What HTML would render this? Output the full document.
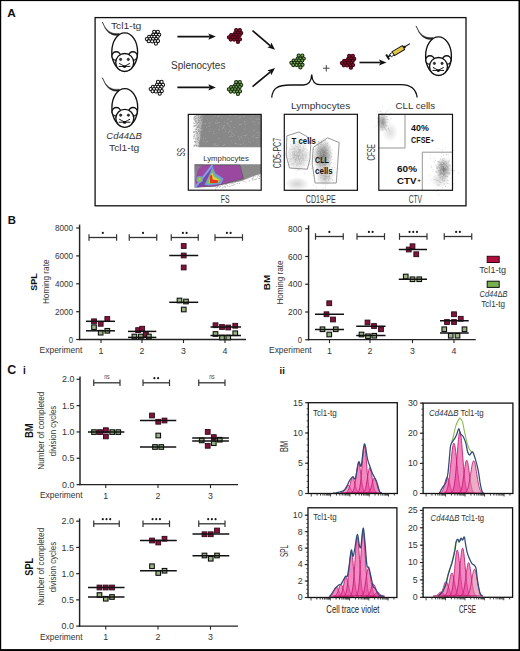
<!DOCTYPE html>
<html><head><meta charset="utf-8"><title>Figure</title>
<style>html,body{margin:0;padding:0;background:#fff;}body{width:520px;height:651px;overflow:hidden;font-family:"Liberation Sans",sans-serif;}svg{display:block;}</style>
</head><body>
<svg width="520" height="651" viewBox="0 0 520 651" font-family='"Liberation Sans", sans-serif'><rect x="0" y="0" width="520" height="651" fill="#fff"/>
<text x="7.30" y="16.90" font-size="11.8" text-anchor="start" fill="#111" font-weight="bold">A</text>
<rect x="95.1" y="17.6" width="370.9" height="188.2" fill="none" stroke="#111" stroke-width="1.3"/>
<g transform="translate(124.7 52)" stroke="#111" stroke-width="1.35" fill="#fff"><path d="M-22.6,-30 Q-16.9,-16.4 -5.5,-18.6 L-5.8,-16.6 Q-17.6,-15.2 -22.1,-29.7 Z" stroke-width="0.45" fill="#222"/><ellipse cx="0" cy="0" rx="12.9" ry="19.2"/><circle cx="-8.5" cy="4" r="4.3"/><circle cx="8.2" cy="4" r="4.3"/><circle cx="0" cy="10.5" r="9"/><circle cx="-4.1" cy="7.4" r="1.15" fill="#333" stroke-width="0.7"/><circle cx="3.6" cy="7.4" r="1.15" fill="#333" stroke-width="0.7"/><ellipse cx="-0.2" cy="14.6" rx="1.7" ry="1.35" fill="#111" stroke="none"/><path d="M-5.6,11.4 Q-3,12.6 -0.6,14.2 M-6,14.4 L-0.6,14.4 M5.2,11.4 Q2.6,12.6 0.2,14.2 M5.6,14.4 L0.2,14.4" fill="none" stroke-width="1"/></g>
<g transform="translate(124.8 107.8)" stroke="#111" stroke-width="1.35" fill="#fff"><path d="M-22.6,-30 Q-16.9,-16.4 -5.5,-18.6 L-5.8,-16.6 Q-17.6,-15.2 -22.1,-29.7 Z" stroke-width="0.45" fill="#222"/><ellipse cx="0" cy="0" rx="12.9" ry="19.2"/><circle cx="-8.5" cy="4" r="4.3"/><circle cx="8.2" cy="4" r="4.3"/><circle cx="0" cy="10.5" r="9"/><circle cx="-4.1" cy="7.4" r="1.15" fill="#333" stroke-width="0.7"/><circle cx="3.6" cy="7.4" r="1.15" fill="#333" stroke-width="0.7"/><ellipse cx="-0.2" cy="14.6" rx="1.7" ry="1.35" fill="#111" stroke="none"/><path d="M-5.6,11.4 Q-3,12.6 -0.6,14.2 M-6,14.4 L-0.6,14.4 M5.2,11.4 Q2.6,12.6 0.2,14.2 M5.6,14.4 L0.2,14.4" fill="none" stroke-width="1"/></g>
<g transform="translate(438.5 56)" stroke="#111" stroke-width="1.35" fill="#fff"><path d="M-22.6,-30 Q-16.9,-16.4 -5.5,-18.6 L-5.8,-16.6 Q-17.6,-15.2 -22.1,-29.7 Z" stroke-width="0.45" fill="#222"/><ellipse cx="0" cy="0" rx="12.9" ry="19.2"/><circle cx="-8.5" cy="4" r="4.3"/><circle cx="8.2" cy="4" r="4.3"/><circle cx="0" cy="10.5" r="9"/><circle cx="-4.1" cy="7.4" r="1.15" fill="#333" stroke-width="0.7"/><circle cx="3.6" cy="7.4" r="1.15" fill="#333" stroke-width="0.7"/><ellipse cx="-0.2" cy="14.6" rx="1.7" ry="1.35" fill="#111" stroke="none"/><path d="M-5.6,11.4 Q-3,12.6 -0.6,14.2 M-6,14.4 L-0.6,14.4 M5.2,11.4 Q2.6,12.6 0.2,14.2 M5.6,14.4 L0.2,14.4" fill="none" stroke-width="1"/></g>
<text x="110.90" y="29.45" font-size="9.8" text-anchor="start" fill="#333" textLength="30.4" lengthAdjust="spacingAndGlyphs">Tcl1-tg</text>
<text x="106.30" y="139.40" font-size="9.8" text-anchor="start" fill="#333" font-style="italic" textLength="35.5" lengthAdjust="spacingAndGlyphs">Cd44<tspan font-style="normal">&#916;</tspan>B</text>
<text x="109.00" y="151.20" font-size="9.8" text-anchor="start" fill="#333" textLength="30.2" lengthAdjust="spacingAndGlyphs">Tcl1-tg</text>
<text x="171.00" y="69.10" font-size="10" text-anchor="start" fill="#333" textLength="54.4" lengthAdjust="spacingAndGlyphs">Splenocytes</text>
<text x="291.00" y="109.30" font-size="9.8" text-anchor="start" fill="#333" textLength="59.2" lengthAdjust="spacingAndGlyphs">Lymphocytes</text>
<text x="395.50" y="109.10" font-size="9.8" text-anchor="start" fill="#333" textLength="39.6" lengthAdjust="spacingAndGlyphs">CLL cells</text>
<g fill="#fff" stroke="#111" stroke-width="1.05"><circle cx="154.20" cy="31.80" r="1.6"/><circle cx="157.80" cy="31.80" r="1.6"/><circle cx="153.20" cy="34.80" r="1.6"/><circle cx="155.90" cy="34.80" r="1.6"/><circle cx="159.20" cy="34.80" r="1.6"/><circle cx="149.20" cy="36.80" r="1.6"/><circle cx="151.80" cy="36.70" r="1.6"/><circle cx="154.40" cy="36.80" r="1.6"/><circle cx="157.70" cy="36.80" r="1.6"/><circle cx="146.90" cy="39.00" r="1.6"/><circle cx="150.20" cy="39.00" r="1.6"/><circle cx="153.00" cy="39.00" r="1.6"/><circle cx="156.30" cy="39.00" r="1.6"/><circle cx="148.80" cy="41.20" r="1.6"/><circle cx="152.10" cy="41.30" r="1.6"/><circle cx="155.20" cy="41.20" r="1.6"/><circle cx="158.00" cy="41.00" r="1.6"/><circle cx="155.90" cy="43.60" r="1.6"/></g>
<g fill="#fff" stroke="#111" stroke-width="1.05"><circle cx="158.00" cy="81.90" r="1.6"/><circle cx="161.60" cy="81.90" r="1.6"/><circle cx="157.00" cy="84.90" r="1.6"/><circle cx="159.70" cy="84.90" r="1.6"/><circle cx="163.00" cy="84.90" r="1.6"/><circle cx="153.00" cy="86.90" r="1.6"/><circle cx="155.60" cy="86.80" r="1.6"/><circle cx="158.20" cy="86.90" r="1.6"/><circle cx="161.50" cy="86.90" r="1.6"/><circle cx="150.70" cy="89.10" r="1.6"/><circle cx="154.00" cy="89.10" r="1.6"/><circle cx="156.80" cy="89.10" r="1.6"/><circle cx="160.10" cy="89.10" r="1.6"/><circle cx="152.60" cy="91.30" r="1.6"/><circle cx="155.90" cy="91.40" r="1.6"/><circle cx="159.00" cy="91.30" r="1.6"/><circle cx="161.80" cy="91.10" r="1.6"/><circle cx="159.70" cy="93.70" r="1.6"/></g>
<g fill="#8a1030" stroke="#3a0410" stroke-width="1.05"><circle cx="236.20" cy="30.10" r="1.6"/><circle cx="239.80" cy="30.10" r="1.6"/><circle cx="235.20" cy="33.10" r="1.6"/><circle cx="237.90" cy="33.10" r="1.6"/><circle cx="241.20" cy="33.10" r="1.6"/><circle cx="231.20" cy="35.10" r="1.6"/><circle cx="233.80" cy="35.00" r="1.6"/><circle cx="236.40" cy="35.10" r="1.6"/><circle cx="239.70" cy="35.10" r="1.6"/><circle cx="228.90" cy="37.30" r="1.6"/><circle cx="232.20" cy="37.30" r="1.6"/><circle cx="235.00" cy="37.30" r="1.6"/><circle cx="238.30" cy="37.30" r="1.6"/><circle cx="230.80" cy="39.50" r="1.6"/><circle cx="234.10" cy="39.60" r="1.6"/><circle cx="237.20" cy="39.50" r="1.6"/><circle cx="240.00" cy="39.30" r="1.6"/><circle cx="237.90" cy="41.90" r="1.6"/></g>
<g fill="#80b060" stroke="#142a0c" stroke-width="1.05"><circle cx="236.20" cy="82.10" r="1.6"/><circle cx="239.80" cy="82.10" r="1.6"/><circle cx="235.20" cy="85.10" r="1.6"/><circle cx="237.90" cy="85.10" r="1.6"/><circle cx="241.20" cy="85.10" r="1.6"/><circle cx="231.20" cy="87.10" r="1.6"/><circle cx="233.80" cy="87.00" r="1.6"/><circle cx="236.40" cy="87.10" r="1.6"/><circle cx="239.70" cy="87.10" r="1.6"/><circle cx="228.90" cy="89.30" r="1.6"/><circle cx="232.20" cy="89.30" r="1.6"/><circle cx="235.00" cy="89.30" r="1.6"/><circle cx="238.30" cy="89.30" r="1.6"/><circle cx="230.80" cy="91.50" r="1.6"/><circle cx="234.10" cy="91.60" r="1.6"/><circle cx="237.20" cy="91.50" r="1.6"/><circle cx="240.00" cy="91.30" r="1.6"/><circle cx="237.90" cy="93.90" r="1.6"/></g>
<g fill="#80b060" stroke="#142a0c" stroke-width="1.05"><circle cx="298.70" cy="55.60" r="1.6"/><circle cx="302.30" cy="55.60" r="1.6"/><circle cx="297.70" cy="58.60" r="1.6"/><circle cx="300.40" cy="58.60" r="1.6"/><circle cx="303.70" cy="58.60" r="1.6"/><circle cx="293.70" cy="60.60" r="1.6"/><circle cx="296.30" cy="60.50" r="1.6"/><circle cx="298.90" cy="60.60" r="1.6"/><circle cx="302.20" cy="60.60" r="1.6"/><circle cx="291.40" cy="62.80" r="1.6"/><circle cx="294.70" cy="62.80" r="1.6"/><circle cx="297.50" cy="62.80" r="1.6"/><circle cx="300.80" cy="62.80" r="1.6"/><circle cx="293.30" cy="65.00" r="1.6"/><circle cx="296.60" cy="65.10" r="1.6"/><circle cx="299.70" cy="65.00" r="1.6"/><circle cx="302.50" cy="64.80" r="1.6"/><circle cx="300.40" cy="67.40" r="1.6"/></g>
<g fill="#8a1030" stroke="#3a0410" stroke-width="1.05"><circle cx="349.20" cy="55.90" r="1.6"/><circle cx="352.80" cy="55.90" r="1.6"/><circle cx="348.20" cy="58.90" r="1.6"/><circle cx="350.90" cy="58.90" r="1.6"/><circle cx="354.20" cy="58.90" r="1.6"/><circle cx="344.20" cy="60.90" r="1.6"/><circle cx="346.80" cy="60.80" r="1.6"/><circle cx="349.40" cy="60.90" r="1.6"/><circle cx="352.70" cy="60.90" r="1.6"/><circle cx="341.90" cy="63.10" r="1.6"/><circle cx="345.20" cy="63.10" r="1.6"/><circle cx="348.00" cy="63.10" r="1.6"/><circle cx="351.30" cy="63.10" r="1.6"/><circle cx="343.80" cy="65.30" r="1.6"/><circle cx="347.10" cy="65.40" r="1.6"/><circle cx="350.20" cy="65.30" r="1.6"/><circle cx="353.00" cy="65.10" r="1.6"/><circle cx="350.90" cy="67.70" r="1.6"/></g>
<line x1="177.40" y1="36.60" x2="209.80" y2="36.60" stroke="#111" stroke-width="1.6"/>
<path d="M215.80,36.60 L208.30,39.70 L209.80,36.60 L208.30,33.50 Z" fill="#111"/>
<line x1="177.40" y1="87.40" x2="209.80" y2="87.40" stroke="#111" stroke-width="1.6"/>
<path d="M215.80,87.40 L208.30,90.50 L209.80,87.40 L208.30,84.30 Z" fill="#111"/>
<line x1="252.50" y1="30.60" x2="270.44" y2="45.91" stroke="#111" stroke-width="1.6"/>
<path d="M275.00,49.80 L267.28,47.29 L270.44,45.91 L271.31,42.57 Z" fill="#111"/>
<line x1="252.50" y1="86.60" x2="270.38" y2="71.82" stroke="#111" stroke-width="1.6"/>
<path d="M275.00,68.00 L271.19,75.17 L270.38,71.82 L267.24,70.39 Z" fill="#111"/>
<line x1="359.50" y1="62.50" x2="380.50" y2="62.50" stroke="#111" stroke-width="1.6"/>
<path d="M386.50,62.50 L379.00,65.60 L380.50,62.50 L379.00,59.40 Z" fill="#111"/>
<line x1="326.30" y1="65.00" x2="326.30" y2="71.50" stroke="#333" stroke-width="0.9"/>
<line x1="323.00" y1="68.20" x2="329.60" y2="68.20" stroke="#333" stroke-width="0.9"/>
<g transform="translate(398.4 50.6) rotate(-31)" stroke="#111"><line x1="7" y1="0" x2="13.5" y2="0" stroke-width="1.1"/><rect x="6" y="-1.4" width="1.8" height="2.8" fill="#111" stroke="none"/><rect x="-6" y="-2.3" width="12" height="4.6" fill="#e2c448" stroke-width="0.9"/><rect x="-9.3" y="-1.6" width="3.3" height="3.2" fill="#fff" stroke-width="0.8"/><line x1="-12.3" y1="0" x2="-9.3" y2="0" stroke-width="1.6"/><line x1="-12.5" y1="-3" x2="-12.5" y2="3" stroke-width="1.9"/></g>
<path d="M271.7,97.6 C272.5,88 278,85 290,85 L303,85 C309,85 311.5,80 311.7,74.5 C312,80 314.5,84.6 320,84.6 L401,84.6 C410,84.6 416,89 417.2,97.5" fill="none" stroke="#111" stroke-width="1.3"/>
<defs><linearGradient id="gl" x1="0" x2="1" y1="0" y2="0"><stop offset="0" stop-color="#8a8a8a" stop-opacity="0"/><stop offset="1" stop-color="#8a8a8a" stop-opacity="1"/></linearGradient></defs>
<path d="M194.5,114.4 L204,114.4 L199.5,147.3 L194.5,147.3 Z" fill="url(#gl)"/>
<path d="M203.5,114.4 L261.2,114.4 L261.2,147.3 L199,147.3 Z" fill="#888"/>
<path d="M194.5 124.9h0.9v0.9h-0.9zM193.6 135.3h0.9v0.9h-0.9zM196.3 131.6h0.9v0.9h-0.9zM198.5 116.4h0.9v0.9h-0.9zM197.7 115.7h0.9v0.9h-0.9zM194.0 116.7h0.9v0.9h-0.9zM200.7 128.1h0.9v0.9h-0.9zM195.3 118.5h0.9v0.9h-0.9zM201.1 134.6h0.9v0.9h-0.9zM196.5 133.0h0.9v0.9h-0.9zM193.3 145.7h0.9v0.9h-0.9zM195.2 142.0h0.9v0.9h-0.9zM194.2 119.1h0.9v0.9h-0.9zM201.0 124.4h0.9v0.9h-0.9zM199.0 120.3h0.9v0.9h-0.9zM196.2 134.9h0.9v0.9h-0.9zM193.6 132.0h0.9v0.9h-0.9zM195.2 116.4h0.9v0.9h-0.9zM196.6 136.3h0.9v0.9h-0.9zM198.7 124.6h0.9v0.9h-0.9zM195.8 129.0h0.9v0.9h-0.9zM198.6 139.9h0.9v0.9h-0.9zM198.8 122.3h0.9v0.9h-0.9zM200.9 131.3h0.9v0.9h-0.9zM195.4 137.8h0.9v0.9h-0.9zM193.9 145.9h0.9v0.9h-0.9zM200.1 127.9h0.9v0.9h-0.9zM198.1 119.4h0.9v0.9h-0.9zM200.2 115.8h0.9v0.9h-0.9zM197.6 139.0h0.9v0.9h-0.9zM195.4 142.5h0.9v0.9h-0.9zM198.0 136.7h0.9v0.9h-0.9zM197.0 133.1h0.9v0.9h-0.9zM200.3 141.4h0.9v0.9h-0.9zM199.1 129.7h0.9v0.9h-0.9zM200.6 116.4h0.9v0.9h-0.9zM201.5 135.2h0.9v0.9h-0.9zM195.2 140.8h0.9v0.9h-0.9zM199.4 126.8h0.9v0.9h-0.9zM198.0 115.2h0.9v0.9h-0.9zM194.2 119.9h0.9v0.9h-0.9zM201.3 116.4h0.9v0.9h-0.9zM195.6 118.6h0.9v0.9h-0.9zM201.3 127.0h0.9v0.9h-0.9zM197.8 117.1h0.9v0.9h-0.9zM200.9 132.1h0.9v0.9h-0.9zM199.8 140.7h0.9v0.9h-0.9zM197.1 123.4h0.9v0.9h-0.9zM201.5 126.0h0.9v0.9h-0.9zM194.1 145.1h0.9v0.9h-0.9zM195.4 120.1h0.9v0.9h-0.9zM197.9 122.0h0.9v0.9h-0.9zM195.3 133.4h0.9v0.9h-0.9zM197.6 114.6h0.9v0.9h-0.9zM198.4 126.3h0.9v0.9h-0.9zM198.1 145.0h0.9v0.9h-0.9zM198.6 131.0h0.9v0.9h-0.9zM193.5 136.1h0.9v0.9h-0.9zM198.9 143.3h0.9v0.9h-0.9zM199.1 142.5h0.9v0.9h-0.9zM196.8 127.1h0.9v0.9h-0.9zM199.7 117.8h0.9v0.9h-0.9zM193.7 116.5h0.9v0.9h-0.9zM194.7 121.2h0.9v0.9h-0.9zM193.5 125.4h0.9v0.9h-0.9zM194.7 114.5h0.9v0.9h-0.9zM196.9 117.7h0.9v0.9h-0.9zM202.5 115.3h0.9v0.9h-0.9zM194.3 134.2h0.9v0.9h-0.9zM196.5 122.6h0.9v0.9h-0.9zM194.2 126.2h0.9v0.9h-0.9zM200.7 141.7h0.9v0.9h-0.9zM197.5 129.4h0.9v0.9h-0.9zM194.1 117.2h0.9v0.9h-0.9zM195.6 125.5h0.9v0.9h-0.9zM194.3 141.0h0.9v0.9h-0.9zM203.4 115.2h0.9v0.9h-0.9zM194.3 131.4h0.9v0.9h-0.9zM193.2 131.9h0.9v0.9h-0.9zM201.8 131.4h0.9v0.9h-0.9zM198.4 142.1h0.9v0.9h-0.9zM196.7 122.9h0.9v0.9h-0.9zM201.0 119.8h0.9v0.9h-0.9zM200.0 131.5h0.9v0.9h-0.9zM195.2 125.0h0.9v0.9h-0.9zM200.8 140.5h0.9v0.9h-0.9zM199.2 141.8h0.9v0.9h-0.9zM198.8 140.7h0.9v0.9h-0.9zM198.2 121.8h0.9v0.9h-0.9zM193.3 125.9h0.9v0.9h-0.9zM196.0 115.4h0.9v0.9h-0.9zM199.9 122.8h0.9v0.9h-0.9zM196.3 145.1h0.9v0.9h-0.9zM200.3 144.5h0.9v0.9h-0.9zM195.7 145.1h0.9v0.9h-0.9zM195.3 121.6h0.9v0.9h-0.9zM195.1 120.8h0.9v0.9h-0.9zM200.7 134.5h0.9v0.9h-0.9zM196.7 141.4h0.9v0.9h-0.9zM199.8 135.4h0.9v0.9h-0.9zM200.1 117.2h0.9v0.9h-0.9zM198.9 143.6h0.9v0.9h-0.9zM196.9 138.5h0.9v0.9h-0.9zM201.1 120.2h0.9v0.9h-0.9zM200.8 125.1h0.9v0.9h-0.9zM195.9 145.6h0.9v0.9h-0.9zM202.0 127.3h0.9v0.9h-0.9zM194.4 137.7h0.9v0.9h-0.9zM194.6 118.6h0.9v0.9h-0.9zM199.1 143.5h0.9v0.9h-0.9zM201.6 119.2h0.9v0.9h-0.9zM197.8 145.9h0.9v0.9h-0.9zM198.3 125.7h0.9v0.9h-0.9zM193.1 118.7h0.9v0.9h-0.9zM197.7 145.6h0.9v0.9h-0.9zM201.4 131.4h0.9v0.9h-0.9zM201.1 128.4h0.9v0.9h-0.9zM194.7 140.9h0.9v0.9h-0.9zM195.9 122.6h0.9v0.9h-0.9zM198.9 122.2h0.9v0.9h-0.9zM197.2 122.8h0.9v0.9h-0.9zM202.6 118.7h0.9v0.9h-0.9zM197.4 125.8h0.9v0.9h-0.9zM200.9 133.2h0.9v0.9h-0.9zM201.6 128.0h0.9v0.9h-0.9zM197.8 130.6h0.9v0.9h-0.9zM193.2 131.3h0.9v0.9h-0.9zM194.7 128.6h0.9v0.9h-0.9zM201.8 114.6h0.9v0.9h-0.9zM197.9 120.0h0.9v0.9h-0.9zM197.6 137.7h0.9v0.9h-0.9zM198.1 124.9h0.9v0.9h-0.9zM200.0 132.3h0.9v0.9h-0.9zM198.9 117.9h0.9v0.9h-0.9zM195.8 122.5h0.9v0.9h-0.9zM197.1 139.2h0.9v0.9h-0.9zM199.7 132.5h0.9v0.9h-0.9zM196.3 143.7h0.9v0.9h-0.9zM197.4 134.1h0.9v0.9h-0.9zM199.3 130.9h0.9v0.9h-0.9zM197.9 129.0h0.9v0.9h-0.9zM201.6 129.8h0.9v0.9h-0.9zM200.3 136.9h0.9v0.9h-0.9zM194.9 144.6h0.9v0.9h-0.9zM201.3 132.4h0.9v0.9h-0.9zM194.1 141.4h0.9v0.9h-0.9zM197.7 118.4h0.9v0.9h-0.9zM195.6 116.8h0.9v0.9h-0.9zM200.2 116.8h0.9v0.9h-0.9zM200.2 139.6h0.9v0.9h-0.9zM200.5 119.4h0.9v0.9h-0.9zM194.2 135.6h0.9v0.9h-0.9zM200.4 142.8h0.9v0.9h-0.9zM202.7 121.5h0.9v0.9h-0.9zM197.6 127.2h0.9v0.9h-0.9zM199.0 146.2h0.9v0.9h-0.9zM197.5 119.7h0.9v0.9h-0.9zM196.1 131.0h0.9v0.9h-0.9zM196.3 120.8h0.9v0.9h-0.9zM193.2 137.6h0.9v0.9h-0.9zM196.9 132.2h0.9v0.9h-0.9zM196.6 115.1h0.9v0.9h-0.9zM197.4 134.5h0.9v0.9h-0.9zM203.6 116.6h0.9v0.9h-0.9zM200.7 139.7h0.9v0.9h-0.9zM195.8 117.9h0.9v0.9h-0.9zM201.5 115.8h0.9v0.9h-0.9zM194.3 123.2h0.9v0.9h-0.9zM201.5 128.0h0.9v0.9h-0.9zM195.0 140.7h0.9v0.9h-0.9zM202.6 119.3h0.9v0.9h-0.9zM199.2 132.8h0.9v0.9h-0.9zM193.6 117.4h0.9v0.9h-0.9zM196.6 136.5h0.9v0.9h-0.9zM203.1 116.8h0.9v0.9h-0.9zM199.9 134.8h0.9v0.9h-0.9zM202.1 117.2h0.9v0.9h-0.9zM202.3 116.6h0.9v0.9h-0.9zM196.1 129.0h0.9v0.9h-0.9zM201.2 132.2h0.9v0.9h-0.9zM194.3 123.1h0.9v0.9h-0.9zM195.1 131.4h0.9v0.9h-0.9zM194.7 118.0h0.9v0.9h-0.9zM195.2 116.1h0.9v0.9h-0.9zM196.0 124.5h0.9v0.9h-0.9zM195.3 138.8h0.9v0.9h-0.9zM194.6 130.5h0.9v0.9h-0.9zM193.2 125.6h0.9v0.9h-0.9zM193.2 122.5h0.9v0.9h-0.9zM197.5 138.0h0.9v0.9h-0.9zM197.9 120.6h0.9v0.9h-0.9zM193.8 144.4h0.9v0.9h-0.9zM196.4 140.7h0.9v0.9h-0.9zM200.6 130.3h0.9v0.9h-0.9zM197.8 127.1h0.9v0.9h-0.9zM201.2 136.5h0.9v0.9h-0.9zM201.1 125.5h0.9v0.9h-0.9zM198.3 137.1h0.9v0.9h-0.9zM196.3 127.5h0.9v0.9h-0.9zM194.4 116.2h0.9v0.9h-0.9z" fill="#8a8a8a" fill-opacity="0.8"/>
<path d="M205.2 138.2h0.8v0.8h-0.8zM216.1 119.7h0.8v0.8h-0.8zM206.0 141.4h0.8v0.8h-0.8zM252.4 136.0h0.8v0.8h-0.8zM217.6 122.3h0.8v0.8h-0.8zM218.3 129.2h0.8v0.8h-0.8zM210.3 128.8h0.8v0.8h-0.8zM216.5 145.3h0.8v0.8h-0.8zM258.4 132.0h0.8v0.8h-0.8zM215.4 145.4h0.8v0.8h-0.8zM219.3 125.9h0.8v0.8h-0.8zM201.1 126.7h0.8v0.8h-0.8zM229.0 130.6h0.8v0.8h-0.8zM212.9 130.7h0.8v0.8h-0.8zM201.3 123.0h0.8v0.8h-0.8zM206.3 127.3h0.8v0.8h-0.8zM203.5 115.2h0.8v0.8h-0.8zM219.0 121.9h0.8v0.8h-0.8zM235.5 131.4h0.8v0.8h-0.8zM245.3 135.5h0.8v0.8h-0.8zM243.2 142.6h0.8v0.8h-0.8zM224.0 124.9h0.8v0.8h-0.8zM259.1 119.3h0.8v0.8h-0.8zM243.7 135.1h0.8v0.8h-0.8zM203.6 141.2h0.8v0.8h-0.8zM253.6 134.6h0.8v0.8h-0.8zM244.3 140.5h0.8v0.8h-0.8zM209.2 131.3h0.8v0.8h-0.8zM230.8 141.2h0.8v0.8h-0.8zM248.5 140.9h0.8v0.8h-0.8zM235.5 143.1h0.8v0.8h-0.8zM241.3 136.7h0.8v0.8h-0.8zM214.6 115.5h0.8v0.8h-0.8zM208.9 126.0h0.8v0.8h-0.8zM207.2 141.2h0.8v0.8h-0.8zM234.0 134.6h0.8v0.8h-0.8zM237.9 136.3h0.8v0.8h-0.8zM229.9 114.6h0.8v0.8h-0.8zM248.1 138.4h0.8v0.8h-0.8zM230.7 131.6h0.8v0.8h-0.8zM239.9 116.6h0.8v0.8h-0.8zM244.5 122.6h0.8v0.8h-0.8zM205.4 123.0h0.8v0.8h-0.8zM244.0 121.1h0.8v0.8h-0.8zM244.6 145.7h0.8v0.8h-0.8zM230.1 126.7h0.8v0.8h-0.8zM229.3 136.4h0.8v0.8h-0.8zM246.3 134.2h0.8v0.8h-0.8zM238.9 117.0h0.8v0.8h-0.8zM209.7 122.6h0.8v0.8h-0.8zM244.8 124.2h0.8v0.8h-0.8zM234.5 114.9h0.8v0.8h-0.8zM204.6 123.1h0.8v0.8h-0.8zM240.6 136.6h0.8v0.8h-0.8zM240.9 123.8h0.8v0.8h-0.8zM231.5 129.4h0.8v0.8h-0.8zM228.5 118.3h0.8v0.8h-0.8zM253.7 120.9h0.8v0.8h-0.8zM258.7 144.5h0.8v0.8h-0.8zM202.0 129.2h0.8v0.8h-0.8zM249.4 145.5h0.8v0.8h-0.8zM227.5 123.1h0.8v0.8h-0.8zM213.4 144.8h0.8v0.8h-0.8zM213.4 133.1h0.8v0.8h-0.8zM209.4 131.3h0.8v0.8h-0.8zM257.2 118.7h0.8v0.8h-0.8zM249.4 130.8h0.8v0.8h-0.8zM253.3 137.0h0.8v0.8h-0.8zM214.7 143.2h0.8v0.8h-0.8zM229.7 115.3h0.8v0.8h-0.8zM201.2 130.2h0.8v0.8h-0.8zM227.6 124.2h0.8v0.8h-0.8zM209.3 125.5h0.8v0.8h-0.8zM219.6 141.4h0.8v0.8h-0.8zM201.1 138.5h0.8v0.8h-0.8zM250.5 118.3h0.8v0.8h-0.8zM255.7 137.3h0.8v0.8h-0.8zM254.2 123.8h0.8v0.8h-0.8zM223.0 127.1h0.8v0.8h-0.8zM259.9 133.4h0.8v0.8h-0.8zM222.3 128.2h0.8v0.8h-0.8zM217.2 116.0h0.8v0.8h-0.8zM207.0 141.2h0.8v0.8h-0.8zM217.9 144.4h0.8v0.8h-0.8zM215.7 123.0h0.8v0.8h-0.8zM231.1 120.6h0.8v0.8h-0.8zM223.0 145.1h0.8v0.8h-0.8zM253.2 140.5h0.8v0.8h-0.8zM238.2 143.7h0.8v0.8h-0.8zM256.5 132.1h0.8v0.8h-0.8zM243.5 116.1h0.8v0.8h-0.8zM244.2 128.9h0.8v0.8h-0.8zM245.4 135.1h0.8v0.8h-0.8zM217.9 116.1h0.8v0.8h-0.8zM255.7 118.6h0.8v0.8h-0.8zM228.9 125.5h0.8v0.8h-0.8zM218.6 138.1h0.8v0.8h-0.8zM258.6 122.8h0.8v0.8h-0.8zM239.7 124.1h0.8v0.8h-0.8zM233.9 127.1h0.8v0.8h-0.8zM210.9 119.7h0.8v0.8h-0.8zM213.3 143.5h0.8v0.8h-0.8zM230.3 121.5h0.8v0.8h-0.8zM254.5 146.4h0.8v0.8h-0.8zM227.5 119.0h0.8v0.8h-0.8zM212.4 117.4h0.8v0.8h-0.8zM221.2 117.4h0.8v0.8h-0.8zM215.1 122.8h0.8v0.8h-0.8zM234.6 142.9h0.8v0.8h-0.8zM245.2 127.7h0.8v0.8h-0.8zM225.4 131.3h0.8v0.8h-0.8zM223.2 125.3h0.8v0.8h-0.8zM204.7 123.4h0.8v0.8h-0.8zM258.1 118.5h0.8v0.8h-0.8zM230.7 134.6h0.8v0.8h-0.8zM251.9 121.4h0.8v0.8h-0.8zM217.0 122.5h0.8v0.8h-0.8zM224.6 128.8h0.8v0.8h-0.8zM257.3 141.7h0.8v0.8h-0.8zM252.5 115.2h0.8v0.8h-0.8zM202.9 137.2h0.8v0.8h-0.8zM253.8 129.6h0.8v0.8h-0.8zM235.6 114.5h0.8v0.8h-0.8zM224.1 144.2h0.8v0.8h-0.8zM249.7 141.9h0.8v0.8h-0.8zM258.4 122.5h0.8v0.8h-0.8zM207.4 119.4h0.8v0.8h-0.8zM231.8 136.3h0.8v0.8h-0.8zM256.5 137.6h0.8v0.8h-0.8zM239.2 139.0h0.8v0.8h-0.8zM228.0 132.1h0.8v0.8h-0.8zM203.3 139.5h0.8v0.8h-0.8zM214.7 143.9h0.8v0.8h-0.8zM239.1 124.2h0.8v0.8h-0.8zM208.6 122.6h0.8v0.8h-0.8zM238.5 136.9h0.8v0.8h-0.8zM207.6 116.8h0.8v0.8h-0.8zM231.9 133.2h0.8v0.8h-0.8zM223.9 121.7h0.8v0.8h-0.8zM236.5 114.8h0.8v0.8h-0.8zM218.8 129.2h0.8v0.8h-0.8zM257.6 135.1h0.8v0.8h-0.8zM253.1 129.7h0.8v0.8h-0.8zM214.9 122.4h0.8v0.8h-0.8zM257.7 137.0h0.8v0.8h-0.8zM219.1 115.2h0.8v0.8h-0.8zM230.4 136.1h0.8v0.8h-0.8zM225.8 122.7h0.8v0.8h-0.8zM240.4 144.1h0.8v0.8h-0.8zM214.4 115.6h0.8v0.8h-0.8z" fill="#bbbbbb" fill-opacity="0.7"/>
<text x="226.00" y="161.10" font-size="8" text-anchor="middle" fill="#333" textLength="45.7" lengthAdjust="spacingAndGlyphs">Lymphocytes</text>
<path d="M194.4,164.3 L261.2,164.3 L261.2,173.5 L250,177.5 L240.6,181.3 L213.6,186.3 L194.4,187.8 Z" fill="#8a8a8a"/>
<path d="M230.6 182.8h0.8v0.8h-0.8zM246.4 177.5h0.8v0.8h-0.8zM251.7 178.8h0.8v0.8h-0.8zM238.2 179.7h0.8v0.8h-0.8zM259.6 174.5h0.8v0.8h-0.8zM252.7 175.9h0.8v0.8h-0.8zM225.2 186.0h0.8v0.8h-0.8zM228.6 186.0h0.8v0.8h-0.8zM237.8 179.7h0.8v0.8h-0.8zM225.3 184.2h0.8v0.8h-0.8zM245.6 181.4h0.8v0.8h-0.8zM221.7 185.1h0.8v0.8h-0.8zM224.8 187.2h0.8v0.8h-0.8zM221.5 183.4h0.8v0.8h-0.8zM217.8 186.1h0.8v0.8h-0.8zM256.3 178.2h0.8v0.8h-0.8zM248.7 180.8h0.8v0.8h-0.8zM257.9 175.0h0.8v0.8h-0.8zM223.5 187.3h0.8v0.8h-0.8zM249.3 175.9h0.8v0.8h-0.8zM245.6 178.6h0.8v0.8h-0.8zM232.2 182.0h0.8v0.8h-0.8zM222.8 182.8h0.8v0.8h-0.8zM227.9 183.2h0.8v0.8h-0.8zM259.0 173.7h0.8v0.8h-0.8zM259.4 174.0h0.8v0.8h-0.8zM231.4 184.6h0.8v0.8h-0.8zM252.8 176.9h0.8v0.8h-0.8zM217.3 186.7h0.8v0.8h-0.8zM232.1 184.9h0.8v0.8h-0.8zM223.9 184.4h0.8v0.8h-0.8zM256.3 174.0h0.8v0.8h-0.8zM233.9 183.9h0.8v0.8h-0.8zM250.3 175.6h0.8v0.8h-0.8zM216.6 184.8h0.8v0.8h-0.8zM257.3 174.8h0.8v0.8h-0.8zM249.4 180.2h0.8v0.8h-0.8zM230.6 182.1h0.8v0.8h-0.8zM259.1 176.2h0.8v0.8h-0.8zM227.1 185.3h0.8v0.8h-0.8zM229.6 182.4h0.8v0.8h-0.8zM215.2 188.7h0.8v0.8h-0.8zM257.2 176.8h0.8v0.8h-0.8zM258.4 173.4h0.8v0.8h-0.8zM225.8 184.4h0.8v0.8h-0.8zM259.0 177.9h0.8v0.8h-0.8zM232.8 181.4h0.8v0.8h-0.8zM234.8 182.1h0.8v0.8h-0.8zM257.7 174.4h0.8v0.8h-0.8zM251.9 178.7h0.8v0.8h-0.8zM252.8 178.6h0.8v0.8h-0.8zM242.9 179.1h0.8v0.8h-0.8zM229.7 182.8h0.8v0.8h-0.8zM251.0 175.6h0.8v0.8h-0.8zM224.1 186.2h0.8v0.8h-0.8zM226.4 182.2h0.8v0.8h-0.8zM216.6 187.3h0.8v0.8h-0.8zM230.0 185.8h0.8v0.8h-0.8zM255.6 178.9h0.8v0.8h-0.8zM227.2 182.1h0.8v0.8h-0.8zM219.4 186.2h0.8v0.8h-0.8zM247.6 178.4h0.8v0.8h-0.8zM225.8 184.1h0.8v0.8h-0.8zM243.5 180.6h0.8v0.8h-0.8zM249.4 179.9h0.8v0.8h-0.8zM245.6 177.3h0.8v0.8h-0.8zM253.7 176.0h0.8v0.8h-0.8zM241.1 179.8h0.8v0.8h-0.8zM249.0 176.8h0.8v0.8h-0.8zM226.4 183.1h0.8v0.8h-0.8zM222.1 187.4h0.8v0.8h-0.8zM241.6 179.4h0.8v0.8h-0.8zM233.2 185.0h0.8v0.8h-0.8zM238.3 179.8h0.8v0.8h-0.8zM252.2 178.2h0.8v0.8h-0.8zM260.6 173.2h0.8v0.8h-0.8zM236.8 183.1h0.8v0.8h-0.8zM253.7 179.1h0.8v0.8h-0.8zM216.9 185.9h0.8v0.8h-0.8zM220.5 184.4h0.8v0.8h-0.8zM259.8 175.8h0.8v0.8h-0.8zM257.8 175.3h0.8v0.8h-0.8zM254.8 176.5h0.8v0.8h-0.8zM227.0 185.6h0.8v0.8h-0.8zM258.5 173.8h0.8v0.8h-0.8zM242.4 180.6h0.8v0.8h-0.8zM225.0 184.1h0.8v0.8h-0.8zM221.5 184.2h0.8v0.8h-0.8zM226.7 184.8h0.8v0.8h-0.8zM245.0 177.9h0.8v0.8h-0.8zM215.5 186.4h0.8v0.8h-0.8zM246.2 177.5h0.8v0.8h-0.8zM229.4 182.1h0.8v0.8h-0.8zM251.6 177.8h0.8v0.8h-0.8zM217.9 184.6h0.8v0.8h-0.8zM233.2 182.8h0.8v0.8h-0.8zM244.4 177.5h0.8v0.8h-0.8zM222.5 186.4h0.8v0.8h-0.8zM233.9 181.3h0.8v0.8h-0.8zM229.1 185.9h0.8v0.8h-0.8zM229.4 183.9h0.8v0.8h-0.8zM231.4 182.6h0.8v0.8h-0.8zM254.8 179.2h0.8v0.8h-0.8zM231.7 181.4h0.8v0.8h-0.8zM248.5 176.9h0.8v0.8h-0.8zM215.3 189.4h0.8v0.8h-0.8zM234.5 183.8h0.8v0.8h-0.8zM233.7 184.3h0.8v0.8h-0.8zM236.2 180.0h0.8v0.8h-0.8zM215.7 187.5h0.8v0.8h-0.8zM244.5 181.5h0.8v0.8h-0.8zM219.1 186.9h0.8v0.8h-0.8zM232.1 182.9h0.8v0.8h-0.8zM221.7 184.5h0.8v0.8h-0.8zM239.0 183.1h0.8v0.8h-0.8zM220.0 186.0h0.8v0.8h-0.8zM252.0 179.8h0.8v0.8h-0.8zM224.1 183.1h0.8v0.8h-0.8zM258.4 178.1h0.8v0.8h-0.8zM237.2 179.2h0.8v0.8h-0.8z" fill="#999" fill-opacity="0.7"/>
<path d="M199,165 L239.9,165 L243.5,178.5 L233.5,181.3 L215,186.3 L196.5,187 L195.4,180 Z" fill="#9a48a0"/>
<path d="M194.6,164.4 L203,164.4 L195,173 Z" fill="#8a7a90"/>
<path d="M195.1,165 L239.9,165 L243.5,178.5 L233.5,181.3 L215,186.3 L196.5,187" fill="none" stroke="#555" stroke-width="0.6"/>
<path d="M195.5,187.6 L212.5,165 L214,174 L209,185.6 Z" fill="#7848a8"/>
<path d="M195.5,186.8 L212.5,165.2" stroke="#80a0e8" stroke-width="2"/>
<path d="M204.5,184.8 L208.5,176.5 L212.5,166.5 L215.5,173.3 L223.6,178.8 L221,184 L209,185.6 Z" fill="#7898e0"/>
<path d="M206,183.4 L209,177 L212.4,169.5 L214.6,175.5 L221.2,179.3 L219,182.8 L209,184.2 Z" fill="#70c070"/>
<path d="M208.6,183 L210,177.5 L212.3,172.5 L214,177 L219.6,180 L217.6,182.8 Z" fill="#e8d040"/>
<path d="M209.8,183 L209.9,176 L212,174.8 L212.6,179.4 L218.6,180.4 L217.4,183 Z" fill="#e83818"/>
<circle cx="199.6" cy="179.4" r="3.3" fill="#7898e0"/><circle cx="199.6" cy="179.4" r="2.5" fill="#80c048"/><circle cx="199.6" cy="179.4" r="1.1" fill="#c8c838"/>
<rect x="188.3" y="114.4" width="72.9" height="75.8" fill="none" stroke="#111" stroke-width="1.2"/>
<text x="0" y="0" font-size="10.8" text-anchor="middle" fill="#333" textLength="8.6" lengthAdjust="spacingAndGlyphs" transform="translate(184.87 152.20) rotate(-90)">SS</text>
<text x="225.20" y="202.90" font-size="10.8" text-anchor="middle" fill="#333" textLength="8.8" lengthAdjust="spacingAndGlyphs">FS</text>
<defs><radialGradient id="rg1"><stop offset="0" stop-color="#a8a8a8" stop-opacity="0.8"/><stop offset="0.45" stop-color="#a8a8a8" stop-opacity="0.48"/><stop offset="1" stop-color="#a8a8a8" stop-opacity="0"/></radialGradient></defs>
<ellipse cx="298" cy="156" rx="12" ry="16" fill="url(#rg1)"/>
<defs><radialGradient id="rg2"><stop offset="0" stop-color="#707070" stop-opacity="0.95"/><stop offset="0.45" stop-color="#707070" stop-opacity="0.57"/><stop offset="1" stop-color="#707070" stop-opacity="0"/></radialGradient></defs>
<ellipse cx="323" cy="156" rx="10" ry="18" fill="url(#rg2)"/>
<defs><radialGradient id="rg3"><stop offset="0" stop-color="#9a9a9a" stop-opacity="0.7"/><stop offset="0.45" stop-color="#9a9a9a" stop-opacity="0.42"/><stop offset="1" stop-color="#9a9a9a" stop-opacity="0"/></radialGradient></defs>
<ellipse cx="325" cy="176" rx="9" ry="10" fill="url(#rg3)"/>
<defs><radialGradient id="rg4"><stop offset="0" stop-color="#c0c0c0" stop-opacity="0.7"/><stop offset="0.45" stop-color="#c0c0c0" stop-opacity="0.42"/><stop offset="1" stop-color="#c0c0c0" stop-opacity="0"/></radialGradient></defs>
<ellipse cx="297" cy="184" rx="12" ry="7" fill="url(#rg4)"/>
<path d="M303.3 150.9h0.8v0.8h-0.8zM304.9 148.5h0.8v0.8h-0.8zM299.6 150.3h0.8v0.8h-0.8zM298.9 149.2h0.8v0.8h-0.8zM288.4 161.7h0.8v0.8h-0.8zM299.8 150.1h0.8v0.8h-0.8zM299.2 160.9h0.8v0.8h-0.8zM292.1 153.2h0.8v0.8h-0.8zM301.2 157.7h0.8v0.8h-0.8zM296.0 139.3h0.8v0.8h-0.8zM305.5 156.3h0.8v0.8h-0.8zM298.1 152.1h0.8v0.8h-0.8zM299.6 151.0h0.8v0.8h-0.8zM291.9 148.8h0.8v0.8h-0.8zM294.4 149.7h0.8v0.8h-0.8zM291.0 158.5h0.8v0.8h-0.8zM290.1 158.6h0.8v0.8h-0.8zM291.9 156.5h0.8v0.8h-0.8zM306.2 155.4h0.8v0.8h-0.8zM293.6 154.3h0.8v0.8h-0.8zM298.9 141.9h0.8v0.8h-0.8zM294.4 155.1h0.8v0.8h-0.8zM295.2 154.6h0.8v0.8h-0.8zM302.4 159.4h0.8v0.8h-0.8zM303.4 158.1h0.8v0.8h-0.8zM296.3 153.9h0.8v0.8h-0.8zM296.4 151.8h0.8v0.8h-0.8zM296.9 141.9h0.8v0.8h-0.8zM296.0 153.8h0.8v0.8h-0.8zM292.2 153.8h0.8v0.8h-0.8zM301.1 152.8h0.8v0.8h-0.8zM310.5 135.8h0.8v0.8h-0.8zM296.8 141.2h0.8v0.8h-0.8zM303.9 172.6h0.8v0.8h-0.8zM283.0 154.9h0.8v0.8h-0.8zM301.1 151.9h0.8v0.8h-0.8zM301.3 138.3h0.8v0.8h-0.8zM303.1 156.6h0.8v0.8h-0.8zM298.1 149.9h0.8v0.8h-0.8zM301.8 150.6h0.8v0.8h-0.8zM299.3 150.4h0.8v0.8h-0.8zM284.5 153.8h0.8v0.8h-0.8zM299.2 159.3h0.8v0.8h-0.8zM292.7 153.8h0.8v0.8h-0.8zM301.7 155.0h0.8v0.8h-0.8zM305.5 167.9h0.8v0.8h-0.8zM292.5 140.6h0.8v0.8h-0.8zM303.1 164.7h0.8v0.8h-0.8zM303.5 159.7h0.8v0.8h-0.8zM294.3 149.0h0.8v0.8h-0.8zM303.3 147.6h0.8v0.8h-0.8zM287.1 147.0h0.8v0.8h-0.8zM313.0 167.5h0.8v0.8h-0.8zM293.9 148.9h0.8v0.8h-0.8zM299.4 148.8h0.8v0.8h-0.8zM305.9 153.5h0.8v0.8h-0.8zM291.5 163.2h0.8v0.8h-0.8zM294.5 155.5h0.8v0.8h-0.8zM297.9 151.8h0.8v0.8h-0.8zM299.9 149.2h0.8v0.8h-0.8zM286.9 138.5h0.8v0.8h-0.8zM290.4 148.7h0.8v0.8h-0.8zM297.9 154.4h0.8v0.8h-0.8zM301.3 154.8h0.8v0.8h-0.8zM293.2 149.0h0.8v0.8h-0.8zM285.3 152.8h0.8v0.8h-0.8zM300.9 157.7h0.8v0.8h-0.8zM297.3 152.8h0.8v0.8h-0.8zM303.6 154.1h0.8v0.8h-0.8zM302.4 158.1h0.8v0.8h-0.8zM299.3 163.1h0.8v0.8h-0.8zM294.6 151.5h0.8v0.8h-0.8zM293.2 148.4h0.8v0.8h-0.8zM307.3 166.3h0.8v0.8h-0.8zM298.1 158.0h0.8v0.8h-0.8zM305.1 159.7h0.8v0.8h-0.8zM305.2 145.2h0.8v0.8h-0.8zM294.2 157.2h0.8v0.8h-0.8zM306.6 154.7h0.8v0.8h-0.8zM292.8 151.5h0.8v0.8h-0.8zM294.0 148.0h0.8v0.8h-0.8zM307.0 149.6h0.8v0.8h-0.8zM298.1 169.1h0.8v0.8h-0.8zM305.1 156.4h0.8v0.8h-0.8zM294.3 156.9h0.8v0.8h-0.8zM307.7 158.4h0.8v0.8h-0.8zM305.6 154.7h0.8v0.8h-0.8zM301.1 152.6h0.8v0.8h-0.8zM300.6 163.1h0.8v0.8h-0.8zM289.4 153.6h0.8v0.8h-0.8zM299.4 150.0h0.8v0.8h-0.8zM296.2 159.5h0.8v0.8h-0.8zM310.0 158.4h0.8v0.8h-0.8zM300.0 143.1h0.8v0.8h-0.8zM309.6 154.5h0.8v0.8h-0.8zM297.8 146.2h0.8v0.8h-0.8zM297.7 146.3h0.8v0.8h-0.8zM298.4 157.3h0.8v0.8h-0.8zM298.2 156.0h0.8v0.8h-0.8zM292.9 164.0h0.8v0.8h-0.8zM294.1 141.3h0.8v0.8h-0.8zM296.9 148.7h0.8v0.8h-0.8zM291.9 151.5h0.8v0.8h-0.8zM299.7 145.7h0.8v0.8h-0.8zM297.2 164.0h0.8v0.8h-0.8zM302.1 152.9h0.8v0.8h-0.8zM298.8 153.2h0.8v0.8h-0.8zM297.7 159.1h0.8v0.8h-0.8zM297.4 137.2h0.8v0.8h-0.8zM297.9 147.8h0.8v0.8h-0.8zM301.9 149.7h0.8v0.8h-0.8zM298.9 169.2h0.8v0.8h-0.8zM291.7 146.1h0.8v0.8h-0.8zM289.5 137.2h0.8v0.8h-0.8zM286.7 156.6h0.8v0.8h-0.8zM294.2 140.9h0.8v0.8h-0.8zM289.1 158.3h0.8v0.8h-0.8zM293.3 151.4h0.8v0.8h-0.8zM300.0 163.5h0.8v0.8h-0.8zM309.6 161.2h0.8v0.8h-0.8zM298.9 155.3h0.8v0.8h-0.8zM308.8 164.0h0.8v0.8h-0.8zM296.1 157.2h0.8v0.8h-0.8zM299.7 154.4h0.8v0.8h-0.8zM295.0 144.7h0.8v0.8h-0.8zM294.8 143.2h0.8v0.8h-0.8zM305.3 157.8h0.8v0.8h-0.8zM290.8 163.8h0.8v0.8h-0.8zM303.4 140.6h0.8v0.8h-0.8zM309.0 159.7h0.8v0.8h-0.8zM310.4 145.4h0.8v0.8h-0.8zM301.2 157.0h0.8v0.8h-0.8zM299.2 155.2h0.8v0.8h-0.8zM304.3 143.5h0.8v0.8h-0.8zM290.5 144.2h0.8v0.8h-0.8zM294.7 149.8h0.8v0.8h-0.8zM300.2 155.9h0.8v0.8h-0.8zM298.2 149.3h0.8v0.8h-0.8zM295.3 160.7h0.8v0.8h-0.8zM302.6 154.7h0.8v0.8h-0.8zM296.1 164.9h0.8v0.8h-0.8zM294.4 158.5h0.8v0.8h-0.8zM304.9 152.1h0.8v0.8h-0.8zM303.0 146.2h0.8v0.8h-0.8zM304.1 155.4h0.8v0.8h-0.8zM288.5 158.7h0.8v0.8h-0.8zM292.6 163.0h0.8v0.8h-0.8zM293.9 152.8h0.8v0.8h-0.8zM299.7 151.7h0.8v0.8h-0.8zM299.6 150.1h0.8v0.8h-0.8zM302.0 154.0h0.8v0.8h-0.8zM299.3 134.7h0.8v0.8h-0.8zM305.0 154.2h0.8v0.8h-0.8zM287.3 154.7h0.8v0.8h-0.8zM300.8 161.5h0.8v0.8h-0.8zM291.5 164.8h0.8v0.8h-0.8zM297.0 170.8h0.8v0.8h-0.8zM297.1 158.8h0.8v0.8h-0.8zM295.8 146.2h0.8v0.8h-0.8zM304.6 160.3h0.8v0.8h-0.8zM307.2 160.0h0.8v0.8h-0.8zM294.6 142.4h0.8v0.8h-0.8zM294.1 149.3h0.8v0.8h-0.8zM293.1 158.1h0.8v0.8h-0.8zM300.0 152.1h0.8v0.8h-0.8zM299.0 153.0h0.8v0.8h-0.8zM299.3 159.3h0.8v0.8h-0.8zM303.8 149.2h0.8v0.8h-0.8zM289.0 164.0h0.8v0.8h-0.8zM298.7 161.7h0.8v0.8h-0.8zM288.1 151.7h0.8v0.8h-0.8zM298.2 143.9h0.8v0.8h-0.8zM294.9 159.1h0.8v0.8h-0.8zM304.5 165.2h0.8v0.8h-0.8zM292.8 144.2h0.8v0.8h-0.8zM301.1 160.6h0.8v0.8h-0.8zM299.2 144.9h0.8v0.8h-0.8zM302.7 159.5h0.8v0.8h-0.8zM301.3 150.6h0.8v0.8h-0.8zM299.8 159.5h0.8v0.8h-0.8zM294.6 141.1h0.8v0.8h-0.8zM300.0 157.4h0.8v0.8h-0.8zM298.1 160.2h0.8v0.8h-0.8zM294.5 153.4h0.8v0.8h-0.8zM296.2 158.0h0.8v0.8h-0.8zM307.6 152.2h0.8v0.8h-0.8zM310.3 164.7h0.8v0.8h-0.8zM302.7 158.1h0.8v0.8h-0.8zM308.6 152.7h0.8v0.8h-0.8zM297.3 146.6h0.8v0.8h-0.8zM300.8 163.4h0.8v0.8h-0.8zM301.2 157.0h0.8v0.8h-0.8zM296.8 155.2h0.8v0.8h-0.8zM289.4 161.3h0.8v0.8h-0.8zM295.5 146.3h0.8v0.8h-0.8zM293.5 148.2h0.8v0.8h-0.8zM303.1 161.4h0.8v0.8h-0.8zM289.9 160.5h0.8v0.8h-0.8zM303.3 149.9h0.8v0.8h-0.8zM289.1 148.8h0.8v0.8h-0.8z" fill="#888" fill-opacity="0.35"/>
<path d="M319.8 165.4h0.8v0.8h-0.8zM321.2 141.7h0.8v0.8h-0.8zM324.2 146.7h0.8v0.8h-0.8zM327.5 149.9h0.8v0.8h-0.8zM319.5 153.5h0.8v0.8h-0.8zM320.3 175.0h0.8v0.8h-0.8zM327.3 168.0h0.8v0.8h-0.8zM324.6 146.5h0.8v0.8h-0.8zM320.4 156.5h0.8v0.8h-0.8zM318.1 167.1h0.8v0.8h-0.8zM319.3 154.9h0.8v0.8h-0.8zM317.8 141.4h0.8v0.8h-0.8zM326.0 175.3h0.8v0.8h-0.8zM323.9 152.2h0.8v0.8h-0.8zM309.5 163.7h0.8v0.8h-0.8zM329.1 165.0h0.8v0.8h-0.8zM327.6 176.8h0.8v0.8h-0.8zM328.6 157.6h0.8v0.8h-0.8zM328.3 169.8h0.8v0.8h-0.8zM315.3 157.9h0.8v0.8h-0.8zM315.9 160.9h0.8v0.8h-0.8zM325.9 151.3h0.8v0.8h-0.8zM312.7 175.0h0.8v0.8h-0.8zM324.9 176.7h0.8v0.8h-0.8zM316.4 172.6h0.8v0.8h-0.8zM333.4 182.1h0.8v0.8h-0.8zM321.9 164.7h0.8v0.8h-0.8zM322.2 172.0h0.8v0.8h-0.8zM328.2 162.9h0.8v0.8h-0.8zM316.2 169.4h0.8v0.8h-0.8zM320.7 168.3h0.8v0.8h-0.8zM324.3 178.2h0.8v0.8h-0.8zM328.7 157.5h0.8v0.8h-0.8zM324.7 179.6h0.8v0.8h-0.8zM320.3 166.3h0.8v0.8h-0.8zM329.0 174.6h0.8v0.8h-0.8zM325.6 148.8h0.8v0.8h-0.8zM316.7 164.5h0.8v0.8h-0.8zM324.9 187.5h0.8v0.8h-0.8zM318.7 173.4h0.8v0.8h-0.8zM326.9 145.3h0.8v0.8h-0.8zM318.9 163.7h0.8v0.8h-0.8zM320.5 160.5h0.8v0.8h-0.8zM325.4 153.9h0.8v0.8h-0.8zM325.3 155.6h0.8v0.8h-0.8zM320.3 167.4h0.8v0.8h-0.8zM320.1 164.9h0.8v0.8h-0.8zM331.0 162.3h0.8v0.8h-0.8zM322.3 169.4h0.8v0.8h-0.8zM321.2 172.8h0.8v0.8h-0.8zM316.6 168.2h0.8v0.8h-0.8zM320.4 154.0h0.8v0.8h-0.8zM331.8 153.5h0.8v0.8h-0.8zM331.8 168.6h0.8v0.8h-0.8zM330.3 152.2h0.8v0.8h-0.8zM329.0 176.6h0.8v0.8h-0.8zM322.4 160.7h0.8v0.8h-0.8zM335.3 163.8h0.8v0.8h-0.8zM320.9 155.7h0.8v0.8h-0.8zM325.2 165.3h0.8v0.8h-0.8zM323.9 179.2h0.8v0.8h-0.8zM321.4 166.7h0.8v0.8h-0.8zM330.3 152.0h0.8v0.8h-0.8zM328.2 180.3h0.8v0.8h-0.8zM316.2 151.0h0.8v0.8h-0.8zM317.8 143.5h0.8v0.8h-0.8zM325.3 143.4h0.8v0.8h-0.8zM325.5 176.5h0.8v0.8h-0.8zM314.9 158.8h0.8v0.8h-0.8zM313.4 169.8h0.8v0.8h-0.8zM319.3 159.3h0.8v0.8h-0.8zM323.3 167.5h0.8v0.8h-0.8zM321.3 162.2h0.8v0.8h-0.8zM320.3 163.1h0.8v0.8h-0.8zM317.1 162.6h0.8v0.8h-0.8zM313.3 157.1h0.8v0.8h-0.8zM332.6 162.8h0.8v0.8h-0.8zM316.7 164.6h0.8v0.8h-0.8zM318.1 145.5h0.8v0.8h-0.8zM319.3 169.4h0.8v0.8h-0.8zM324.9 161.0h0.8v0.8h-0.8zM318.4 151.2h0.8v0.8h-0.8zM329.7 164.4h0.8v0.8h-0.8zM318.2 140.9h0.8v0.8h-0.8zM316.2 186.8h0.8v0.8h-0.8zM317.3 161.2h0.8v0.8h-0.8zM324.1 160.4h0.8v0.8h-0.8zM321.6 148.3h0.8v0.8h-0.8zM317.7 178.9h0.8v0.8h-0.8zM319.2 170.5h0.8v0.8h-0.8zM314.5 159.3h0.8v0.8h-0.8zM324.3 172.4h0.8v0.8h-0.8zM317.4 168.0h0.8v0.8h-0.8zM324.9 154.6h0.8v0.8h-0.8zM325.4 153.0h0.8v0.8h-0.8zM319.0 161.8h0.8v0.8h-0.8zM309.4 160.9h0.8v0.8h-0.8zM318.0 147.4h0.8v0.8h-0.8zM320.9 169.6h0.8v0.8h-0.8zM321.0 174.7h0.8v0.8h-0.8zM317.2 148.9h0.8v0.8h-0.8zM330.8 166.0h0.8v0.8h-0.8zM327.7 153.7h0.8v0.8h-0.8zM327.0 164.6h0.8v0.8h-0.8zM326.2 162.3h0.8v0.8h-0.8zM329.0 155.5h0.8v0.8h-0.8zM318.2 147.2h0.8v0.8h-0.8zM328.8 154.6h0.8v0.8h-0.8zM317.8 152.6h0.8v0.8h-0.8zM320.8 149.3h0.8v0.8h-0.8zM321.5 155.7h0.8v0.8h-0.8zM320.2 152.4h0.8v0.8h-0.8zM323.2 157.4h0.8v0.8h-0.8zM323.6 164.5h0.8v0.8h-0.8zM324.7 140.1h0.8v0.8h-0.8zM320.3 154.0h0.8v0.8h-0.8zM326.9 146.2h0.8v0.8h-0.8zM319.4 159.1h0.8v0.8h-0.8zM321.3 171.9h0.8v0.8h-0.8zM320.8 171.6h0.8v0.8h-0.8zM315.7 143.9h0.8v0.8h-0.8zM329.1 166.4h0.8v0.8h-0.8zM325.4 163.2h0.8v0.8h-0.8zM325.4 149.8h0.8v0.8h-0.8zM327.7 156.7h0.8v0.8h-0.8zM327.9 162.9h0.8v0.8h-0.8zM313.1 149.1h0.8v0.8h-0.8zM328.6 160.6h0.8v0.8h-0.8zM321.0 164.4h0.8v0.8h-0.8zM320.9 156.6h0.8v0.8h-0.8zM323.5 163.4h0.8v0.8h-0.8zM330.6 162.5h0.8v0.8h-0.8zM332.4 180.0h0.8v0.8h-0.8zM331.6 172.6h0.8v0.8h-0.8zM323.7 163.4h0.8v0.8h-0.8zM322.3 154.7h0.8v0.8h-0.8zM322.7 155.6h0.8v0.8h-0.8zM331.2 167.3h0.8v0.8h-0.8zM320.8 142.8h0.8v0.8h-0.8zM322.7 157.8h0.8v0.8h-0.8zM317.6 150.6h0.8v0.8h-0.8zM311.7 167.7h0.8v0.8h-0.8zM322.7 187.8h0.8v0.8h-0.8zM322.8 160.5h0.8v0.8h-0.8zM330.2 163.3h0.8v0.8h-0.8zM323.8 158.3h0.8v0.8h-0.8zM320.0 177.0h0.8v0.8h-0.8zM328.0 179.2h0.8v0.8h-0.8zM321.3 162.3h0.8v0.8h-0.8zM318.6 171.7h0.8v0.8h-0.8zM316.0 167.6h0.8v0.8h-0.8zM328.5 176.1h0.8v0.8h-0.8zM318.3 172.9h0.8v0.8h-0.8zM319.4 154.4h0.8v0.8h-0.8zM316.4 173.6h0.8v0.8h-0.8zM331.2 156.1h0.8v0.8h-0.8zM319.2 158.6h0.8v0.8h-0.8zM335.5 172.0h0.8v0.8h-0.8zM320.3 144.1h0.8v0.8h-0.8zM319.6 173.9h0.8v0.8h-0.8zM332.3 159.3h0.8v0.8h-0.8zM319.5 156.9h0.8v0.8h-0.8zM313.6 171.1h0.8v0.8h-0.8zM317.6 172.6h0.8v0.8h-0.8zM314.5 149.3h0.8v0.8h-0.8zM324.4 154.4h0.8v0.8h-0.8zM326.9 162.1h0.8v0.8h-0.8zM317.1 168.2h0.8v0.8h-0.8zM327.2 142.9h0.8v0.8h-0.8zM332.1 167.0h0.8v0.8h-0.8zM326.8 143.4h0.8v0.8h-0.8zM319.4 158.5h0.8v0.8h-0.8zM328.4 147.4h0.8v0.8h-0.8zM318.6 141.7h0.8v0.8h-0.8zM321.8 165.5h0.8v0.8h-0.8zM314.6 156.1h0.8v0.8h-0.8zM325.6 177.9h0.8v0.8h-0.8zM326.3 159.0h0.8v0.8h-0.8zM317.1 152.6h0.8v0.8h-0.8zM319.7 163.5h0.8v0.8h-0.8zM322.8 178.7h0.8v0.8h-0.8zM324.4 151.3h0.8v0.8h-0.8zM330.7 171.5h0.8v0.8h-0.8zM323.5 154.8h0.8v0.8h-0.8zM313.6 151.8h0.8v0.8h-0.8zM327.6 154.0h0.8v0.8h-0.8zM316.4 164.0h0.8v0.8h-0.8zM324.2 168.1h0.8v0.8h-0.8zM326.3 176.1h0.8v0.8h-0.8zM318.8 171.8h0.8v0.8h-0.8zM318.1 168.9h0.8v0.8h-0.8zM323.9 164.4h0.8v0.8h-0.8zM327.8 161.8h0.8v0.8h-0.8zM328.6 170.8h0.8v0.8h-0.8zM323.7 156.3h0.8v0.8h-0.8zM319.2 156.7h0.8v0.8h-0.8zM322.0 161.8h0.8v0.8h-0.8zM337.9 168.4h0.8v0.8h-0.8zM326.8 153.4h0.8v0.8h-0.8zM319.4 158.8h0.8v0.8h-0.8zM324.0 151.6h0.8v0.8h-0.8zM331.1 156.4h0.8v0.8h-0.8zM328.4 138.6h0.8v0.8h-0.8zM323.0 164.8h0.8v0.8h-0.8zM324.0 168.0h0.8v0.8h-0.8zM324.4 163.6h0.8v0.8h-0.8zM313.5 154.9h0.8v0.8h-0.8zM311.3 168.3h0.8v0.8h-0.8zM324.5 160.0h0.8v0.8h-0.8zM318.9 156.2h0.8v0.8h-0.8zM332.2 179.3h0.8v0.8h-0.8zM322.7 174.9h0.8v0.8h-0.8zM315.1 142.6h0.8v0.8h-0.8zM320.6 153.3h0.8v0.8h-0.8zM320.2 163.9h0.8v0.8h-0.8zM338.1 155.4h0.8v0.8h-0.8zM323.2 164.8h0.8v0.8h-0.8zM322.8 171.3h0.8v0.8h-0.8zM331.9 149.6h0.8v0.8h-0.8zM323.8 159.4h0.8v0.8h-0.8zM324.8 146.7h0.8v0.8h-0.8zM314.2 138.8h0.8v0.8h-0.8zM325.6 163.9h0.8v0.8h-0.8zM323.4 138.3h0.8v0.8h-0.8zM321.1 154.4h0.8v0.8h-0.8zM315.9 152.8h0.8v0.8h-0.8zM326.5 167.4h0.8v0.8h-0.8zM322.9 167.1h0.8v0.8h-0.8zM320.0 162.7h0.8v0.8h-0.8zM323.2 167.5h0.8v0.8h-0.8zM322.7 160.6h0.8v0.8h-0.8zM322.3 155.6h0.8v0.8h-0.8zM334.2 167.1h0.8v0.8h-0.8zM325.1 184.9h0.8v0.8h-0.8zM330.0 146.4h0.8v0.8h-0.8zM326.5 170.4h0.8v0.8h-0.8zM332.4 175.2h0.8v0.8h-0.8zM326.9 150.2h0.8v0.8h-0.8zM318.6 164.7h0.8v0.8h-0.8zM325.5 151.8h0.8v0.8h-0.8zM321.1 158.0h0.8v0.8h-0.8zM323.3 165.4h0.8v0.8h-0.8zM321.6 149.6h0.8v0.8h-0.8zM329.2 178.0h0.8v0.8h-0.8zM322.5 172.2h0.8v0.8h-0.8zM325.2 168.6h0.8v0.8h-0.8zM325.4 154.4h0.8v0.8h-0.8zM325.9 172.1h0.8v0.8h-0.8zM318.5 181.7h0.8v0.8h-0.8zM333.4 180.2h0.8v0.8h-0.8zM332.9 169.4h0.8v0.8h-0.8zM321.3 156.0h0.8v0.8h-0.8zM318.9 163.2h0.8v0.8h-0.8zM322.8 168.7h0.8v0.8h-0.8zM312.9 185.1h0.8v0.8h-0.8zM334.4 161.7h0.8v0.8h-0.8zM326.4 166.8h0.8v0.8h-0.8zM324.4 159.9h0.8v0.8h-0.8zM322.4 153.8h0.8v0.8h-0.8zM323.9 161.8h0.8v0.8h-0.8z" fill="#666" fill-opacity="0.3"/>
<path d="M299.9 148.0h0.8v0.8h-0.8zM298.2 154.3h0.8v0.8h-0.8zM301.6 146.6h0.8v0.8h-0.8zM300.5 160.9h0.8v0.8h-0.8zM301.6 151.4h0.8v0.8h-0.8zM295.1 152.3h0.8v0.8h-0.8zM302.4 164.9h0.8v0.8h-0.8zM297.1 149.5h0.8v0.8h-0.8zM300.3 155.4h0.8v0.8h-0.8zM292.6 148.8h0.8v0.8h-0.8zM297.4 158.7h0.8v0.8h-0.8zM290.8 146.9h0.8v0.8h-0.8zM301.0 145.4h0.8v0.8h-0.8zM298.7 156.5h0.8v0.8h-0.8zM297.3 146.9h0.8v0.8h-0.8zM297.6 151.7h0.8v0.8h-0.8zM300.0 148.1h0.8v0.8h-0.8zM304.5 142.3h0.8v0.8h-0.8zM296.9 154.1h0.8v0.8h-0.8zM303.8 149.7h0.8v0.8h-0.8zM301.3 150.0h0.8v0.8h-0.8zM302.4 166.2h0.8v0.8h-0.8zM295.6 157.1h0.8v0.8h-0.8zM292.4 160.8h0.8v0.8h-0.8zM305.3 154.2h0.8v0.8h-0.8zM291.2 156.8h0.8v0.8h-0.8zM304.9 161.6h0.8v0.8h-0.8zM302.9 141.2h0.8v0.8h-0.8zM293.9 164.0h0.8v0.8h-0.8zM290.6 161.9h0.8v0.8h-0.8zM309.3 159.3h0.8v0.8h-0.8zM304.7 151.7h0.8v0.8h-0.8zM290.6 153.3h0.8v0.8h-0.8zM296.8 153.7h0.8v0.8h-0.8zM302.2 153.0h0.8v0.8h-0.8zM299.2 157.0h0.8v0.8h-0.8zM298.0 166.9h0.8v0.8h-0.8zM300.7 154.6h0.8v0.8h-0.8zM296.8 149.6h0.8v0.8h-0.8zM306.1 155.1h0.8v0.8h-0.8zM291.5 150.1h0.8v0.8h-0.8zM297.2 150.9h0.8v0.8h-0.8zM304.5 145.9h0.8v0.8h-0.8zM301.0 155.0h0.8v0.8h-0.8zM290.9 154.3h0.8v0.8h-0.8zM297.4 157.5h0.8v0.8h-0.8zM295.3 156.1h0.8v0.8h-0.8zM288.0 146.4h0.8v0.8h-0.8zM302.7 161.3h0.8v0.8h-0.8zM297.9 149.8h0.8v0.8h-0.8zM304.5 139.4h0.8v0.8h-0.8zM293.2 158.7h0.8v0.8h-0.8zM301.9 146.8h0.8v0.8h-0.8zM286.7 164.2h0.8v0.8h-0.8zM298.9 147.7h0.8v0.8h-0.8zM298.3 160.3h0.8v0.8h-0.8zM282.4 161.8h0.8v0.8h-0.8zM302.4 139.4h0.8v0.8h-0.8zM302.6 141.5h0.8v0.8h-0.8zM304.8 156.8h0.8v0.8h-0.8zM311.5 149.7h0.8v0.8h-0.8zM298.0 161.3h0.8v0.8h-0.8zM294.2 149.1h0.8v0.8h-0.8zM295.8 153.5h0.8v0.8h-0.8zM291.5 157.4h0.8v0.8h-0.8zM301.3 154.5h0.8v0.8h-0.8zM308.2 151.7h0.8v0.8h-0.8zM305.8 150.2h0.8v0.8h-0.8zM302.5 140.5h0.8v0.8h-0.8zM299.2 152.8h0.8v0.8h-0.8zM295.0 149.7h0.8v0.8h-0.8zM295.9 149.0h0.8v0.8h-0.8zM284.8 149.8h0.8v0.8h-0.8zM294.7 150.3h0.8v0.8h-0.8zM291.7 153.1h0.8v0.8h-0.8zM302.7 152.2h0.8v0.8h-0.8zM295.0 163.5h0.8v0.8h-0.8zM303.9 160.5h0.8v0.8h-0.8zM304.9 151.7h0.8v0.8h-0.8zM297.2 161.8h0.8v0.8h-0.8zM294.7 153.2h0.8v0.8h-0.8zM300.3 156.6h0.8v0.8h-0.8zM296.3 160.9h0.8v0.8h-0.8zM296.9 159.1h0.8v0.8h-0.8zM304.4 158.6h0.8v0.8h-0.8zM302.4 145.9h0.8v0.8h-0.8zM290.1 149.7h0.8v0.8h-0.8zM300.9 164.5h0.8v0.8h-0.8zM290.7 156.1h0.8v0.8h-0.8zM292.9 148.9h0.8v0.8h-0.8zM296.3 158.8h0.8v0.8h-0.8zM299.3 162.3h0.8v0.8h-0.8zM292.1 160.2h0.8v0.8h-0.8zM303.6 154.5h0.8v0.8h-0.8zM300.9 150.1h0.8v0.8h-0.8zM291.5 151.2h0.8v0.8h-0.8zM294.1 174.2h0.8v0.8h-0.8zM295.1 165.6h0.8v0.8h-0.8zM299.2 156.2h0.8v0.8h-0.8zM302.5 148.5h0.8v0.8h-0.8zM303.5 156.6h0.8v0.8h-0.8zM288.9 158.2h0.8v0.8h-0.8zM301.3 157.2h0.8v0.8h-0.8zM307.5 151.1h0.8v0.8h-0.8zM301.1 159.2h0.8v0.8h-0.8zM292.6 162.4h0.8v0.8h-0.8zM289.3 144.9h0.8v0.8h-0.8zM301.1 146.4h0.8v0.8h-0.8zM297.3 142.5h0.8v0.8h-0.8zM298.4 146.1h0.8v0.8h-0.8zM300.1 143.3h0.8v0.8h-0.8zM300.7 152.1h0.8v0.8h-0.8zM298.4 153.5h0.8v0.8h-0.8zM298.8 144.8h0.8v0.8h-0.8zM282.6 154.2h0.8v0.8h-0.8zM292.4 150.8h0.8v0.8h-0.8zM300.6 140.1h0.8v0.8h-0.8zM293.4 149.7h0.8v0.8h-0.8zM291.7 156.3h0.8v0.8h-0.8zM297.2 148.3h0.8v0.8h-0.8zM292.1 159.7h0.8v0.8h-0.8zM294.0 158.1h0.8v0.8h-0.8zM300.7 140.7h0.8v0.8h-0.8zM291.5 154.0h0.8v0.8h-0.8zM300.1 159.5h0.8v0.8h-0.8zM302.8 161.2h0.8v0.8h-0.8zM295.8 152.5h0.8v0.8h-0.8zM302.7 151.0h0.8v0.8h-0.8zM304.3 142.9h0.8v0.8h-0.8zM301.9 152.8h0.8v0.8h-0.8zM286.2 160.9h0.8v0.8h-0.8zM299.9 154.1h0.8v0.8h-0.8zM291.5 150.7h0.8v0.8h-0.8zM307.1 148.2h0.8v0.8h-0.8zM277.2 148.0h0.8v0.8h-0.8zM290.8 153.1h0.8v0.8h-0.8zM295.6 147.6h0.8v0.8h-0.8zM292.9 161.3h0.8v0.8h-0.8zM289.3 167.7h0.8v0.8h-0.8zM294.7 146.4h0.8v0.8h-0.8zM302.7 157.9h0.8v0.8h-0.8zM291.7 159.2h0.8v0.8h-0.8zM287.0 147.5h0.8v0.8h-0.8zM304.8 152.2h0.8v0.8h-0.8zM290.2 157.6h0.8v0.8h-0.8zM303.5 153.8h0.8v0.8h-0.8zM287.2 151.6h0.8v0.8h-0.8zM300.5 159.4h0.8v0.8h-0.8zM309.1 152.2h0.8v0.8h-0.8zM295.1 153.7h0.8v0.8h-0.8z" fill="#fff" fill-opacity="0.5"/>
<path d="M329.0 152.6h0.8v0.8h-0.8zM329.5 134.5h0.8v0.8h-0.8zM327.0 155.2h0.8v0.8h-0.8zM325.3 168.9h0.8v0.8h-0.8zM317.1 161.1h0.8v0.8h-0.8zM324.2 167.9h0.8v0.8h-0.8zM318.3 152.1h0.8v0.8h-0.8zM313.4 187.4h0.8v0.8h-0.8zM322.0 159.8h0.8v0.8h-0.8zM315.5 171.3h0.8v0.8h-0.8zM320.3 176.4h0.8v0.8h-0.8zM327.3 162.2h0.8v0.8h-0.8zM326.6 150.9h0.8v0.8h-0.8zM321.4 156.2h0.8v0.8h-0.8zM316.7 162.2h0.8v0.8h-0.8zM322.3 176.4h0.8v0.8h-0.8zM306.2 155.3h0.8v0.8h-0.8zM318.4 157.4h0.8v0.8h-0.8zM325.1 166.0h0.8v0.8h-0.8zM323.1 157.3h0.8v0.8h-0.8zM325.5 165.6h0.8v0.8h-0.8zM313.8 159.4h0.8v0.8h-0.8zM316.1 150.2h0.8v0.8h-0.8zM323.7 162.6h0.8v0.8h-0.8zM323.6 153.2h0.8v0.8h-0.8zM322.0 152.9h0.8v0.8h-0.8zM324.9 168.9h0.8v0.8h-0.8zM331.8 174.7h0.8v0.8h-0.8zM319.0 157.4h0.8v0.8h-0.8zM318.3 165.1h0.8v0.8h-0.8zM332.9 169.1h0.8v0.8h-0.8zM312.0 149.4h0.8v0.8h-0.8zM316.5 167.2h0.8v0.8h-0.8zM323.0 165.0h0.8v0.8h-0.8zM331.9 153.7h0.8v0.8h-0.8zM318.8 181.7h0.8v0.8h-0.8zM324.7 154.2h0.8v0.8h-0.8zM312.9 146.8h0.8v0.8h-0.8zM310.8 162.7h0.8v0.8h-0.8zM323.2 171.9h0.8v0.8h-0.8zM322.3 155.1h0.8v0.8h-0.8zM319.3 181.0h0.8v0.8h-0.8zM314.2 163.7h0.8v0.8h-0.8zM323.1 168.2h0.8v0.8h-0.8zM321.0 167.0h0.8v0.8h-0.8zM327.1 160.5h0.8v0.8h-0.8zM320.7 160.1h0.8v0.8h-0.8zM318.2 159.9h0.8v0.8h-0.8zM321.5 164.1h0.8v0.8h-0.8zM329.7 175.1h0.8v0.8h-0.8zM320.8 168.0h0.8v0.8h-0.8zM324.5 169.6h0.8v0.8h-0.8zM323.1 164.7h0.8v0.8h-0.8zM320.7 154.2h0.8v0.8h-0.8zM327.4 175.0h0.8v0.8h-0.8zM326.3 166.4h0.8v0.8h-0.8zM324.3 157.5h0.8v0.8h-0.8zM314.1 168.6h0.8v0.8h-0.8zM324.0 156.5h0.8v0.8h-0.8zM318.2 174.8h0.8v0.8h-0.8zM314.0 179.6h0.8v0.8h-0.8zM326.2 185.7h0.8v0.8h-0.8zM319.4 161.8h0.8v0.8h-0.8zM320.5 163.6h0.8v0.8h-0.8zM322.0 154.5h0.8v0.8h-0.8zM328.4 154.2h0.8v0.8h-0.8zM320.5 167.5h0.8v0.8h-0.8zM320.3 157.7h0.8v0.8h-0.8zM324.8 158.3h0.8v0.8h-0.8zM316.8 161.0h0.8v0.8h-0.8zM321.9 179.0h0.8v0.8h-0.8zM317.5 171.7h0.8v0.8h-0.8zM319.1 158.4h0.8v0.8h-0.8zM321.4 164.7h0.8v0.8h-0.8zM327.3 179.5h0.8v0.8h-0.8zM319.8 175.3h0.8v0.8h-0.8zM328.0 170.1h0.8v0.8h-0.8zM319.2 171.0h0.8v0.8h-0.8zM322.5 165.5h0.8v0.8h-0.8zM321.7 168.6h0.8v0.8h-0.8zM328.6 173.3h0.8v0.8h-0.8zM322.0 172.0h0.8v0.8h-0.8zM330.3 152.6h0.8v0.8h-0.8zM330.4 148.6h0.8v0.8h-0.8zM325.7 167.9h0.8v0.8h-0.8zM330.4 164.8h0.8v0.8h-0.8zM320.6 154.0h0.8v0.8h-0.8zM316.7 169.7h0.8v0.8h-0.8zM321.8 154.8h0.8v0.8h-0.8zM325.7 154.4h0.8v0.8h-0.8zM320.8 157.4h0.8v0.8h-0.8zM331.3 176.6h0.8v0.8h-0.8zM322.2 146.3h0.8v0.8h-0.8zM324.4 162.7h0.8v0.8h-0.8zM324.7 167.7h0.8v0.8h-0.8zM321.4 171.3h0.8v0.8h-0.8zM327.2 164.1h0.8v0.8h-0.8zM321.0 157.2h0.8v0.8h-0.8zM326.5 151.0h0.8v0.8h-0.8zM322.2 154.5h0.8v0.8h-0.8zM316.0 168.0h0.8v0.8h-0.8zM322.9 162.4h0.8v0.8h-0.8zM327.4 147.1h0.8v0.8h-0.8zM322.7 164.9h0.8v0.8h-0.8zM327.2 151.2h0.8v0.8h-0.8zM326.6 164.2h0.8v0.8h-0.8zM329.8 173.4h0.8v0.8h-0.8zM325.7 183.5h0.8v0.8h-0.8zM323.0 157.8h0.8v0.8h-0.8zM321.3 152.6h0.8v0.8h-0.8zM322.9 143.2h0.8v0.8h-0.8zM322.6 166.3h0.8v0.8h-0.8zM328.0 158.5h0.8v0.8h-0.8zM329.9 155.5h0.8v0.8h-0.8zM322.3 143.2h0.8v0.8h-0.8zM319.2 154.1h0.8v0.8h-0.8zM330.3 167.2h0.8v0.8h-0.8zM317.6 167.2h0.8v0.8h-0.8zM325.4 159.7h0.8v0.8h-0.8zM323.1 159.0h0.8v0.8h-0.8zM320.4 144.7h0.8v0.8h-0.8zM322.6 174.5h0.8v0.8h-0.8zM330.0 159.3h0.8v0.8h-0.8zM319.4 159.9h0.8v0.8h-0.8zM327.4 165.4h0.8v0.8h-0.8zM320.2 165.5h0.8v0.8h-0.8zM322.0 167.0h0.8v0.8h-0.8zM321.0 147.6h0.8v0.8h-0.8zM323.3 169.4h0.8v0.8h-0.8zM317.6 161.0h0.8v0.8h-0.8zM327.3 158.3h0.8v0.8h-0.8zM319.8 181.8h0.8v0.8h-0.8zM327.0 172.0h0.8v0.8h-0.8zM318.4 177.9h0.8v0.8h-0.8zM314.9 157.0h0.8v0.8h-0.8zM326.6 175.0h0.8v0.8h-0.8zM318.5 155.5h0.8v0.8h-0.8zM324.0 143.2h0.8v0.8h-0.8zM326.1 167.4h0.8v0.8h-0.8zM320.8 167.2h0.8v0.8h-0.8zM326.8 165.0h0.8v0.8h-0.8zM325.5 176.7h0.8v0.8h-0.8zM320.7 163.6h0.8v0.8h-0.8zM320.5 172.0h0.8v0.8h-0.8zM321.0 166.6h0.8v0.8h-0.8zM323.7 162.6h0.8v0.8h-0.8zM331.3 161.2h0.8v0.8h-0.8zM329.9 170.0h0.8v0.8h-0.8zM329.4 160.4h0.8v0.8h-0.8zM327.5 169.3h0.8v0.8h-0.8z" fill="#fff" fill-opacity="0.35"/>
<path d="M286.8,135.9 L298.8,132 L307.4,136.8 L310.7,145.5 L309.9,159 L307.4,169.2 L289.5,168 L286.3,156 Z" fill="none" stroke="#8a8a8a" stroke-width="0.9"/>
<path d="M313.2,147.4 L327.6,137.8 L339.2,142.6 L336.3,183 L315.1,183 L312.2,163.8 Z" fill="none" stroke="#8a8a8a" stroke-width="0.9"/>
<text x="291.60" y="143.90" font-size="9.2" text-anchor="start" fill="#111" font-weight="bold" textLength="24.3" lengthAdjust="spacingAndGlyphs">T cells</text>
<text x="315.10" y="163.20" font-size="9.2" text-anchor="start" fill="#111" font-weight="bold" textLength="13.7" lengthAdjust="spacingAndGlyphs">CLL</text>
<text x="315.10" y="174.40" font-size="9.2" text-anchor="start" fill="#111" font-weight="bold" textLength="17.6" lengthAdjust="spacingAndGlyphs">cells</text>
<rect x="284.3" y="114.3" width="73.1" height="76" fill="none" stroke="#111" stroke-width="1.2"/>
<text x="0" y="0" font-size="10.8" text-anchor="middle" fill="#333" textLength="30.3" lengthAdjust="spacingAndGlyphs" transform="translate(280.77 153.00) rotate(-90)">CD5-PC7</text>
<text x="320.75" y="202.90" font-size="10.8" text-anchor="middle" fill="#333" textLength="29.9" lengthAdjust="spacingAndGlyphs">CD19-PE</text>
<defs><radialGradient id="rg5"><stop offset="0" stop-color="#909090" stop-opacity="0.9"/><stop offset="0.45" stop-color="#909090" stop-opacity="0.54"/><stop offset="1" stop-color="#909090" stop-opacity="0"/></radialGradient></defs>
<ellipse cx="382.5" cy="122" rx="6" ry="10" fill="url(#rg5)"/>
<defs><radialGradient id="rg6"><stop offset="0" stop-color="#c0c0c0" stop-opacity="0.5"/><stop offset="0.45" stop-color="#c0c0c0" stop-opacity="0.30"/><stop offset="1" stop-color="#c0c0c0" stop-opacity="0"/></radialGradient></defs>
<ellipse cx="390" cy="132" rx="8" ry="10" fill="url(#rg6)"/>
<defs><radialGradient id="rg7"><stop offset="0" stop-color="#7a7a7a" stop-opacity="0.95"/><stop offset="0.45" stop-color="#7a7a7a" stop-opacity="0.57"/><stop offset="1" stop-color="#7a7a7a" stop-opacity="0"/></radialGradient></defs>
<ellipse cx="443.5" cy="169" rx="8" ry="12" fill="url(#rg7)"/>
<defs><radialGradient id="rg8"><stop offset="0" stop-color="#b0b0b0" stop-opacity="0.5"/><stop offset="0.45" stop-color="#b0b0b0" stop-opacity="0.30"/><stop offset="1" stop-color="#b0b0b0" stop-opacity="0"/></radialGradient></defs>
<ellipse cx="440" cy="180" rx="9" ry="8" fill="url(#rg8)"/>
<path d="M380.9 122.6h0.8v0.8h-0.8zM382.6 120.8h0.8v0.8h-0.8zM387.4 116.8h0.8v0.8h-0.8zM377.3 110.9h0.8v0.8h-0.8zM381.5 117.3h0.8v0.8h-0.8zM383.0 124.3h0.8v0.8h-0.8zM388.9 122.8h0.8v0.8h-0.8zM384.6 116.7h0.8v0.8h-0.8zM385.0 128.9h0.8v0.8h-0.8zM387.5 109.7h0.8v0.8h-0.8zM386.0 130.2h0.8v0.8h-0.8zM385.8 112.4h0.8v0.8h-0.8zM382.0 124.4h0.8v0.8h-0.8zM384.4 116.3h0.8v0.8h-0.8zM380.0 126.6h0.8v0.8h-0.8zM378.5 129.3h0.8v0.8h-0.8zM383.1 122.7h0.8v0.8h-0.8zM378.5 117.6h0.8v0.8h-0.8zM385.3 112.5h0.8v0.8h-0.8zM390.0 112.9h0.8v0.8h-0.8zM378.9 121.2h0.8v0.8h-0.8zM384.6 125.2h0.8v0.8h-0.8zM381.8 119.8h0.8v0.8h-0.8zM382.2 117.7h0.8v0.8h-0.8zM374.3 126.5h0.8v0.8h-0.8zM383.8 121.9h0.8v0.8h-0.8zM380.9 122.4h0.8v0.8h-0.8zM383.0 120.6h0.8v0.8h-0.8zM386.7 111.1h0.8v0.8h-0.8zM383.8 114.9h0.8v0.8h-0.8zM381.9 129.6h0.8v0.8h-0.8zM379.4 120.4h0.8v0.8h-0.8zM381.0 126.5h0.8v0.8h-0.8zM379.7 111.3h0.8v0.8h-0.8zM384.7 119.0h0.8v0.8h-0.8zM381.9 127.2h0.8v0.8h-0.8zM380.0 118.8h0.8v0.8h-0.8zM383.5 123.4h0.8v0.8h-0.8zM381.3 127.0h0.8v0.8h-0.8zM390.5 118.6h0.8v0.8h-0.8zM389.3 108.8h0.8v0.8h-0.8zM387.7 119.0h0.8v0.8h-0.8zM383.5 119.0h0.8v0.8h-0.8zM380.9 113.6h0.8v0.8h-0.8zM381.7 128.5h0.8v0.8h-0.8zM386.8 119.0h0.8v0.8h-0.8zM381.2 117.0h0.8v0.8h-0.8zM379.0 131.4h0.8v0.8h-0.8zM385.2 121.7h0.8v0.8h-0.8zM381.3 115.1h0.8v0.8h-0.8zM387.4 125.5h0.8v0.8h-0.8zM379.8 126.7h0.8v0.8h-0.8zM379.3 124.7h0.8v0.8h-0.8zM379.8 118.6h0.8v0.8h-0.8zM384.7 123.5h0.8v0.8h-0.8zM386.4 116.2h0.8v0.8h-0.8zM388.3 128.7h0.8v0.8h-0.8zM383.0 123.7h0.8v0.8h-0.8zM380.4 120.1h0.8v0.8h-0.8zM378.6 121.5h0.8v0.8h-0.8zM383.7 128.7h0.8v0.8h-0.8zM386.2 125.7h0.8v0.8h-0.8zM381.8 119.7h0.8v0.8h-0.8zM381.9 122.3h0.8v0.8h-0.8zM376.5 125.4h0.8v0.8h-0.8zM377.7 118.0h0.8v0.8h-0.8zM383.1 118.0h0.8v0.8h-0.8zM388.6 120.4h0.8v0.8h-0.8zM388.3 127.8h0.8v0.8h-0.8zM381.3 123.3h0.8v0.8h-0.8zM387.4 119.1h0.8v0.8h-0.8zM383.3 117.8h0.8v0.8h-0.8zM383.2 119.0h0.8v0.8h-0.8zM383.3 126.8h0.8v0.8h-0.8zM387.7 121.8h0.8v0.8h-0.8zM383.7 125.9h0.8v0.8h-0.8zM382.0 114.9h0.8v0.8h-0.8zM386.7 115.6h0.8v0.8h-0.8zM386.1 115.4h0.8v0.8h-0.8zM389.2 115.0h0.8v0.8h-0.8zM385.9 129.6h0.8v0.8h-0.8zM379.8 129.6h0.8v0.8h-0.8zM380.2 110.8h0.8v0.8h-0.8zM385.4 125.0h0.8v0.8h-0.8zM382.3 106.5h0.8v0.8h-0.8zM382.8 119.2h0.8v0.8h-0.8zM381.7 119.3h0.8v0.8h-0.8zM377.0 117.7h0.8v0.8h-0.8zM389.0 129.9h0.8v0.8h-0.8zM381.8 116.9h0.8v0.8h-0.8zM384.3 127.1h0.8v0.8h-0.8zM385.4 114.3h0.8v0.8h-0.8zM383.5 121.8h0.8v0.8h-0.8zM387.8 127.9h0.8v0.8h-0.8zM384.8 128.0h0.8v0.8h-0.8zM381.7 129.9h0.8v0.8h-0.8zM381.6 123.3h0.8v0.8h-0.8zM386.1 115.7h0.8v0.8h-0.8zM380.6 110.9h0.8v0.8h-0.8zM383.6 120.7h0.8v0.8h-0.8z" fill="#777" fill-opacity="0.35"/>
<path d="M441.4 173.3h0.8v0.8h-0.8zM432.8 169.3h0.8v0.8h-0.8zM443.4 167.5h0.8v0.8h-0.8zM446.8 183.0h0.8v0.8h-0.8zM440.9 162.3h0.8v0.8h-0.8zM440.1 170.2h0.8v0.8h-0.8zM445.8 162.9h0.8v0.8h-0.8zM447.8 161.6h0.8v0.8h-0.8zM447.0 172.8h0.8v0.8h-0.8zM445.2 186.1h0.8v0.8h-0.8zM441.7 168.2h0.8v0.8h-0.8zM445.3 176.1h0.8v0.8h-0.8zM436.6 171.6h0.8v0.8h-0.8zM439.4 174.3h0.8v0.8h-0.8zM449.6 169.9h0.8v0.8h-0.8zM442.5 170.9h0.8v0.8h-0.8zM428.8 175.4h0.8v0.8h-0.8zM445.7 170.8h0.8v0.8h-0.8zM441.1 163.9h0.8v0.8h-0.8zM442.1 178.8h0.8v0.8h-0.8zM442.5 179.8h0.8v0.8h-0.8zM430.7 166.0h0.8v0.8h-0.8zM444.3 169.4h0.8v0.8h-0.8zM435.0 164.4h0.8v0.8h-0.8zM449.0 159.6h0.8v0.8h-0.8zM438.2 161.1h0.8v0.8h-0.8zM440.4 174.4h0.8v0.8h-0.8zM445.9 153.9h0.8v0.8h-0.8zM450.0 165.0h0.8v0.8h-0.8zM440.2 182.3h0.8v0.8h-0.8zM442.6 160.0h0.8v0.8h-0.8zM439.9 163.9h0.8v0.8h-0.8zM438.2 166.9h0.8v0.8h-0.8zM447.2 172.2h0.8v0.8h-0.8zM436.4 190.9h0.8v0.8h-0.8zM438.2 170.4h0.8v0.8h-0.8zM443.2 175.3h0.8v0.8h-0.8zM441.4 173.0h0.8v0.8h-0.8zM453.1 170.2h0.8v0.8h-0.8zM437.8 172.0h0.8v0.8h-0.8zM439.1 166.7h0.8v0.8h-0.8zM443.9 172.1h0.8v0.8h-0.8zM441.6 176.0h0.8v0.8h-0.8zM442.1 159.5h0.8v0.8h-0.8zM447.2 166.7h0.8v0.8h-0.8zM448.8 164.5h0.8v0.8h-0.8zM445.7 171.9h0.8v0.8h-0.8zM430.1 158.0h0.8v0.8h-0.8zM437.6 180.3h0.8v0.8h-0.8zM433.9 176.5h0.8v0.8h-0.8zM448.2 173.3h0.8v0.8h-0.8zM446.2 165.7h0.8v0.8h-0.8zM442.9 171.2h0.8v0.8h-0.8zM445.0 174.9h0.8v0.8h-0.8zM442.0 164.1h0.8v0.8h-0.8zM440.3 172.7h0.8v0.8h-0.8zM435.0 159.9h0.8v0.8h-0.8zM441.0 165.3h0.8v0.8h-0.8zM441.7 149.1h0.8v0.8h-0.8zM441.4 167.6h0.8v0.8h-0.8zM446.7 154.3h0.8v0.8h-0.8zM441.5 173.1h0.8v0.8h-0.8zM445.3 178.7h0.8v0.8h-0.8zM448.1 161.4h0.8v0.8h-0.8zM446.1 166.9h0.8v0.8h-0.8zM439.1 181.3h0.8v0.8h-0.8zM440.0 162.9h0.8v0.8h-0.8zM441.0 162.9h0.8v0.8h-0.8zM447.8 172.4h0.8v0.8h-0.8zM449.7 172.7h0.8v0.8h-0.8zM440.0 177.6h0.8v0.8h-0.8zM439.9 165.9h0.8v0.8h-0.8zM442.2 169.8h0.8v0.8h-0.8zM448.7 164.8h0.8v0.8h-0.8zM444.7 169.3h0.8v0.8h-0.8zM436.9 161.1h0.8v0.8h-0.8zM441.9 172.6h0.8v0.8h-0.8zM444.5 173.2h0.8v0.8h-0.8zM443.2 166.0h0.8v0.8h-0.8zM445.1 161.8h0.8v0.8h-0.8zM436.5 166.9h0.8v0.8h-0.8zM436.1 165.5h0.8v0.8h-0.8zM439.4 165.2h0.8v0.8h-0.8zM442.8 163.3h0.8v0.8h-0.8zM441.0 156.3h0.8v0.8h-0.8zM443.7 162.7h0.8v0.8h-0.8zM444.9 147.7h0.8v0.8h-0.8zM439.1 171.4h0.8v0.8h-0.8zM431.2 166.7h0.8v0.8h-0.8zM443.5 170.3h0.8v0.8h-0.8zM435.8 171.3h0.8v0.8h-0.8zM443.7 162.0h0.8v0.8h-0.8zM446.6 169.1h0.8v0.8h-0.8zM443.1 166.0h0.8v0.8h-0.8zM445.6 170.3h0.8v0.8h-0.8zM448.5 173.0h0.8v0.8h-0.8zM440.0 167.8h0.8v0.8h-0.8zM447.4 166.7h0.8v0.8h-0.8zM444.8 173.5h0.8v0.8h-0.8zM442.1 151.5h0.8v0.8h-0.8zM443.6 171.2h0.8v0.8h-0.8zM443.7 163.6h0.8v0.8h-0.8zM448.8 168.5h0.8v0.8h-0.8zM440.0 164.0h0.8v0.8h-0.8zM444.7 161.1h0.8v0.8h-0.8zM438.2 185.0h0.8v0.8h-0.8zM449.3 177.7h0.8v0.8h-0.8zM449.6 174.1h0.8v0.8h-0.8zM434.9 178.7h0.8v0.8h-0.8zM449.0 173.3h0.8v0.8h-0.8zM433.5 179.1h0.8v0.8h-0.8zM449.6 165.7h0.8v0.8h-0.8zM443.6 175.5h0.8v0.8h-0.8zM442.6 178.0h0.8v0.8h-0.8zM443.4 174.9h0.8v0.8h-0.8zM443.4 158.0h0.8v0.8h-0.8zM438.2 194.0h0.8v0.8h-0.8zM444.4 179.7h0.8v0.8h-0.8zM448.5 182.8h0.8v0.8h-0.8zM445.7 164.9h0.8v0.8h-0.8zM443.1 154.6h0.8v0.8h-0.8zM442.1 176.5h0.8v0.8h-0.8zM432.5 171.0h0.8v0.8h-0.8zM447.0 179.8h0.8v0.8h-0.8zM438.5 164.4h0.8v0.8h-0.8zM433.9 161.6h0.8v0.8h-0.8zM445.6 185.6h0.8v0.8h-0.8zM437.4 180.2h0.8v0.8h-0.8zM445.1 165.7h0.8v0.8h-0.8zM453.6 149.9h0.8v0.8h-0.8zM442.7 171.2h0.8v0.8h-0.8zM453.3 183.5h0.8v0.8h-0.8zM454.0 170.5h0.8v0.8h-0.8zM447.8 180.1h0.8v0.8h-0.8zM445.5 172.3h0.8v0.8h-0.8zM442.1 166.3h0.8v0.8h-0.8zM437.0 184.7h0.8v0.8h-0.8zM440.8 153.3h0.8v0.8h-0.8zM444.3 169.2h0.8v0.8h-0.8zM443.9 183.6h0.8v0.8h-0.8zM442.5 167.4h0.8v0.8h-0.8zM439.4 169.3h0.8v0.8h-0.8zM440.9 171.1h0.8v0.8h-0.8zM458.2 172.6h0.8v0.8h-0.8zM438.8 184.5h0.8v0.8h-0.8zM447.2 175.9h0.8v0.8h-0.8zM446.5 175.9h0.8v0.8h-0.8zM446.3 180.5h0.8v0.8h-0.8zM447.9 180.0h0.8v0.8h-0.8zM440.6 169.5h0.8v0.8h-0.8zM439.5 177.0h0.8v0.8h-0.8zM447.0 165.9h0.8v0.8h-0.8zM445.8 189.9h0.8v0.8h-0.8zM449.0 160.8h0.8v0.8h-0.8zM442.6 174.4h0.8v0.8h-0.8zM442.8 172.5h0.8v0.8h-0.8zM448.7 172.1h0.8v0.8h-0.8zM437.7 175.1h0.8v0.8h-0.8zM442.5 170.4h0.8v0.8h-0.8zM440.2 158.7h0.8v0.8h-0.8zM436.9 166.7h0.8v0.8h-0.8zM437.8 148.3h0.8v0.8h-0.8zM448.6 160.5h0.8v0.8h-0.8zM439.5 173.6h0.8v0.8h-0.8zM431.3 180.0h0.8v0.8h-0.8zM439.3 174.6h0.8v0.8h-0.8zM440.7 171.9h0.8v0.8h-0.8zM443.5 169.5h0.8v0.8h-0.8zM434.1 158.0h0.8v0.8h-0.8zM442.8 180.5h0.8v0.8h-0.8zM440.3 173.6h0.8v0.8h-0.8zM443.8 173.3h0.8v0.8h-0.8zM447.8 157.8h0.8v0.8h-0.8zM444.3 168.1h0.8v0.8h-0.8zM441.5 162.8h0.8v0.8h-0.8zM439.2 161.5h0.8v0.8h-0.8zM437.7 189.1h0.8v0.8h-0.8zM451.3 169.6h0.8v0.8h-0.8zM446.6 161.9h0.8v0.8h-0.8zM429.4 155.3h0.8v0.8h-0.8zM443.7 180.7h0.8v0.8h-0.8zM442.8 161.7h0.8v0.8h-0.8zM441.8 161.7h0.8v0.8h-0.8zM436.2 167.7h0.8v0.8h-0.8zM441.1 163.2h0.8v0.8h-0.8zM438.7 162.2h0.8v0.8h-0.8zM444.2 180.4h0.8v0.8h-0.8zM442.0 186.9h0.8v0.8h-0.8zM435.1 171.6h0.8v0.8h-0.8zM437.4 168.2h0.8v0.8h-0.8zM443.5 173.9h0.8v0.8h-0.8zM448.5 165.2h0.8v0.8h-0.8zM436.9 168.0h0.8v0.8h-0.8zM444.4 164.1h0.8v0.8h-0.8zM447.4 182.6h0.8v0.8h-0.8zM436.1 172.3h0.8v0.8h-0.8zM448.0 154.5h0.8v0.8h-0.8zM444.0 167.7h0.8v0.8h-0.8zM436.1 179.8h0.8v0.8h-0.8zM444.1 165.8h0.8v0.8h-0.8z" fill="#666" fill-opacity="0.35"/>
<path d="M445.2 174.5h0.8v0.8h-0.8zM446.7 174.0h0.8v0.8h-0.8zM445.0 160.3h0.8v0.8h-0.8zM440.9 170.5h0.8v0.8h-0.8zM429.5 186.1h0.8v0.8h-0.8zM441.2 161.3h0.8v0.8h-0.8zM434.1 171.4h0.8v0.8h-0.8zM443.2 164.9h0.8v0.8h-0.8zM441.0 162.6h0.8v0.8h-0.8zM439.3 168.7h0.8v0.8h-0.8zM439.9 174.8h0.8v0.8h-0.8zM442.3 170.5h0.8v0.8h-0.8zM445.0 179.4h0.8v0.8h-0.8zM445.9 171.3h0.8v0.8h-0.8zM442.2 163.2h0.8v0.8h-0.8zM441.3 174.8h0.8v0.8h-0.8zM444.1 166.5h0.8v0.8h-0.8zM436.5 157.5h0.8v0.8h-0.8zM444.6 177.5h0.8v0.8h-0.8zM444.8 158.8h0.8v0.8h-0.8zM442.0 171.2h0.8v0.8h-0.8zM438.5 172.2h0.8v0.8h-0.8zM442.0 163.0h0.8v0.8h-0.8zM436.9 175.8h0.8v0.8h-0.8zM444.7 162.6h0.8v0.8h-0.8zM438.1 176.4h0.8v0.8h-0.8zM445.9 167.1h0.8v0.8h-0.8zM450.8 167.2h0.8v0.8h-0.8zM437.9 178.0h0.8v0.8h-0.8zM442.1 172.2h0.8v0.8h-0.8zM443.2 161.7h0.8v0.8h-0.8zM437.2 168.0h0.8v0.8h-0.8zM449.8 161.7h0.8v0.8h-0.8zM449.6 171.2h0.8v0.8h-0.8zM437.6 171.6h0.8v0.8h-0.8zM445.8 162.5h0.8v0.8h-0.8zM432.6 172.3h0.8v0.8h-0.8zM437.6 172.9h0.8v0.8h-0.8zM433.7 168.4h0.8v0.8h-0.8zM439.1 158.0h0.8v0.8h-0.8zM441.8 170.8h0.8v0.8h-0.8zM440.3 160.3h0.8v0.8h-0.8zM444.0 155.9h0.8v0.8h-0.8zM445.6 173.3h0.8v0.8h-0.8zM451.2 176.4h0.8v0.8h-0.8zM444.7 171.6h0.8v0.8h-0.8zM443.1 159.2h0.8v0.8h-0.8zM450.1 173.6h0.8v0.8h-0.8zM441.6 160.6h0.8v0.8h-0.8zM450.2 173.6h0.8v0.8h-0.8zM437.2 174.7h0.8v0.8h-0.8zM452.2 169.3h0.8v0.8h-0.8zM444.9 166.3h0.8v0.8h-0.8zM439.9 177.8h0.8v0.8h-0.8zM458.0 170.4h0.8v0.8h-0.8zM442.4 175.7h0.8v0.8h-0.8zM441.5 175.2h0.8v0.8h-0.8zM447.0 161.6h0.8v0.8h-0.8zM437.8 168.9h0.8v0.8h-0.8zM447.0 171.7h0.8v0.8h-0.8zM449.0 158.8h0.8v0.8h-0.8zM445.4 164.7h0.8v0.8h-0.8zM443.5 172.0h0.8v0.8h-0.8zM438.3 167.7h0.8v0.8h-0.8zM437.4 171.6h0.8v0.8h-0.8zM438.9 165.7h0.8v0.8h-0.8zM444.1 164.4h0.8v0.8h-0.8zM448.6 164.6h0.8v0.8h-0.8zM447.1 171.7h0.8v0.8h-0.8zM438.0 167.8h0.8v0.8h-0.8zM438.9 166.7h0.8v0.8h-0.8zM441.7 183.6h0.8v0.8h-0.8zM441.0 181.7h0.8v0.8h-0.8zM445.2 159.4h0.8v0.8h-0.8zM431.8 174.8h0.8v0.8h-0.8zM433.4 175.1h0.8v0.8h-0.8zM448.0 172.5h0.8v0.8h-0.8zM442.0 167.6h0.8v0.8h-0.8zM444.3 167.2h0.8v0.8h-0.8zM440.4 166.6h0.8v0.8h-0.8zM448.7 164.7h0.8v0.8h-0.8zM444.8 160.6h0.8v0.8h-0.8zM439.5 158.9h0.8v0.8h-0.8zM442.0 174.8h0.8v0.8h-0.8zM444.5 165.7h0.8v0.8h-0.8zM446.0 166.8h0.8v0.8h-0.8zM444.8 171.6h0.8v0.8h-0.8zM445.6 150.3h0.8v0.8h-0.8zM436.7 175.5h0.8v0.8h-0.8zM442.5 186.9h0.8v0.8h-0.8zM441.9 165.2h0.8v0.8h-0.8zM450.2 173.8h0.8v0.8h-0.8zM452.2 173.4h0.8v0.8h-0.8zM442.0 175.1h0.8v0.8h-0.8zM439.2 166.0h0.8v0.8h-0.8zM440.3 167.8h0.8v0.8h-0.8zM446.8 165.8h0.8v0.8h-0.8zM444.6 165.6h0.8v0.8h-0.8zM447.3 148.2h0.8v0.8h-0.8zM442.0 170.8h0.8v0.8h-0.8z" fill="#fff" fill-opacity="0.4"/>
<path d="M378.8,148 L405,148 L405,114.3" fill="none" stroke="#8a8a8a" stroke-width="0.9"/>
<path d="M422.3,190.3 L422.3,152.2 L452.5,152.2" fill="none" stroke="#8a8a8a" stroke-width="0.9"/>
<text x="411.10" y="131.40" font-size="8.9" text-anchor="start" fill="#111" font-weight="bold" textLength="17.7" lengthAdjust="spacingAndGlyphs">40%</text>
<text x="411.10" y="143.20" font-size="8.9" text-anchor="start" fill="#111" font-weight="bold" textLength="19.3" lengthAdjust="spacingAndGlyphs">CFSE</text>
<text x="430.60" y="141.60" font-size="6.2" text-anchor="start" fill="#111" font-weight="bold">+</text>
<text x="397.10" y="172.20" font-size="9.6" text-anchor="start" fill="#111" font-weight="bold" textLength="19.9" lengthAdjust="spacingAndGlyphs">60%</text>
<text x="397.10" y="183.50" font-size="9.6" text-anchor="start" fill="#111" font-weight="bold" textLength="19.4" lengthAdjust="spacingAndGlyphs">CTV</text>
<text x="417.20" y="181.90" font-size="6.2" text-anchor="start" fill="#111" font-weight="bold">+</text>
<rect x="378.8" y="114.3" width="73.7" height="76" fill="none" stroke="#111" stroke-width="1.2"/>
<text x="0" y="0" font-size="10.8" text-anchor="middle" fill="#333" textLength="16.4" lengthAdjust="spacingAndGlyphs" transform="translate(374.87 152.30) rotate(-90)">CFSE</text>
<text x="415.40" y="202.90" font-size="10.8" text-anchor="middle" fill="#333" textLength="13.2" lengthAdjust="spacingAndGlyphs">CTV</text>
<text x="7.80" y="224.00" font-size="11.3" text-anchor="start" fill="#111" font-weight="bold">B</text>
<line x1="79.60" y1="224.60" x2="79.60" y2="340.20" stroke="#222" stroke-width="1.45"/>
<line x1="78.90" y1="339.50" x2="246.00" y2="339.50" stroke="#222" stroke-width="1.45"/>
<line x1="76.20" y1="228.00" x2="79.60" y2="228.00" stroke="#222" stroke-width="1.2"/>
<text x="73.10" y="231.10" font-size="8.6" text-anchor="end" fill="#333" textLength="18.2" lengthAdjust="spacingAndGlyphs">8000</text>
<line x1="76.20" y1="255.90" x2="79.60" y2="255.90" stroke="#222" stroke-width="1.2"/>
<text x="73.10" y="259.00" font-size="8.6" text-anchor="end" fill="#333" textLength="18.2" lengthAdjust="spacingAndGlyphs">6000</text>
<line x1="76.20" y1="283.80" x2="79.60" y2="283.80" stroke="#222" stroke-width="1.2"/>
<text x="73.10" y="286.90" font-size="8.6" text-anchor="end" fill="#333" textLength="18.2" lengthAdjust="spacingAndGlyphs">4000</text>
<line x1="76.20" y1="311.70" x2="79.60" y2="311.70" stroke="#222" stroke-width="1.2"/>
<text x="73.10" y="314.80" font-size="8.6" text-anchor="end" fill="#333" textLength="18.2" lengthAdjust="spacingAndGlyphs">2000</text>
<line x1="76.20" y1="339.50" x2="79.60" y2="339.50" stroke="#222" stroke-width="1.2"/>
<text x="73.10" y="342.60" font-size="8.6" text-anchor="end" fill="#333" textLength="4.3" lengthAdjust="spacingAndGlyphs">0</text>
<line x1="101.00" y1="339.50" x2="101.00" y2="343.00" stroke="#222" stroke-width="1.1"/>
<line x1="142.00" y1="339.50" x2="142.00" y2="343.00" stroke="#222" stroke-width="1.1"/>
<line x1="183.50" y1="339.50" x2="183.50" y2="343.00" stroke="#222" stroke-width="1.1"/>
<line x1="225.00" y1="339.50" x2="225.00" y2="343.00" stroke="#222" stroke-width="1.1"/>
<text x="101.00" y="353.50" font-size="8.8" text-anchor="middle" fill="#333">1</text>
<text x="142.00" y="353.50" font-size="8.8" text-anchor="middle" fill="#333">2</text>
<text x="183.50" y="353.50" font-size="8.8" text-anchor="middle" fill="#333">3</text>
<text x="225.00" y="353.50" font-size="8.8" text-anchor="middle" fill="#333">4</text>
<text x="39.60" y="353.30" font-size="8.2" text-anchor="start" fill="#333" textLength="42.7" lengthAdjust="spacingAndGlyphs">Experiment</text>
<text x="0" y="0" font-size="9.6" text-anchor="middle" fill="#111" font-weight="bold" textLength="17.4" lengthAdjust="spacingAndGlyphs" transform="translate(37.14 282.00) rotate(-90)">SPL</text>
<text x="0" y="0" font-size="9.2" text-anchor="middle" fill="#333" textLength="44.5" lengthAdjust="spacingAndGlyphs" transform="translate(49.05 281.80) rotate(-90)">Homing rate</text>
<line x1="89.00" y1="237.50" x2="116.60" y2="237.50" stroke="#333" stroke-width="1.3"/>
<line x1="89.00" y1="234.20" x2="89.00" y2="240.80" stroke="#333" stroke-width="1.2"/>
<line x1="116.60" y1="234.20" x2="116.60" y2="240.80" stroke="#333" stroke-width="1.2"/>
<circle cx="102.80" cy="232.90" r="1.08" fill="#1a1a1a"/>
<line x1="129.25" y1="237.50" x2="156.75" y2="237.50" stroke="#333" stroke-width="1.3"/>
<line x1="129.25" y1="234.20" x2="129.25" y2="240.80" stroke="#333" stroke-width="1.2"/>
<line x1="156.75" y1="234.20" x2="156.75" y2="240.80" stroke="#333" stroke-width="1.2"/>
<circle cx="143.00" cy="232.90" r="1.08" fill="#1a1a1a"/>
<line x1="171.25" y1="237.50" x2="198.25" y2="237.50" stroke="#333" stroke-width="1.3"/>
<line x1="171.25" y1="234.20" x2="171.25" y2="240.80" stroke="#333" stroke-width="1.2"/>
<line x1="198.25" y1="234.20" x2="198.25" y2="240.80" stroke="#333" stroke-width="1.2"/>
<circle cx="182.90" cy="232.90" r="1.08" fill="#1a1a1a"/>
<circle cx="186.60" cy="232.90" r="1.08" fill="#1a1a1a"/>
<line x1="215.00" y1="237.50" x2="242.50" y2="237.50" stroke="#333" stroke-width="1.3"/>
<line x1="215.00" y1="234.20" x2="215.00" y2="240.80" stroke="#333" stroke-width="1.2"/>
<line x1="242.50" y1="234.20" x2="242.50" y2="240.80" stroke="#333" stroke-width="1.2"/>
<circle cx="226.90" cy="232.90" r="1.08" fill="#1a1a1a"/>
<circle cx="230.60" cy="232.90" r="1.08" fill="#1a1a1a"/>
<rect x="91.60" y="318.90" width="4.8" height="4.8" fill="#7e1639" stroke="#30061a" stroke-width="0.9"/>
<rect x="98.30" y="321.40" width="4.8" height="4.8" fill="#7e1639" stroke="#30061a" stroke-width="0.9"/>
<rect x="104.90" y="316.60" width="4.8" height="4.8" fill="#7e1639" stroke="#30061a" stroke-width="0.9"/>
<rect x="135.70" y="327.70" width="4.8" height="4.8" fill="#7e1639" stroke="#30061a" stroke-width="0.9"/>
<rect x="139.80" y="326.30" width="4.8" height="4.8" fill="#7e1639" stroke="#30061a" stroke-width="0.9"/>
<rect x="143.50" y="332.10" width="4.8" height="4.8" fill="#7e1639" stroke="#30061a" stroke-width="0.9"/>
<rect x="181.30" y="243.60" width="4.8" height="4.8" fill="#7e1639" stroke="#30061a" stroke-width="0.9"/>
<rect x="181.30" y="253.10" width="4.8" height="4.8" fill="#7e1639" stroke="#30061a" stroke-width="0.9"/>
<rect x="181.30" y="265.10" width="4.8" height="4.8" fill="#7e1639" stroke="#30061a" stroke-width="0.9"/>
<rect x="213.10" y="322.85" width="4.8" height="4.8" fill="#7e1639" stroke="#30061a" stroke-width="0.9"/>
<rect x="219.60" y="324.60" width="4.8" height="4.8" fill="#7e1639" stroke="#30061a" stroke-width="0.9"/>
<rect x="225.85" y="325.10" width="4.8" height="4.8" fill="#7e1639" stroke="#30061a" stroke-width="0.9"/>
<rect x="232.85" y="323.35" width="4.8" height="4.8" fill="#7e1639" stroke="#30061a" stroke-width="0.9"/>
<rect x="91.70" y="324.90" width="4.6" height="4.6" fill="#98b282" stroke="#111" stroke-width="1.1"/>
<rect x="98.40" y="330.40" width="4.6" height="4.6" fill="#98b282" stroke="#111" stroke-width="1.1"/>
<rect x="105.00" y="328.50" width="4.6" height="4.6" fill="#98b282" stroke="#111" stroke-width="1.1"/>
<rect x="132.10" y="334.20" width="4.6" height="4.6" fill="#98b282" stroke="#111" stroke-width="1.1"/>
<rect x="138.50" y="334.20" width="4.6" height="4.6" fill="#98b282" stroke="#111" stroke-width="1.1"/>
<rect x="146.60" y="334.20" width="4.6" height="4.6" fill="#98b282" stroke="#111" stroke-width="1.1"/>
<rect x="177.20" y="298.20" width="4.6" height="4.6" fill="#98b282" stroke="#111" stroke-width="1.1"/>
<rect x="183.70" y="299.20" width="4.6" height="4.6" fill="#98b282" stroke="#111" stroke-width="1.1"/>
<rect x="181.45" y="307.20" width="4.6" height="4.6" fill="#98b282" stroke="#111" stroke-width="1.1"/>
<rect x="213.20" y="331.70" width="4.6" height="4.6" fill="#98b282" stroke="#111" stroke-width="1.1"/>
<rect x="219.70" y="335.20" width="4.6" height="4.6" fill="#98b282" stroke="#111" stroke-width="1.1"/>
<rect x="225.95" y="335.20" width="4.6" height="4.6" fill="#98b282" stroke="#111" stroke-width="1.1"/>
<rect x="232.95" y="330.95" width="4.6" height="4.6" fill="#98b282" stroke="#111" stroke-width="1.1"/>
<line x1="86.00" y1="321.30" x2="115.00" y2="321.30" stroke="#111" stroke-width="1.5"/>
<line x1="86.00" y1="330.80" x2="115.00" y2="330.80" stroke="#111" stroke-width="1.5"/>
<line x1="128.00" y1="331.40" x2="156.30" y2="331.40" stroke="#111" stroke-width="1.5"/>
<line x1="128.00" y1="337.40" x2="156.30" y2="337.40" stroke="#111" stroke-width="1.5"/>
<line x1="169.25" y1="255.50" x2="198.25" y2="255.50" stroke="#111" stroke-width="1.5"/>
<line x1="169.25" y1="302.30" x2="198.25" y2="302.30" stroke="#111" stroke-width="1.5"/>
<line x1="210.50" y1="327.00" x2="241.00" y2="327.00" stroke="#111" stroke-width="1.5"/>
<line x1="210.50" y1="335.50" x2="241.00" y2="335.50" stroke="#111" stroke-width="1.5"/>
<line x1="308.60" y1="225.35" x2="308.60" y2="340.30" stroke="#222" stroke-width="1.45"/>
<line x1="307.90" y1="339.60" x2="475.75" y2="339.60" stroke="#222" stroke-width="1.45"/>
<line x1="305.20" y1="228.75" x2="308.60" y2="228.75" stroke="#222" stroke-width="1.2"/>
<text x="302.10" y="231.85" font-size="8.6" text-anchor="end" fill="#333" textLength="14.1" lengthAdjust="spacingAndGlyphs">800</text>
<line x1="305.20" y1="256.50" x2="308.60" y2="256.50" stroke="#222" stroke-width="1.2"/>
<text x="302.10" y="259.60" font-size="8.6" text-anchor="end" fill="#333" textLength="14.1" lengthAdjust="spacingAndGlyphs">600</text>
<line x1="305.20" y1="284.25" x2="308.60" y2="284.25" stroke="#222" stroke-width="1.2"/>
<text x="302.10" y="287.35" font-size="8.6" text-anchor="end" fill="#333" textLength="14.1" lengthAdjust="spacingAndGlyphs">400</text>
<line x1="305.20" y1="312.00" x2="308.60" y2="312.00" stroke="#222" stroke-width="1.2"/>
<text x="302.10" y="315.10" font-size="8.6" text-anchor="end" fill="#333" textLength="14.1" lengthAdjust="spacingAndGlyphs">200</text>
<line x1="305.20" y1="339.75" x2="308.60" y2="339.75" stroke="#222" stroke-width="1.2"/>
<text x="302.10" y="342.85" font-size="8.6" text-anchor="end" fill="#333" textLength="4.3" lengthAdjust="spacingAndGlyphs">0</text>
<line x1="329.50" y1="339.60" x2="329.50" y2="343.10" stroke="#222" stroke-width="1.1"/>
<line x1="370.00" y1="339.60" x2="370.00" y2="343.10" stroke="#222" stroke-width="1.1"/>
<line x1="412.50" y1="339.60" x2="412.50" y2="343.10" stroke="#222" stroke-width="1.1"/>
<line x1="454.00" y1="339.60" x2="454.00" y2="343.10" stroke="#222" stroke-width="1.1"/>
<text x="329.50" y="353.50" font-size="8.8" text-anchor="middle" fill="#333">1</text>
<text x="370.00" y="353.50" font-size="8.8" text-anchor="middle" fill="#333">2</text>
<text x="412.50" y="353.50" font-size="8.8" text-anchor="middle" fill="#333">3</text>
<text x="454.00" y="353.50" font-size="8.8" text-anchor="middle" fill="#333">4</text>
<text x="269.00" y="353.30" font-size="8.2" text-anchor="start" fill="#333" textLength="42.7" lengthAdjust="spacingAndGlyphs">Experiment</text>
<text x="0" y="0" font-size="9.6" text-anchor="middle" fill="#111" font-weight="bold" textLength="15.4" lengthAdjust="spacingAndGlyphs" transform="translate(270.34 282.50) rotate(-90)">BM</text>
<text x="0" y="0" font-size="9.2" text-anchor="middle" fill="#333" textLength="44.2" lengthAdjust="spacingAndGlyphs" transform="translate(282.55 282.50) rotate(-90)">Homing rate</text>
<line x1="315.50" y1="236.50" x2="343.25" y2="236.50" stroke="#333" stroke-width="1.3"/>
<line x1="315.50" y1="233.20" x2="315.50" y2="239.80" stroke="#333" stroke-width="1.2"/>
<line x1="343.25" y1="233.20" x2="343.25" y2="239.80" stroke="#333" stroke-width="1.2"/>
<circle cx="329.38" cy="231.90" r="1.08" fill="#1a1a1a"/>
<line x1="357.00" y1="236.50" x2="384.50" y2="236.50" stroke="#333" stroke-width="1.3"/>
<line x1="357.00" y1="233.20" x2="357.00" y2="239.80" stroke="#333" stroke-width="1.2"/>
<line x1="384.50" y1="233.20" x2="384.50" y2="239.80" stroke="#333" stroke-width="1.2"/>
<circle cx="368.90" cy="231.90" r="1.08" fill="#1a1a1a"/>
<circle cx="372.60" cy="231.90" r="1.08" fill="#1a1a1a"/>
<line x1="399.50" y1="236.50" x2="427.00" y2="236.50" stroke="#333" stroke-width="1.3"/>
<line x1="399.50" y1="233.20" x2="399.50" y2="239.80" stroke="#333" stroke-width="1.2"/>
<line x1="427.00" y1="233.20" x2="427.00" y2="239.80" stroke="#333" stroke-width="1.2"/>
<circle cx="409.55" cy="231.90" r="1.08" fill="#1a1a1a"/>
<circle cx="413.25" cy="231.90" r="1.08" fill="#1a1a1a"/>
<circle cx="416.95" cy="231.90" r="1.08" fill="#1a1a1a"/>
<line x1="444.25" y1="236.50" x2="471.75" y2="236.50" stroke="#333" stroke-width="1.3"/>
<line x1="444.25" y1="233.20" x2="444.25" y2="239.80" stroke="#333" stroke-width="1.2"/>
<line x1="471.75" y1="233.20" x2="471.75" y2="239.80" stroke="#333" stroke-width="1.2"/>
<circle cx="456.15" cy="231.90" r="1.08" fill="#1a1a1a"/>
<circle cx="459.85" cy="231.90" r="1.08" fill="#1a1a1a"/>
<rect x="326.85" y="300.85" width="4.8" height="4.8" fill="#7e1639" stroke="#30061a" stroke-width="0.9"/>
<rect x="324.10" y="311.85" width="4.8" height="4.8" fill="#7e1639" stroke="#30061a" stroke-width="0.9"/>
<rect x="330.60" y="317.10" width="4.8" height="4.8" fill="#7e1639" stroke="#30061a" stroke-width="0.9"/>
<rect x="365.10" y="320.10" width="4.8" height="4.8" fill="#7e1639" stroke="#30061a" stroke-width="0.9"/>
<rect x="371.60" y="323.60" width="4.8" height="4.8" fill="#7e1639" stroke="#30061a" stroke-width="0.9"/>
<rect x="378.60" y="326.85" width="4.8" height="4.8" fill="#7e1639" stroke="#30061a" stroke-width="0.9"/>
<rect x="406.35" y="247.10" width="4.8" height="4.8" fill="#7e1639" stroke="#30061a" stroke-width="0.9"/>
<rect x="410.10" y="243.85" width="4.8" height="4.8" fill="#7e1639" stroke="#30061a" stroke-width="0.9"/>
<rect x="413.85" y="251.85" width="4.8" height="4.8" fill="#7e1639" stroke="#30061a" stroke-width="0.9"/>
<rect x="451.60" y="311.85" width="4.8" height="4.8" fill="#7e1639" stroke="#30061a" stroke-width="0.9"/>
<rect x="444.60" y="319.60" width="4.8" height="4.8" fill="#7e1639" stroke="#30061a" stroke-width="0.9"/>
<rect x="451.60" y="319.60" width="4.8" height="4.8" fill="#7e1639" stroke="#30061a" stroke-width="0.9"/>
<rect x="458.35" y="316.35" width="4.8" height="4.8" fill="#7e1639" stroke="#30061a" stroke-width="0.9"/>
<rect x="320.20" y="326.95" width="4.6" height="4.6" fill="#98b282" stroke="#111" stroke-width="1.1"/>
<rect x="333.45" y="326.95" width="4.6" height="4.6" fill="#98b282" stroke="#111" stroke-width="1.1"/>
<rect x="326.95" y="332.20" width="4.6" height="4.6" fill="#98b282" stroke="#111" stroke-width="1.1"/>
<rect x="359.20" y="332.20" width="4.6" height="4.6" fill="#98b282" stroke="#111" stroke-width="1.1"/>
<rect x="365.70" y="333.95" width="4.6" height="4.6" fill="#98b282" stroke="#111" stroke-width="1.1"/>
<rect x="371.95" y="333.45" width="4.6" height="4.6" fill="#98b282" stroke="#111" stroke-width="1.1"/>
<rect x="403.45" y="274.20" width="4.6" height="4.6" fill="#98b282" stroke="#111" stroke-width="1.1"/>
<rect x="410.20" y="276.95" width="4.6" height="4.6" fill="#98b282" stroke="#111" stroke-width="1.1"/>
<rect x="416.95" y="276.95" width="4.6" height="4.6" fill="#98b282" stroke="#111" stroke-width="1.1"/>
<rect x="441.95" y="326.95" width="4.6" height="4.6" fill="#98b282" stroke="#111" stroke-width="1.1"/>
<rect x="462.20" y="326.95" width="4.6" height="4.6" fill="#98b282" stroke="#111" stroke-width="1.1"/>
<rect x="448.45" y="333.45" width="4.6" height="4.6" fill="#98b282" stroke="#111" stroke-width="1.1"/>
<rect x="455.20" y="333.45" width="4.6" height="4.6" fill="#98b282" stroke="#111" stroke-width="1.1"/>
<line x1="315.00" y1="314.25" x2="344.00" y2="314.25" stroke="#111" stroke-width="1.5"/>
<line x1="315.00" y1="329.50" x2="344.00" y2="329.50" stroke="#111" stroke-width="1.5"/>
<line x1="356.25" y1="326.25" x2="385.50" y2="326.25" stroke="#111" stroke-width="1.5"/>
<line x1="356.25" y1="335.50" x2="385.50" y2="335.50" stroke="#111" stroke-width="1.5"/>
<line x1="398.75" y1="249.50" x2="427.00" y2="249.50" stroke="#111" stroke-width="1.5"/>
<line x1="398.75" y1="279.25" x2="427.00" y2="279.25" stroke="#111" stroke-width="1.5"/>
<line x1="440.00" y1="320.75" x2="468.75" y2="320.75" stroke="#111" stroke-width="1.5"/>
<line x1="440.00" y1="333.00" x2="468.75" y2="333.00" stroke="#111" stroke-width="1.5"/>
<rect x="487.2" y="256.3" width="12" height="6.2" fill="#b0103e" stroke="#3a0414" stroke-width="1"/>
<rect x="487.2" y="281.2" width="12" height="6.2" fill="#78b050" stroke="#111" stroke-width="1"/>
<text x="479.30" y="272.90" font-size="8.3" text-anchor="start" fill="#333" textLength="26.7" lengthAdjust="spacingAndGlyphs">Tcl1-tg</text>
<text x="479.50" y="297.40" font-size="8.3" text-anchor="start" fill="#333" font-style="italic" textLength="28" lengthAdjust="spacingAndGlyphs">Cd44<tspan font-style="normal">&#916;</tspan>B</text>
<text x="481.30" y="307.20" font-size="8.3" text-anchor="start" fill="#333" textLength="23.7" lengthAdjust="spacingAndGlyphs">Tcl1-tg</text>
<text x="7.30" y="373.80" font-size="12.4" text-anchor="start" fill="#111" font-weight="bold">C</text>
<text x="23.00" y="373.60" font-size="10" text-anchor="start" fill="#111" font-weight="bold">i</text>
<line x1="80.00" y1="376.50" x2="80.00" y2="485.30" stroke="#222" stroke-width="1.45"/>
<line x1="79.30" y1="484.60" x2="238.00" y2="484.60" stroke="#222" stroke-width="1.45"/>
<line x1="76.60" y1="379.30" x2="80.00" y2="379.30" stroke="#222" stroke-width="1.2"/>
<text x="74.40" y="382.40" font-size="8.9" text-anchor="end" fill="#333" textLength="12.4" lengthAdjust="spacingAndGlyphs">2.0</text>
<line x1="76.60" y1="405.62" x2="80.00" y2="405.62" stroke="#222" stroke-width="1.2"/>
<text x="74.40" y="408.73" font-size="8.9" text-anchor="end" fill="#333" textLength="12.4" lengthAdjust="spacingAndGlyphs">1.5</text>
<line x1="76.60" y1="431.95" x2="80.00" y2="431.95" stroke="#222" stroke-width="1.2"/>
<text x="74.40" y="435.05" font-size="8.9" text-anchor="end" fill="#333" textLength="12.4" lengthAdjust="spacingAndGlyphs">1.0</text>
<line x1="76.60" y1="458.28" x2="80.00" y2="458.28" stroke="#222" stroke-width="1.2"/>
<text x="74.40" y="461.38" font-size="8.9" text-anchor="end" fill="#333" textLength="12.4" lengthAdjust="spacingAndGlyphs">0.5</text>
<line x1="76.60" y1="484.60" x2="80.00" y2="484.60" stroke="#222" stroke-width="1.2"/>
<text x="74.40" y="487.70" font-size="8.9" text-anchor="end" fill="#333" textLength="12.4" lengthAdjust="spacingAndGlyphs">0.0</text>
<line x1="105.75" y1="484.60" x2="105.75" y2="488.10" stroke="#222" stroke-width="1.1"/>
<line x1="158.00" y1="484.60" x2="158.00" y2="488.10" stroke="#222" stroke-width="1.1"/>
<line x1="210.50" y1="484.60" x2="210.50" y2="488.10" stroke="#222" stroke-width="1.1"/>
<text x="105.75" y="498.60" font-size="8.8" text-anchor="middle" fill="#333">1</text>
<text x="158.00" y="498.60" font-size="8.8" text-anchor="middle" fill="#333">2</text>
<text x="210.50" y="498.60" font-size="8.8" text-anchor="middle" fill="#333">3</text>
<text x="40.00" y="498.40" font-size="8.2" text-anchor="start" fill="#333" textLength="42.5" lengthAdjust="spacingAndGlyphs">Experiment</text>
<text x="0" y="0" font-size="10.4" text-anchor="middle" fill="#111" font-weight="bold" textLength="14.7" lengthAdjust="spacingAndGlyphs" transform="translate(32.52 430.70) rotate(-90)">BM</text>
<text x="0" y="0" font-size="9.5" text-anchor="middle" fill="#333" textLength="78" lengthAdjust="spacingAndGlyphs" transform="translate(43.53 430.70) rotate(-90)">Number of completed</text>
<text x="0" y="0" font-size="9.5" text-anchor="middle" fill="#333" textLength="50.5" lengthAdjust="spacingAndGlyphs" transform="translate(56.23 431.00) rotate(-90)">division cycles</text>
<line x1="93.75" y1="382.80" x2="120.00" y2="382.80" stroke="#333" stroke-width="1.3"/>
<line x1="93.75" y1="379.50" x2="93.75" y2="386.10" stroke="#333" stroke-width="1.2"/>
<line x1="120.00" y1="379.50" x2="120.00" y2="386.10" stroke="#333" stroke-width="1.2"/>
<text x="106.88" y="378.50" font-size="6.8" text-anchor="middle" fill="#444" textLength="5.4" lengthAdjust="spacingAndGlyphs">ns</text>
<line x1="143.00" y1="382.80" x2="169.50" y2="382.80" stroke="#333" stroke-width="1.3"/>
<line x1="143.00" y1="379.50" x2="143.00" y2="386.10" stroke="#333" stroke-width="1.2"/>
<line x1="169.50" y1="379.50" x2="169.50" y2="386.10" stroke="#333" stroke-width="1.2"/>
<circle cx="154.40" cy="378.20" r="1.08" fill="#1a1a1a"/>
<circle cx="158.10" cy="378.20" r="1.08" fill="#1a1a1a"/>
<line x1="198.75" y1="382.80" x2="225.00" y2="382.80" stroke="#333" stroke-width="1.3"/>
<line x1="198.75" y1="379.50" x2="198.75" y2="386.10" stroke="#333" stroke-width="1.2"/>
<line x1="225.00" y1="379.50" x2="225.00" y2="386.10" stroke="#333" stroke-width="1.2"/>
<text x="211.88" y="378.50" font-size="6.8" text-anchor="middle" fill="#444" textLength="5.4" lengthAdjust="spacingAndGlyphs">ns</text>
<rect x="91.70" y="429.80" width="4.6" height="4.6" fill="#98b282" stroke="#111" stroke-width="1.1"/>
<rect x="109.90" y="429.80" width="4.6" height="4.6" fill="#98b282" stroke="#111" stroke-width="1.1"/>
<rect x="116.00" y="429.80" width="4.6" height="4.6" fill="#98b282" stroke="#111" stroke-width="1.1"/>
<rect x="155.95" y="433.20" width="4.6" height="4.6" fill="#98b282" stroke="#111" stroke-width="1.1"/>
<rect x="152.70" y="444.70" width="4.6" height="4.6" fill="#98b282" stroke="#111" stroke-width="1.1"/>
<rect x="158.95" y="444.70" width="4.6" height="4.6" fill="#98b282" stroke="#111" stroke-width="1.1"/>
<rect x="199.40" y="438.10" width="4.6" height="4.6" fill="#98b282" stroke="#111" stroke-width="1.1"/>
<rect x="211.50" y="440.90" width="4.6" height="4.6" fill="#98b282" stroke="#111" stroke-width="1.1"/>
<rect x="217.50" y="437.40" width="4.6" height="4.6" fill="#98b282" stroke="#111" stroke-width="1.1"/>
<rect x="97.60" y="429.70" width="4.8" height="4.8" fill="#7e1639" stroke="#30061a" stroke-width="0.9"/>
<rect x="103.50" y="427.80" width="4.8" height="4.8" fill="#7e1639" stroke="#30061a" stroke-width="0.9"/>
<rect x="103.50" y="434.00" width="4.8" height="4.8" fill="#7e1639" stroke="#30061a" stroke-width="0.9"/>
<rect x="149.60" y="413.10" width="4.8" height="4.8" fill="#7e1639" stroke="#30061a" stroke-width="0.9"/>
<rect x="155.85" y="419.35" width="4.8" height="4.8" fill="#7e1639" stroke="#30061a" stroke-width="0.9"/>
<rect x="162.10" y="418.10" width="4.8" height="4.8" fill="#7e1639" stroke="#30061a" stroke-width="0.9"/>
<rect x="205.30" y="429.50" width="4.8" height="4.8" fill="#7e1639" stroke="#30061a" stroke-width="0.9"/>
<rect x="211.40" y="434.70" width="4.8" height="4.8" fill="#7e1639" stroke="#30061a" stroke-width="0.9"/>
<rect x="205.30" y="443.40" width="4.8" height="4.8" fill="#7e1639" stroke="#30061a" stroke-width="0.9"/>
<line x1="88.00" y1="432.10" x2="124.40" y2="432.10" stroke="#111" stroke-width="1.5"/>
<line x1="140.00" y1="420.50" x2="176.25" y2="420.50" stroke="#111" stroke-width="1.5"/>
<line x1="140.00" y1="447.00" x2="176.25" y2="447.00" stroke="#111" stroke-width="1.5"/>
<line x1="192.20" y1="438.00" x2="228.90" y2="438.00" stroke="#111" stroke-width="1.5"/>
<line x1="192.20" y1="441.00" x2="228.90" y2="441.00" stroke="#111" stroke-width="1.5"/>
<line x1="79.60" y1="518.40" x2="79.60" y2="626.80" stroke="#222" stroke-width="1.45"/>
<line x1="78.90" y1="626.10" x2="238.00" y2="626.10" stroke="#222" stroke-width="1.45"/>
<line x1="76.20" y1="521.20" x2="79.60" y2="521.20" stroke="#222" stroke-width="1.2"/>
<text x="74.00" y="524.30" font-size="8.9" text-anchor="end" fill="#333" textLength="12.4" lengthAdjust="spacingAndGlyphs">2.0</text>
<line x1="76.20" y1="547.43" x2="79.60" y2="547.43" stroke="#222" stroke-width="1.2"/>
<text x="74.00" y="550.53" font-size="8.9" text-anchor="end" fill="#333" textLength="12.4" lengthAdjust="spacingAndGlyphs">1.5</text>
<line x1="76.20" y1="573.65" x2="79.60" y2="573.65" stroke="#222" stroke-width="1.2"/>
<text x="74.00" y="576.75" font-size="8.9" text-anchor="end" fill="#333" textLength="12.4" lengthAdjust="spacingAndGlyphs">1.0</text>
<line x1="76.20" y1="599.88" x2="79.60" y2="599.88" stroke="#222" stroke-width="1.2"/>
<text x="74.00" y="602.98" font-size="8.9" text-anchor="end" fill="#333" textLength="12.4" lengthAdjust="spacingAndGlyphs">0.5</text>
<line x1="76.20" y1="626.10" x2="79.60" y2="626.10" stroke="#222" stroke-width="1.2"/>
<text x="74.00" y="629.20" font-size="8.9" text-anchor="end" fill="#333" textLength="12.4" lengthAdjust="spacingAndGlyphs">0.0</text>
<line x1="105.75" y1="626.10" x2="105.75" y2="629.60" stroke="#222" stroke-width="1.1"/>
<line x1="158.00" y1="626.10" x2="158.00" y2="629.60" stroke="#222" stroke-width="1.1"/>
<line x1="210.50" y1="626.10" x2="210.50" y2="629.60" stroke="#222" stroke-width="1.1"/>
<text x="105.75" y="640.10" font-size="8.8" text-anchor="middle" fill="#333">1</text>
<text x="158.00" y="640.10" font-size="8.8" text-anchor="middle" fill="#333">2</text>
<text x="210.50" y="640.10" font-size="8.8" text-anchor="middle" fill="#333">3</text>
<text x="40.00" y="639.90" font-size="8.2" text-anchor="start" fill="#333" textLength="42.5" lengthAdjust="spacingAndGlyphs">Experiment</text>
<text x="0" y="0" font-size="10.4" text-anchor="middle" fill="#111" font-weight="bold" textLength="17.9" lengthAdjust="spacingAndGlyphs" transform="translate(32.52 566.80) rotate(-90)">SPL</text>
<text x="0" y="0" font-size="9.5" text-anchor="middle" fill="#333" textLength="78" lengthAdjust="spacingAndGlyphs" transform="translate(43.53 566.80) rotate(-90)">Number of completed</text>
<text x="0" y="0" font-size="9.5" text-anchor="middle" fill="#333" textLength="50.5" lengthAdjust="spacingAndGlyphs" transform="translate(56.23 567.10) rotate(-90)">division cycles</text>
<line x1="93.75" y1="523.80" x2="119.25" y2="523.80" stroke="#333" stroke-width="1.3"/>
<line x1="93.75" y1="520.50" x2="93.75" y2="527.10" stroke="#333" stroke-width="1.2"/>
<line x1="119.25" y1="520.50" x2="119.25" y2="527.10" stroke="#333" stroke-width="1.2"/>
<circle cx="102.80" cy="519.20" r="1.08" fill="#1a1a1a"/>
<circle cx="106.50" cy="519.20" r="1.08" fill="#1a1a1a"/>
<circle cx="110.20" cy="519.20" r="1.08" fill="#1a1a1a"/>
<line x1="143.00" y1="523.80" x2="169.50" y2="523.80" stroke="#333" stroke-width="1.3"/>
<line x1="143.00" y1="520.50" x2="143.00" y2="527.10" stroke="#333" stroke-width="1.2"/>
<line x1="169.50" y1="520.50" x2="169.50" y2="527.10" stroke="#333" stroke-width="1.2"/>
<circle cx="152.55" cy="519.20" r="1.08" fill="#1a1a1a"/>
<circle cx="156.25" cy="519.20" r="1.08" fill="#1a1a1a"/>
<circle cx="159.95" cy="519.20" r="1.08" fill="#1a1a1a"/>
<line x1="198.75" y1="523.80" x2="225.00" y2="523.80" stroke="#333" stroke-width="1.3"/>
<line x1="198.75" y1="520.50" x2="198.75" y2="527.10" stroke="#333" stroke-width="1.2"/>
<line x1="225.00" y1="520.50" x2="225.00" y2="527.10" stroke="#333" stroke-width="1.2"/>
<circle cx="208.18" cy="519.20" r="1.08" fill="#1a1a1a"/>
<circle cx="211.88" cy="519.20" r="1.08" fill="#1a1a1a"/>
<circle cx="215.57" cy="519.20" r="1.08" fill="#1a1a1a"/>
<rect x="97.10" y="585.10" width="4.8" height="4.8" fill="#7e1639" stroke="#30061a" stroke-width="0.9"/>
<rect x="103.35" y="585.10" width="4.8" height="4.8" fill="#7e1639" stroke="#30061a" stroke-width="0.9"/>
<rect x="109.60" y="585.10" width="4.8" height="4.8" fill="#7e1639" stroke="#30061a" stroke-width="0.9"/>
<rect x="149.60" y="538.10" width="4.8" height="4.8" fill="#7e1639" stroke="#30061a" stroke-width="0.9"/>
<rect x="155.85" y="540.10" width="4.8" height="4.8" fill="#7e1639" stroke="#30061a" stroke-width="0.9"/>
<rect x="162.10" y="536.35" width="4.8" height="4.8" fill="#7e1639" stroke="#30061a" stroke-width="0.9"/>
<rect x="202.10" y="531.85" width="4.8" height="4.8" fill="#7e1639" stroke="#30061a" stroke-width="0.9"/>
<rect x="208.35" y="531.85" width="4.8" height="4.8" fill="#7e1639" stroke="#30061a" stroke-width="0.9"/>
<rect x="214.60" y="528.10" width="4.8" height="4.8" fill="#7e1639" stroke="#30061a" stroke-width="0.9"/>
<rect x="97.20" y="592.70" width="4.6" height="4.6" fill="#98b282" stroke="#111" stroke-width="1.1"/>
<rect x="103.45" y="596.45" width="4.6" height="4.6" fill="#98b282" stroke="#111" stroke-width="1.1"/>
<rect x="109.70" y="594.70" width="4.6" height="4.6" fill="#98b282" stroke="#111" stroke-width="1.1"/>
<rect x="149.70" y="563.95" width="4.6" height="4.6" fill="#98b282" stroke="#111" stroke-width="1.1"/>
<rect x="155.95" y="570.70" width="4.6" height="4.6" fill="#98b282" stroke="#111" stroke-width="1.1"/>
<rect x="162.20" y="568.45" width="4.6" height="4.6" fill="#98b282" stroke="#111" stroke-width="1.1"/>
<rect x="202.20" y="553.20" width="4.6" height="4.6" fill="#98b282" stroke="#111" stroke-width="1.1"/>
<rect x="208.45" y="556.45" width="4.6" height="4.6" fill="#98b282" stroke="#111" stroke-width="1.1"/>
<rect x="214.70" y="553.20" width="4.6" height="4.6" fill="#98b282" stroke="#111" stroke-width="1.1"/>
<line x1="88.00" y1="587.50" x2="124.50" y2="587.50" stroke="#111" stroke-width="1.5"/>
<line x1="88.00" y1="597.00" x2="124.50" y2="597.00" stroke="#111" stroke-width="1.5"/>
<line x1="140.00" y1="540.50" x2="176.75" y2="540.50" stroke="#111" stroke-width="1.5"/>
<line x1="140.00" y1="570.75" x2="176.75" y2="570.75" stroke="#111" stroke-width="1.5"/>
<line x1="192.50" y1="534.00" x2="229.25" y2="534.00" stroke="#111" stroke-width="1.5"/>
<line x1="192.50" y1="555.75" x2="229.25" y2="555.75" stroke="#111" stroke-width="1.5"/>
<text x="279.60" y="373.70" font-size="9.5" text-anchor="start" fill="#111" font-weight="bold">ii</text>
<path d="M340.44,492.75 L340.74,492.73 L341.04,492.69 L341.34,492.65 L341.64,492.58 L341.94,492.49 L342.24,492.37 L342.54,492.21 L342.84,492.02 L343.14,491.77 L343.44,491.47 L343.74,491.12 L344.04,490.70 L344.34,490.22 L344.64,489.69 L344.94,489.11 L345.24,488.49 L345.54,487.86 L345.84,487.24 L346.14,486.63 L346.44,486.08 L346.74,485.61 L347.04,485.23 L347.34,484.96 L347.64,484.82 L347.94,484.81 L348.24,484.95 L348.54,485.20 L348.84,485.58 L349.14,486.05 L349.44,486.60 L349.74,487.19 L350.04,487.82 L350.34,488.45 L350.64,489.07 L350.94,489.65 L351.24,490.19 L351.54,490.67 L351.84,491.09 L352.14,491.45 L352.44,491.75 L352.74,492.00 L353.04,492.20 L353.34,492.36 L353.64,492.48 L353.94,492.57 L354.24,492.64 L354.54,492.69 L354.84,492.73 L355.14,492.75 Z" fill="#e07aa8" fill-opacity="0.62" stroke="#c0186a" stroke-width="0.85"/>
<path d="M345.24,492.71 L345.54,492.66 L345.84,492.60 L346.14,492.50 L346.44,492.37 L346.74,492.20 L347.04,491.97 L347.34,491.67 L347.64,491.29 L347.94,490.82 L348.24,490.25 L348.54,489.56 L348.84,488.75 L349.14,487.83 L349.44,486.81 L349.74,485.69 L350.04,484.51 L350.34,483.30 L350.64,482.09 L350.94,480.93 L351.24,479.87 L351.54,478.95 L351.84,478.22 L352.14,477.70 L352.44,477.44 L352.74,477.43 L353.04,477.68 L353.34,478.18 L353.64,478.90 L353.94,479.80 L354.24,480.86 L354.54,482.01 L354.84,483.22 L355.14,484.43 L355.44,485.61 L355.74,486.74 L356.04,487.77 L356.34,488.69 L356.64,489.51 L356.94,490.20 L357.24,490.79 L357.54,491.27 L357.84,491.65 L358.14,491.95 L358.44,492.19 L358.74,492.36 L359.04,492.49 L359.34,492.59 L359.64,492.66 L359.94,492.71 Z" fill="#e8409c" fill-opacity="0.62" stroke="#c0186a" stroke-width="0.85"/>
<path d="M351.24,492.62 L351.54,492.53 L351.84,492.40 L352.14,492.22 L352.44,491.97 L352.74,491.63 L353.04,491.19 L353.34,490.61 L353.64,489.87 L353.94,488.95 L354.24,487.82 L354.54,486.48 L354.84,484.92 L355.14,483.12 L355.44,481.13 L355.74,478.95 L356.04,476.65 L356.34,474.29 L356.64,471.93 L356.94,469.68 L357.24,467.61 L357.54,465.82 L357.84,464.39 L358.14,463.39 L358.44,462.87 L358.74,462.86 L359.04,463.34 L359.34,464.31 L359.64,465.72 L359.94,467.48 L360.24,469.53 L360.54,471.78 L360.84,474.13 L361.14,476.50 L361.44,478.80 L361.74,480.99 L362.04,483.00 L362.34,484.80 L362.64,486.39 L362.94,487.74 L363.24,488.88 L363.54,489.81 L363.84,490.56 L364.14,491.15 L364.44,491.61 L364.74,491.95 L365.04,492.20 L365.34,492.39 L365.64,492.52 L365.94,492.62 Z" fill="#e8409c" fill-opacity="0.62" stroke="#c0186a" stroke-width="0.85"/>
<path d="M357.36,492.52 L357.66,492.36 L357.96,492.15 L358.26,491.83 L358.56,491.40 L358.86,490.81 L359.16,490.02 L359.46,488.98 L359.76,487.66 L360.06,486.01 L360.36,484.00 L360.66,481.60 L360.96,478.81 L361.26,475.65 L361.56,472.15 L361.86,468.41 L362.16,464.51 L362.46,460.60 L362.76,456.82 L363.06,453.34 L363.36,450.32 L363.66,447.91 L363.96,446.24 L364.26,445.40 L364.56,445.43 L364.86,446.33 L365.16,448.05 L365.46,450.51 L365.76,453.56 L366.06,457.07 L366.36,460.86 L366.66,464.78 L366.96,468.66 L367.26,472.40 L367.56,475.87 L367.86,479.01 L368.16,481.77 L368.46,484.15 L368.76,486.13 L369.06,487.76 L369.36,489.06 L369.66,490.07 L369.96,490.85 L370.26,491.43 L370.56,491.86 L370.86,492.16 L371.16,492.38 Z" fill="#e8409c" fill-opacity="0.62" stroke="#c0186a" stroke-width="0.85"/>
<path d="M362.44,492.65 L362.74,492.58 L363.04,492.47 L363.34,492.32 L363.64,492.11 L363.94,491.83 L364.24,491.45 L364.54,490.97 L364.84,490.36 L365.14,489.59 L365.44,488.65 L365.74,487.54 L366.04,486.23 L366.34,484.74 L366.64,483.07 L366.94,481.26 L367.24,479.34 L367.54,477.37 L367.84,475.41 L368.14,473.53 L368.44,471.81 L368.74,470.32 L369.04,469.13 L369.34,468.30 L369.64,467.86 L369.94,467.85 L370.24,468.25 L370.54,469.06 L370.84,470.23 L371.14,471.70 L371.44,473.41 L371.74,475.28 L372.04,477.24 L372.34,479.21 L372.64,481.14 L372.94,482.95 L373.24,484.63 L373.54,486.14 L373.84,487.45 L374.14,488.59 L374.44,489.53 L374.74,490.31 L375.04,490.93 L375.34,491.43 L375.64,491.80 L375.94,492.09 L376.24,492.30 L376.54,492.46 L376.84,492.57 L377.14,492.65 Z" fill="#e8409c" fill-opacity="0.62" stroke="#c0186a" stroke-width="0.85"/>
<path d="M367.04,492.71 L367.34,492.67 L367.64,492.60 L367.94,492.51 L368.24,492.38 L368.54,492.22 L368.84,491.99 L369.14,491.70 L369.44,491.33 L369.74,490.87 L370.04,490.31 L370.34,489.64 L370.64,488.86 L370.94,487.96 L371.24,486.96 L371.54,485.88 L371.84,484.73 L372.14,483.54 L372.44,482.37 L372.74,481.24 L373.04,480.21 L373.34,479.31 L373.64,478.60 L373.94,478.10 L374.24,477.84 L374.54,477.83 L374.84,478.07 L375.14,478.56 L375.44,479.26 L375.74,480.14 L376.04,481.17 L376.34,482.29 L376.64,483.46 L376.94,484.65 L377.24,485.80 L377.54,486.89 L377.84,487.90 L378.14,488.80 L378.44,489.59 L378.74,490.27 L379.04,490.84 L379.34,491.31 L379.64,491.68 L379.94,491.98 L380.24,492.20 L380.54,492.37 L380.84,492.50 L381.14,492.60 L381.44,492.66 L381.74,492.71 Z" fill="#e8409c" fill-opacity="0.62" stroke="#c0186a" stroke-width="0.85"/>
<path d="M333.00,493.20 C333.50,493.17 335.00,493.17 336.00,493.00 C337.00,492.83 338.00,492.48 339.00,492.20 C340.00,491.92 341.08,491.67 342.00,491.30 C342.92,490.93 343.75,490.63 344.50,490.00 C345.25,489.37 345.75,488.90 346.50,487.50 C347.25,486.10 347.95,483.38 349.00,481.60 C350.05,479.82 351.73,477.33 352.80,476.80 C353.87,476.27 354.43,480.87 355.40,478.40 C356.37,475.93 357.63,464.12 358.60,462.00 C359.57,459.88 360.23,468.70 361.20,465.70 C362.17,462.70 363.33,445.07 364.40,444.00 C365.47,442.93 366.72,455.68 367.60,459.30 C368.48,462.92 369.00,463.58 369.70,465.70 C370.40,467.82 371.02,470.07 371.80,472.00 C372.58,473.93 373.60,475.70 374.40,477.30 C375.20,478.90 375.92,479.82 376.60,481.60 C377.28,483.38 377.93,486.22 378.50,488.00 C379.07,489.78 379.42,491.43 380.00,492.30 C380.58,493.17 381.67,493.05 382.00,493.20" fill="none" stroke="#2e4a78" stroke-width="1.25" stroke-linejoin="round"/>
<rect x="308.3" y="402.7" width="89.0" height="90.80000000000001" fill="none" stroke="#111" stroke-width="1.3"/>
<line x1="306.60" y1="493.50" x2="308.30" y2="493.50" stroke="#222" stroke-width="0.8"/>
<line x1="306.60" y1="487.45" x2="308.30" y2="487.45" stroke="#222" stroke-width="0.8"/>
<line x1="306.60" y1="481.39" x2="308.30" y2="481.39" stroke="#222" stroke-width="0.8"/>
<line x1="306.60" y1="475.34" x2="308.30" y2="475.34" stroke="#222" stroke-width="0.8"/>
<line x1="306.60" y1="469.29" x2="308.30" y2="469.29" stroke="#222" stroke-width="0.8"/>
<line x1="306.60" y1="463.23" x2="308.30" y2="463.23" stroke="#222" stroke-width="0.8"/>
<line x1="306.60" y1="457.18" x2="308.30" y2="457.18" stroke="#222" stroke-width="0.8"/>
<line x1="306.60" y1="451.13" x2="308.30" y2="451.13" stroke="#222" stroke-width="0.8"/>
<line x1="306.60" y1="445.07" x2="308.30" y2="445.07" stroke="#222" stroke-width="0.8"/>
<line x1="306.60" y1="439.02" x2="308.30" y2="439.02" stroke="#222" stroke-width="0.8"/>
<line x1="306.60" y1="432.97" x2="308.30" y2="432.97" stroke="#222" stroke-width="0.8"/>
<line x1="306.60" y1="426.91" x2="308.30" y2="426.91" stroke="#222" stroke-width="0.8"/>
<line x1="306.60" y1="420.86" x2="308.30" y2="420.86" stroke="#222" stroke-width="0.8"/>
<line x1="306.60" y1="414.81" x2="308.30" y2="414.81" stroke="#222" stroke-width="0.8"/>
<line x1="306.60" y1="408.75" x2="308.30" y2="408.75" stroke="#222" stroke-width="0.8"/>
<line x1="306.60" y1="402.70" x2="308.30" y2="402.70" stroke="#222" stroke-width="0.8"/>
<line x1="305.10" y1="493.50" x2="308.30" y2="493.50" stroke="#222" stroke-width="1.1"/>
<text x="302.90" y="496.40" font-size="8.4" text-anchor="end" fill="#333" textLength="4.9" lengthAdjust="spacingAndGlyphs">0</text>
<line x1="305.10" y1="463.23" x2="308.30" y2="463.23" stroke="#222" stroke-width="1.1"/>
<text x="302.90" y="466.13" font-size="8.4" text-anchor="end" fill="#333" textLength="4.9" lengthAdjust="spacingAndGlyphs">5</text>
<line x1="305.10" y1="432.97" x2="308.30" y2="432.97" stroke="#222" stroke-width="1.1"/>
<text x="302.90" y="435.87" font-size="8.4" text-anchor="end" fill="#333" textLength="9.8" lengthAdjust="spacingAndGlyphs">10</text>
<line x1="305.10" y1="402.70" x2="308.30" y2="402.70" stroke="#222" stroke-width="1.1"/>
<text x="302.90" y="405.60" font-size="8.4" text-anchor="end" fill="#333" textLength="9.8" lengthAdjust="spacingAndGlyphs">15</text>
<line x1="311.30" y1="493.50" x2="311.30" y2="496.50" stroke="#222" stroke-width="0.85"/>
<line x1="317.11" y1="493.50" x2="317.11" y2="495.60" stroke="#222" stroke-width="0.85"/>
<line x1="320.51" y1="493.50" x2="320.51" y2="495.60" stroke="#222" stroke-width="0.85"/>
<line x1="322.92" y1="493.50" x2="322.92" y2="495.60" stroke="#222" stroke-width="0.85"/>
<line x1="324.79" y1="493.50" x2="324.79" y2="495.60" stroke="#222" stroke-width="0.85"/>
<line x1="326.32" y1="493.50" x2="326.32" y2="495.60" stroke="#222" stroke-width="0.85"/>
<line x1="327.61" y1="493.50" x2="327.61" y2="495.60" stroke="#222" stroke-width="0.85"/>
<line x1="328.73" y1="493.50" x2="328.73" y2="495.60" stroke="#222" stroke-width="0.85"/>
<line x1="329.72" y1="493.50" x2="329.72" y2="495.60" stroke="#222" stroke-width="0.85"/>
<line x1="330.60" y1="493.50" x2="330.60" y2="496.50" stroke="#222" stroke-width="0.85"/>
<line x1="336.41" y1="493.50" x2="336.41" y2="495.60" stroke="#222" stroke-width="0.85"/>
<line x1="339.81" y1="493.50" x2="339.81" y2="495.60" stroke="#222" stroke-width="0.85"/>
<line x1="342.22" y1="493.50" x2="342.22" y2="495.60" stroke="#222" stroke-width="0.85"/>
<line x1="344.09" y1="493.50" x2="344.09" y2="495.60" stroke="#222" stroke-width="0.85"/>
<line x1="345.62" y1="493.50" x2="345.62" y2="495.60" stroke="#222" stroke-width="0.85"/>
<line x1="346.91" y1="493.50" x2="346.91" y2="495.60" stroke="#222" stroke-width="0.85"/>
<line x1="348.03" y1="493.50" x2="348.03" y2="495.60" stroke="#222" stroke-width="0.85"/>
<line x1="349.02" y1="493.50" x2="349.02" y2="495.60" stroke="#222" stroke-width="0.85"/>
<line x1="349.90" y1="493.50" x2="349.90" y2="496.50" stroke="#222" stroke-width="0.85"/>
<line x1="355.72" y1="493.50" x2="355.72" y2="495.60" stroke="#222" stroke-width="0.85"/>
<line x1="359.11" y1="493.50" x2="359.11" y2="495.60" stroke="#222" stroke-width="0.85"/>
<line x1="361.53" y1="493.50" x2="361.53" y2="495.60" stroke="#222" stroke-width="0.85"/>
<line x1="363.40" y1="493.50" x2="363.40" y2="495.60" stroke="#222" stroke-width="0.85"/>
<line x1="364.92" y1="493.50" x2="364.92" y2="495.60" stroke="#222" stroke-width="0.85"/>
<line x1="366.22" y1="493.50" x2="366.22" y2="495.60" stroke="#222" stroke-width="0.85"/>
<line x1="367.34" y1="493.50" x2="367.34" y2="495.60" stroke="#222" stroke-width="0.85"/>
<line x1="368.32" y1="493.50" x2="368.32" y2="495.60" stroke="#222" stroke-width="0.85"/>
<line x1="369.21" y1="493.50" x2="369.21" y2="496.50" stroke="#222" stroke-width="0.85"/>
<line x1="375.02" y1="493.50" x2="375.02" y2="495.60" stroke="#222" stroke-width="0.85"/>
<line x1="378.42" y1="493.50" x2="378.42" y2="495.60" stroke="#222" stroke-width="0.85"/>
<line x1="380.83" y1="493.50" x2="380.83" y2="495.60" stroke="#222" stroke-width="0.85"/>
<line x1="382.70" y1="493.50" x2="382.70" y2="495.60" stroke="#222" stroke-width="0.85"/>
<line x1="384.23" y1="493.50" x2="384.23" y2="495.60" stroke="#222" stroke-width="0.85"/>
<line x1="385.52" y1="493.50" x2="385.52" y2="495.60" stroke="#222" stroke-width="0.85"/>
<line x1="386.64" y1="493.50" x2="386.64" y2="495.60" stroke="#222" stroke-width="0.85"/>
<line x1="387.63" y1="493.50" x2="387.63" y2="495.60" stroke="#222" stroke-width="0.85"/>
<line x1="388.51" y1="493.50" x2="388.51" y2="496.50" stroke="#222" stroke-width="0.85"/>
<line x1="394.32" y1="493.50" x2="394.32" y2="495.60" stroke="#222" stroke-width="0.85"/>
<text x="313.00" y="416.10" font-size="8.3" text-anchor="start" fill="#333" textLength="23.7" lengthAdjust="spacingAndGlyphs">Tcl1-tg</text>
<path d="M439.52,493.10 L439.82,493.06 L440.12,492.99 L440.42,492.90 L440.72,492.78 L441.02,492.62 L441.32,492.40 L441.62,492.13 L441.92,491.78 L442.22,491.34 L442.52,490.81 L442.82,490.17 L443.12,489.43 L443.42,488.57 L443.72,487.61 L444.02,486.55 L444.32,485.41 L444.62,484.22 L444.92,483.01 L445.22,481.82 L445.52,480.68 L445.82,479.64 L446.12,478.74 L446.42,478.02 L446.72,477.52 L447.02,477.24 L447.32,477.22 L447.62,477.44 L447.92,477.90 L448.22,478.58 L448.52,479.45 L448.82,480.46 L449.12,481.58 L449.42,482.77 L449.72,483.98 L450.02,485.18 L450.32,486.33 L450.62,487.40 L450.92,488.39 L451.22,489.27 L451.52,490.03 L451.82,490.69 L452.12,491.24 L452.42,491.70 L452.72,492.06 L453.02,492.35 L453.32,492.58 L453.62,492.75 L453.92,492.88 L454.22,492.98 L454.52,493.05 L454.82,493.10 Z" fill="#e8409c" fill-opacity="0.62" stroke="#c0186a" stroke-width="0.85"/>
<path d="M444.30,492.90 L444.60,492.79 L444.90,492.64 L445.20,492.45 L445.50,492.21 L445.80,491.89 L446.10,491.50 L446.40,491.00 L446.70,490.39 L447.00,489.65 L447.30,488.75 L447.60,487.69 L447.90,486.43 L448.20,484.98 L448.50,483.31 L448.80,481.41 L449.10,479.30 L449.40,476.97 L449.70,474.43 L450.00,471.72 L450.30,468.86 L450.60,465.90 L450.90,462.87 L451.20,459.85 L451.50,456.89 L451.80,454.06 L452.10,451.44 L452.40,449.08 L452.70,447.04 L453.00,445.40 L453.30,444.19 L453.60,443.45 L453.90,443.20 L454.20,443.45 L454.50,444.19 L454.80,445.40 L455.10,447.04 L455.40,449.08 L455.70,451.44 L456.00,454.06 L456.30,456.89 L456.60,459.85 L456.90,462.87 L457.20,465.90 L457.50,468.86 L457.80,471.72 L458.10,474.43 L458.40,476.97 L458.70,479.30 L459.00,481.41 L459.30,483.31 L459.60,484.98 L459.90,486.43 L460.20,487.69 L460.50,488.75 L460.80,489.65 L461.10,490.39 L461.40,491.00 L461.70,491.50 L462.00,491.89 L462.30,492.21 L462.60,492.45 L462.90,492.64 L463.20,492.79 L463.50,492.90 Z" fill="#e8409c" fill-opacity="0.62" stroke="#c0186a" stroke-width="0.85"/>
<path d="M450.94,492.83 L451.24,492.69 L451.54,492.49 L451.84,492.22 L452.14,491.88 L452.44,491.43 L452.74,490.86 L453.04,490.14 L453.34,489.25 L453.64,488.15 L453.94,486.82 L454.24,485.23 L454.54,483.36 L454.84,481.19 L455.14,478.70 L455.44,475.90 L455.74,472.80 L456.04,469.42 L456.34,465.79 L456.64,461.97 L456.94,458.03 L457.24,454.03 L457.54,450.09 L457.84,446.28 L458.14,442.72 L458.44,439.52 L458.74,436.76 L459.04,434.53 L459.34,432.92 L459.64,431.96 L459.94,431.71 L460.24,432.15 L460.54,433.29 L460.84,435.07 L461.14,437.44 L461.44,440.33 L461.74,443.64 L462.04,447.28 L462.34,451.13 L462.64,455.10 L462.94,459.09 L463.24,463.01 L463.54,466.78 L463.84,470.35 L464.14,473.66 L464.44,476.68 L464.74,479.39 L465.04,481.79 L465.34,483.88 L465.64,485.68 L465.94,487.20 L466.24,488.46 L466.54,489.50 L466.84,490.35 L467.14,491.03 L467.44,491.56 L467.74,491.98 L468.04,492.30 L468.34,492.55 L468.64,492.73 Z" fill="#e8409c" fill-opacity="0.62" stroke="#c0186a" stroke-width="0.85"/>
<path d="M458.38,493.00 L458.68,492.92 L458.98,492.80 L459.28,492.64 L459.58,492.42 L459.88,492.14 L460.18,491.78 L460.48,491.31 L460.78,490.73 L461.08,490.01 L461.38,489.13 L461.68,488.08 L461.98,486.85 L462.28,485.42 L462.58,483.80 L462.88,481.99 L463.18,480.00 L463.48,477.87 L463.78,475.64 L464.08,473.34 L464.38,471.04 L464.68,468.80 L464.98,466.69 L465.28,464.77 L465.58,463.12 L465.88,461.80 L466.18,460.85 L466.48,460.32 L466.78,460.22 L467.08,460.55 L467.38,461.31 L467.68,462.46 L467.98,463.97 L468.28,465.76 L468.58,467.79 L468.88,469.98 L469.18,472.26 L469.48,474.57 L469.78,476.84 L470.08,479.02 L470.38,481.08 L470.68,482.97 L470.98,484.69 L471.28,486.21 L471.58,487.53 L471.88,488.66 L472.18,489.62 L472.48,490.41 L472.78,491.06 L473.08,491.57 L473.38,491.98 L473.68,492.30 L473.98,492.55 L474.28,492.73 L474.58,492.87 L474.88,492.97 Z" fill="#e8409c" fill-opacity="0.62" stroke="#c0186a" stroke-width="0.85"/>
<path d="M464.10,493.01 L464.40,492.93 L464.70,492.84 L465.00,492.72 L465.30,492.56 L465.60,492.35 L465.90,492.10 L466.20,491.78 L466.50,491.38 L466.80,490.90 L467.10,490.32 L467.40,489.63 L467.70,488.82 L468.00,487.87 L468.30,486.79 L468.60,485.56 L468.90,484.19 L469.20,482.68 L469.50,481.04 L469.80,479.28 L470.10,477.43 L470.40,475.51 L470.70,473.55 L471.00,471.59 L471.30,469.67 L471.60,467.84 L471.90,466.14 L472.20,464.61 L472.50,463.29 L472.80,462.23 L473.10,461.44 L473.40,460.96 L473.70,460.80 L474.00,460.96 L474.30,461.44 L474.60,462.23 L474.90,463.29 L475.20,464.61 L475.50,466.14 L475.80,467.84 L476.10,469.67 L476.40,471.59 L476.70,473.55 L477.00,475.51 L477.30,477.43 L477.60,479.28 L477.90,481.04 L478.20,482.68 L478.50,484.19 L478.80,485.56 L479.10,486.79 L479.40,487.87 L479.70,488.82 L480.00,489.63 L480.30,490.32 L480.60,490.90 L480.90,491.38 L481.20,491.78 L481.50,492.10 L481.80,492.35 L482.10,492.56 L482.40,492.72 L482.70,492.84 L483.00,492.93 L483.30,493.01 Z" fill="#e07aa8" fill-opacity="0.62" stroke="#c0186a" stroke-width="0.85"/>
<path d="M451.50,443.00 C451.78,442.00 452.48,439.85 453.20,437.00 C453.92,434.15 454.92,428.75 455.80,425.90 C456.68,423.05 457.78,421.18 458.50,419.90 C459.22,418.62 459.43,417.87 460.10,418.20 C460.77,418.53 461.78,419.73 462.50,421.90 C463.22,424.07 463.63,427.67 464.40,431.20 C465.17,434.73 466.22,440.02 467.10,443.10 C467.98,446.18 468.82,448.17 469.70,449.70 C470.58,451.23 471.95,451.87 472.40,452.30" fill="none" stroke="#8cbc50" stroke-width="1.1"/>
<path d="M439.30,493.30 C439.85,492.32 441.50,489.27 442.60,487.40 C443.70,485.53 445.02,484.42 445.90,482.10 C446.78,479.78 447.35,477.13 447.90,473.50 C448.45,469.87 448.75,464.93 449.20,460.30 C449.65,455.67 450.05,448.80 450.60,445.70 C451.15,442.60 451.73,443.02 452.50,441.70 C453.27,440.38 454.42,439.23 455.20,437.80 C455.98,436.37 456.60,434.65 457.20,433.10 C457.80,431.55 458.25,428.38 458.80,428.50 C459.35,428.62 459.78,432.47 460.50,433.80 C461.22,435.13 462.22,434.95 463.10,436.50 C463.98,438.05 465.03,440.47 465.80,443.10 C466.57,445.73 467.05,450.32 467.70,452.30 C468.35,454.28 469.13,454.88 469.70,455.00 C470.27,455.12 470.55,453.45 471.10,453.00 C471.65,452.55 472.23,451.08 473.00,452.30 C473.77,453.52 474.82,457.22 475.70,460.30 C476.58,463.38 477.53,466.83 478.30,470.80 C479.07,474.77 479.63,480.57 480.30,484.10 C480.97,487.63 481.68,490.47 482.30,492.00 C482.92,493.53 483.72,493.08 484.00,493.30" fill="none" stroke="#2e4a78" stroke-width="1.25" stroke-linejoin="round"/>
<rect x="423.1" y="403.1" width="89.79999999999995" height="90.39999999999998" fill="none" stroke="#111" stroke-width="1.3"/>
<line x1="421.40" y1="493.50" x2="423.10" y2="493.50" stroke="#222" stroke-width="0.8"/>
<line x1="421.40" y1="487.47" x2="423.10" y2="487.47" stroke="#222" stroke-width="0.8"/>
<line x1="421.40" y1="481.45" x2="423.10" y2="481.45" stroke="#222" stroke-width="0.8"/>
<line x1="421.40" y1="475.42" x2="423.10" y2="475.42" stroke="#222" stroke-width="0.8"/>
<line x1="421.40" y1="469.39" x2="423.10" y2="469.39" stroke="#222" stroke-width="0.8"/>
<line x1="421.40" y1="463.37" x2="423.10" y2="463.37" stroke="#222" stroke-width="0.8"/>
<line x1="421.40" y1="457.34" x2="423.10" y2="457.34" stroke="#222" stroke-width="0.8"/>
<line x1="421.40" y1="451.31" x2="423.10" y2="451.31" stroke="#222" stroke-width="0.8"/>
<line x1="421.40" y1="445.29" x2="423.10" y2="445.29" stroke="#222" stroke-width="0.8"/>
<line x1="421.40" y1="439.26" x2="423.10" y2="439.26" stroke="#222" stroke-width="0.8"/>
<line x1="421.40" y1="433.23" x2="423.10" y2="433.23" stroke="#222" stroke-width="0.8"/>
<line x1="421.40" y1="427.21" x2="423.10" y2="427.21" stroke="#222" stroke-width="0.8"/>
<line x1="421.40" y1="421.18" x2="423.10" y2="421.18" stroke="#222" stroke-width="0.8"/>
<line x1="421.40" y1="415.15" x2="423.10" y2="415.15" stroke="#222" stroke-width="0.8"/>
<line x1="421.40" y1="409.13" x2="423.10" y2="409.13" stroke="#222" stroke-width="0.8"/>
<line x1="421.40" y1="403.10" x2="423.10" y2="403.10" stroke="#222" stroke-width="0.8"/>
<line x1="419.90" y1="493.50" x2="423.10" y2="493.50" stroke="#222" stroke-width="1.1"/>
<text x="417.70" y="496.40" font-size="8.4" text-anchor="end" fill="#333" textLength="4.9" lengthAdjust="spacingAndGlyphs">0</text>
<line x1="419.90" y1="463.37" x2="423.10" y2="463.37" stroke="#222" stroke-width="1.1"/>
<text x="417.70" y="466.27" font-size="8.4" text-anchor="end" fill="#333" textLength="9.8" lengthAdjust="spacingAndGlyphs">10</text>
<line x1="419.90" y1="433.23" x2="423.10" y2="433.23" stroke="#222" stroke-width="1.1"/>
<text x="417.70" y="436.13" font-size="8.4" text-anchor="end" fill="#333" textLength="9.8" lengthAdjust="spacingAndGlyphs">20</text>
<line x1="419.90" y1="403.10" x2="423.10" y2="403.10" stroke="#222" stroke-width="1.1"/>
<text x="417.70" y="406.00" font-size="8.4" text-anchor="end" fill="#333" textLength="9.8" lengthAdjust="spacingAndGlyphs">30</text>
<line x1="426.10" y1="493.50" x2="426.10" y2="496.50" stroke="#222" stroke-width="0.85"/>
<line x1="431.97" y1="493.50" x2="431.97" y2="495.60" stroke="#222" stroke-width="0.85"/>
<line x1="435.40" y1="493.50" x2="435.40" y2="495.60" stroke="#222" stroke-width="0.85"/>
<line x1="437.83" y1="493.50" x2="437.83" y2="495.60" stroke="#222" stroke-width="0.85"/>
<line x1="439.72" y1="493.50" x2="439.72" y2="495.60" stroke="#222" stroke-width="0.85"/>
<line x1="441.26" y1="493.50" x2="441.26" y2="495.60" stroke="#222" stroke-width="0.85"/>
<line x1="442.57" y1="493.50" x2="442.57" y2="495.60" stroke="#222" stroke-width="0.85"/>
<line x1="443.70" y1="493.50" x2="443.70" y2="495.60" stroke="#222" stroke-width="0.85"/>
<line x1="444.70" y1="493.50" x2="444.70" y2="495.60" stroke="#222" stroke-width="0.85"/>
<line x1="445.59" y1="493.50" x2="445.59" y2="496.50" stroke="#222" stroke-width="0.85"/>
<line x1="451.45" y1="493.50" x2="451.45" y2="495.60" stroke="#222" stroke-width="0.85"/>
<line x1="454.89" y1="493.50" x2="454.89" y2="495.60" stroke="#222" stroke-width="0.85"/>
<line x1="457.32" y1="493.50" x2="457.32" y2="495.60" stroke="#222" stroke-width="0.85"/>
<line x1="459.21" y1="493.50" x2="459.21" y2="495.60" stroke="#222" stroke-width="0.85"/>
<line x1="460.75" y1="493.50" x2="460.75" y2="495.60" stroke="#222" stroke-width="0.85"/>
<line x1="462.06" y1="493.50" x2="462.06" y2="495.60" stroke="#222" stroke-width="0.85"/>
<line x1="463.19" y1="493.50" x2="463.19" y2="495.60" stroke="#222" stroke-width="0.85"/>
<line x1="464.19" y1="493.50" x2="464.19" y2="495.60" stroke="#222" stroke-width="0.85"/>
<line x1="465.08" y1="493.50" x2="465.08" y2="496.50" stroke="#222" stroke-width="0.85"/>
<line x1="470.94" y1="493.50" x2="470.94" y2="495.60" stroke="#222" stroke-width="0.85"/>
<line x1="474.38" y1="493.50" x2="474.38" y2="495.60" stroke="#222" stroke-width="0.85"/>
<line x1="476.81" y1="493.50" x2="476.81" y2="495.60" stroke="#222" stroke-width="0.85"/>
<line x1="478.70" y1="493.50" x2="478.70" y2="495.60" stroke="#222" stroke-width="0.85"/>
<line x1="480.24" y1="493.50" x2="480.24" y2="495.60" stroke="#222" stroke-width="0.85"/>
<line x1="481.55" y1="493.50" x2="481.55" y2="495.60" stroke="#222" stroke-width="0.85"/>
<line x1="482.68" y1="493.50" x2="482.68" y2="495.60" stroke="#222" stroke-width="0.85"/>
<line x1="483.67" y1="493.50" x2="483.67" y2="495.60" stroke="#222" stroke-width="0.85"/>
<line x1="484.57" y1="493.50" x2="484.57" y2="496.50" stroke="#222" stroke-width="0.85"/>
<line x1="490.43" y1="493.50" x2="490.43" y2="495.60" stroke="#222" stroke-width="0.85"/>
<line x1="493.86" y1="493.50" x2="493.86" y2="495.60" stroke="#222" stroke-width="0.85"/>
<line x1="496.30" y1="493.50" x2="496.30" y2="495.60" stroke="#222" stroke-width="0.85"/>
<line x1="498.19" y1="493.50" x2="498.19" y2="495.60" stroke="#222" stroke-width="0.85"/>
<line x1="499.73" y1="493.50" x2="499.73" y2="495.60" stroke="#222" stroke-width="0.85"/>
<line x1="501.03" y1="493.50" x2="501.03" y2="495.60" stroke="#222" stroke-width="0.85"/>
<line x1="502.16" y1="493.50" x2="502.16" y2="495.60" stroke="#222" stroke-width="0.85"/>
<line x1="503.16" y1="493.50" x2="503.16" y2="495.60" stroke="#222" stroke-width="0.85"/>
<line x1="504.05" y1="493.50" x2="504.05" y2="496.50" stroke="#222" stroke-width="0.85"/>
<line x1="509.92" y1="493.50" x2="509.92" y2="495.60" stroke="#222" stroke-width="0.85"/>
<text x="429.00" y="415.60" font-size="8.3" text-anchor="start" fill="#333" font-style="italic" textLength="54.7" lengthAdjust="spacingAndGlyphs">Cd44<tspan font-style="normal">&#916;</tspan>B<tspan font-style="normal"> Tcl1-tg</tspan></text>
<path d="M328.94,596.24 L329.24,596.21 L329.54,596.17 L329.84,596.12 L330.14,596.04 L330.44,595.93 L330.74,595.79 L331.04,595.60 L331.34,595.37 L331.64,595.08 L331.94,594.72 L332.24,594.30 L332.54,593.80 L332.84,593.24 L333.14,592.60 L333.44,591.92 L333.74,591.19 L334.04,590.44 L334.34,589.69 L334.64,588.98 L334.94,588.32 L335.24,587.76 L335.54,587.30 L335.84,586.99 L336.14,586.82 L336.44,586.82 L336.74,586.97 L337.04,587.28 L337.34,587.72 L337.64,588.28 L337.94,588.93 L338.24,589.64 L338.54,590.39 L338.84,591.14 L339.14,591.87 L339.44,592.56 L339.74,593.20 L340.04,593.77 L340.34,594.27 L340.64,594.70 L340.94,595.06 L341.24,595.35 L341.54,595.59 L341.84,595.78 L342.14,595.92 L342.44,596.03 L342.74,596.11 L343.04,596.17 L343.34,596.21 L343.64,596.24 Z" fill="#e8409c" fill-opacity="0.62" stroke="#c0186a" stroke-width="0.85"/>
<path d="M333.64,596.23 L333.94,596.19 L334.24,596.14 L334.54,596.07 L334.84,595.97 L335.14,595.83 L335.44,595.65 L335.74,595.42 L336.04,595.13 L336.34,594.76 L336.64,594.31 L336.94,593.77 L337.24,593.15 L337.54,592.43 L337.84,591.63 L338.14,590.76 L338.44,589.84 L338.74,588.90 L339.04,587.95 L339.34,587.05 L339.64,586.22 L339.94,585.51 L340.24,584.94 L340.54,584.54 L340.84,584.33 L341.14,584.32 L341.44,584.52 L341.74,584.91 L342.04,585.47 L342.34,586.17 L342.64,586.99 L342.94,587.89 L343.24,588.83 L343.54,589.78 L343.84,590.70 L344.14,591.57 L344.44,592.38 L344.74,593.10 L345.04,593.73 L345.34,594.28 L345.64,594.73 L345.94,595.10 L346.24,595.40 L346.54,595.64 L346.84,595.82 L347.14,595.96 L347.44,596.06 L347.74,596.14 L348.04,596.19 L348.34,596.23 Z" fill="#e8409c" fill-opacity="0.62" stroke="#c0186a" stroke-width="0.85"/>
<path d="M338.64,596.19 L338.94,596.13 L339.24,596.05 L339.54,595.93 L339.84,595.77 L340.14,595.56 L340.44,595.28 L340.74,594.91 L341.04,594.44 L341.34,593.86 L341.64,593.15 L341.94,592.30 L342.24,591.31 L342.54,590.17 L342.84,588.91 L343.14,587.53 L343.44,586.07 L343.74,584.58 L344.04,583.09 L344.34,581.66 L344.64,580.35 L344.94,579.21 L345.24,578.31 L345.54,577.68 L345.84,577.35 L346.14,577.34 L346.44,577.64 L346.74,578.26 L347.04,579.15 L347.34,580.27 L347.64,581.57 L347.94,582.99 L348.24,584.48 L348.54,585.97 L348.84,587.44 L349.14,588.82 L349.44,590.09 L349.74,591.23 L350.04,592.24 L350.34,593.10 L350.64,593.82 L350.94,594.41 L351.24,594.88 L351.54,595.26 L351.84,595.54 L352.14,595.76 L352.44,595.92 L352.74,596.04 L353.04,596.12 L353.34,596.18 Z" fill="#e8409c" fill-opacity="0.62" stroke="#c0186a" stroke-width="0.85"/>
<path d="M343.78,596.04 L344.08,595.91 L344.38,595.72 L344.68,595.47 L344.98,595.12 L345.28,594.65 L345.58,594.03 L345.88,593.22 L346.18,592.20 L346.48,590.93 L346.78,589.38 L347.08,587.53 L347.38,585.35 L347.68,582.87 L347.98,580.08 L348.28,577.03 L348.58,573.78 L348.88,570.41 L349.18,567.01 L349.48,563.70 L349.78,560.61 L350.08,557.85 L350.38,555.55 L350.68,553.80 L350.98,552.71 L351.28,552.30 L351.58,552.61 L351.88,553.62 L352.18,555.28 L352.48,557.51 L352.78,560.22 L353.08,563.27 L353.38,566.56 L353.68,569.95 L353.98,573.34 L354.28,576.61 L354.58,579.69 L354.88,582.51 L355.18,585.04 L355.48,587.25 L355.78,589.15 L356.08,590.74 L356.38,592.05 L356.68,593.10 L356.98,593.93 L357.28,594.57 L357.58,595.06 L357.88,595.43 L358.18,595.69 L358.48,595.89 L358.78,596.02 Z" fill="#e8409c" fill-opacity="0.62" stroke="#c0186a" stroke-width="0.85"/>
<path d="M349.94,595.95 L350.24,595.77 L350.54,595.51 L350.84,595.16 L351.14,594.67 L351.44,594.00 L351.74,593.12 L352.04,591.98 L352.34,590.53 L352.64,588.72 L352.94,586.52 L353.24,583.88 L353.54,580.79 L353.84,577.27 L354.14,573.34 L354.44,569.07 L354.74,564.54 L355.04,559.89 L355.34,555.26 L355.64,550.83 L355.94,546.76 L356.24,543.24 L356.54,540.43 L356.84,538.47 L357.14,537.44 L357.44,537.41 L357.74,538.37 L358.04,540.28 L358.34,543.03 L358.64,546.51 L358.94,550.54 L359.24,554.96 L359.54,559.58 L359.84,564.24 L360.14,568.77 L360.44,573.07 L360.74,577.02 L361.04,580.57 L361.34,583.69 L361.64,586.35 L361.94,588.59 L362.24,590.42 L362.54,591.90 L362.84,593.06 L363.14,593.95 L363.44,594.63 L363.74,595.13 L364.04,595.49 L364.34,595.75 L364.64,595.94 Z" fill="#e8409c" fill-opacity="0.62" stroke="#c0186a" stroke-width="0.85"/>
<path d="M355.90,595.91 L356.20,595.71 L356.50,595.42 L356.80,595.01 L357.10,594.44 L357.40,593.67 L357.70,592.65 L358.00,591.32 L358.30,589.62 L358.60,587.50 L358.90,584.92 L359.20,581.83 L359.50,578.23 L359.80,574.13 L360.10,569.58 L360.40,564.66 L360.70,559.50 L361.00,554.25 L361.30,549.10 L361.60,544.25 L361.90,539.92 L362.20,536.30 L362.50,533.57 L362.80,531.88 L363.10,531.30 L363.40,531.88 L363.70,533.57 L364.00,536.30 L364.30,539.92 L364.60,544.25 L364.90,549.10 L365.20,554.25 L365.50,559.50 L365.80,564.66 L366.10,569.58 L366.40,574.13 L366.70,578.23 L367.00,581.83 L367.30,584.92 L367.60,587.50 L367.90,589.62 L368.20,591.32 L368.50,592.65 L368.80,593.67 L369.10,594.44 L369.40,595.01 L369.70,595.42 L370.00,595.71 L370.30,595.91 Z" fill="#e8409c" fill-opacity="0.62" stroke="#c0186a" stroke-width="0.85"/>
<path d="M360.72,596.13 L361.02,596.05 L361.32,595.94 L361.62,595.78 L361.92,595.57 L362.22,595.28 L362.52,594.91 L362.82,594.42 L363.12,593.81 L363.42,593.05 L363.72,592.12 L364.02,591.00 L364.32,589.70 L364.62,588.20 L364.92,586.51 L365.22,584.66 L365.52,582.67 L365.82,580.59 L366.12,578.47 L366.42,576.38 L366.72,574.38 L367.02,572.57 L367.32,571.00 L367.62,569.74 L367.92,568.85 L368.22,568.38 L368.52,568.33 L368.82,568.73 L369.12,569.53 L369.42,570.72 L369.72,572.23 L370.02,574.00 L370.32,575.97 L370.62,578.05 L370.92,580.17 L371.22,582.26 L371.52,584.27 L371.82,586.16 L372.12,587.88 L372.42,589.41 L372.72,590.76 L373.02,591.91 L373.32,592.88 L373.62,593.67 L373.92,594.31 L374.22,594.82 L374.52,595.22 L374.82,595.52 L375.12,595.74 L375.42,595.91 L375.72,596.03 L376.02,596.12 Z" fill="#e8409c" fill-opacity="0.62" stroke="#c0186a" stroke-width="0.85"/>
<path d="M365.82,596.23 L366.12,596.19 L366.42,596.15 L366.72,596.08 L367.02,595.99 L367.32,595.86 L367.62,595.70 L367.92,595.50 L368.22,595.23 L368.52,594.91 L368.82,594.51 L369.12,594.03 L369.42,593.47 L369.72,592.83 L370.02,592.11 L370.32,591.31 L370.62,590.46 L370.92,589.57 L371.22,588.66 L371.52,587.76 L371.82,586.91 L372.12,586.13 L372.42,585.46 L372.72,584.92 L373.02,584.54 L373.32,584.33 L373.62,584.31 L373.92,584.48 L374.22,584.83 L374.52,585.34 L374.82,585.98 L375.12,586.74 L375.42,587.59 L375.72,588.48 L376.02,589.39 L376.32,590.28 L376.62,591.15 L376.92,591.95 L377.22,592.69 L377.52,593.35 L377.82,593.93 L378.12,594.42 L378.42,594.83 L378.72,595.17 L379.02,595.45 L379.32,595.67 L379.62,595.84 L379.92,595.96 L380.22,596.06 L380.52,596.13 L380.82,596.19 L381.12,596.22 Z" fill="#e8409c" fill-opacity="0.62" stroke="#c0186a" stroke-width="0.85"/>
<path d="M370.14,596.28 L370.44,596.26 L370.74,596.25 L371.04,596.22 L371.34,596.19 L371.64,596.14 L371.94,596.08 L372.24,596.01 L372.54,595.91 L372.84,595.79 L373.14,595.64 L373.44,595.46 L373.74,595.25 L374.04,595.01 L374.34,594.74 L374.64,594.45 L374.94,594.15 L375.24,593.83 L375.54,593.52 L375.84,593.22 L376.14,592.94 L376.44,592.70 L376.74,592.51 L377.04,592.38 L377.34,592.31 L377.64,592.31 L377.94,592.37 L378.24,592.50 L378.54,592.69 L378.84,592.92 L379.14,593.20 L379.44,593.50 L379.74,593.81 L380.04,594.13 L380.34,594.43 L380.64,594.72 L380.94,594.99 L381.24,595.23 L381.54,595.44 L381.84,595.63 L382.14,595.78 L382.44,595.90 L382.74,596.00 L383.04,596.08 L383.34,596.14 L383.64,596.19 L383.94,596.22 L384.24,596.25 L384.54,596.26 L384.84,596.28 Z" fill="#e8409c" fill-opacity="0.62" stroke="#c0186a" stroke-width="0.85"/>
<path d="M330.00,596.30 C330.42,595.67 331.57,593.87 332.50,592.50 C333.43,591.13 334.55,589.35 335.60,588.10 C336.65,586.85 337.85,585.72 338.80,585.00 C339.75,584.28 340.47,584.73 341.30,583.80 C342.13,582.87 343.08,580.65 343.80,579.40 C344.52,578.15 344.98,576.93 345.60,576.30 C346.22,575.67 346.87,577.68 347.50,575.60 C348.13,573.52 348.77,568.07 349.40,563.80 C350.03,559.53 350.68,551.25 351.30,550.00 C351.92,548.75 352.48,556.72 353.10,556.30 C353.72,555.88 354.30,551.15 355.00,547.50 C355.70,543.85 356.55,534.65 357.30,534.40 C358.05,534.15 358.88,544.07 359.50,546.00 C360.12,547.93 360.40,548.98 361.00,546.00 C361.60,543.02 362.43,528.68 363.10,528.10 C363.77,527.52 364.37,536.35 365.00,542.50 C365.63,548.65 366.27,560.83 366.90,565.00 C367.53,569.17 368.18,565.83 368.80,567.50 C369.42,569.17 369.88,571.87 370.60,575.00 C371.32,578.13 372.37,584.12 373.10,586.30 C373.83,588.48 374.27,587.07 375.00,588.10 C375.73,589.13 376.67,591.25 377.50,592.50 C378.33,593.75 378.95,594.98 380.00,595.60 C381.05,596.22 383.17,596.10 383.80,596.20" fill="none" stroke="#2e4a78" stroke-width="1.25" stroke-linejoin="round"/>
<rect x="308" y="507.8" width="88.89999999999998" height="89.69999999999999" fill="none" stroke="#111" stroke-width="1.3"/>
<line x1="306.30" y1="597.50" x2="308.00" y2="597.50" stroke="#222" stroke-width="0.8"/>
<line x1="306.30" y1="593.38" x2="308.00" y2="593.38" stroke="#222" stroke-width="0.8"/>
<line x1="306.30" y1="589.27" x2="308.00" y2="589.27" stroke="#222" stroke-width="0.8"/>
<line x1="306.30" y1="585.15" x2="308.00" y2="585.15" stroke="#222" stroke-width="0.8"/>
<line x1="306.30" y1="581.04" x2="308.00" y2="581.04" stroke="#222" stroke-width="0.8"/>
<line x1="306.30" y1="576.92" x2="308.00" y2="576.92" stroke="#222" stroke-width="0.8"/>
<line x1="306.30" y1="572.81" x2="308.00" y2="572.81" stroke="#222" stroke-width="0.8"/>
<line x1="306.30" y1="568.70" x2="308.00" y2="568.70" stroke="#222" stroke-width="0.8"/>
<line x1="306.30" y1="564.58" x2="308.00" y2="564.58" stroke="#222" stroke-width="0.8"/>
<line x1="306.30" y1="560.47" x2="308.00" y2="560.47" stroke="#222" stroke-width="0.8"/>
<line x1="306.30" y1="556.35" x2="308.00" y2="556.35" stroke="#222" stroke-width="0.8"/>
<line x1="306.30" y1="552.24" x2="308.00" y2="552.24" stroke="#222" stroke-width="0.8"/>
<line x1="306.30" y1="548.12" x2="308.00" y2="548.12" stroke="#222" stroke-width="0.8"/>
<line x1="306.30" y1="544.00" x2="308.00" y2="544.00" stroke="#222" stroke-width="0.8"/>
<line x1="306.30" y1="539.89" x2="308.00" y2="539.89" stroke="#222" stroke-width="0.8"/>
<line x1="306.30" y1="535.78" x2="308.00" y2="535.78" stroke="#222" stroke-width="0.8"/>
<line x1="306.30" y1="531.66" x2="308.00" y2="531.66" stroke="#222" stroke-width="0.8"/>
<line x1="306.30" y1="527.55" x2="308.00" y2="527.55" stroke="#222" stroke-width="0.8"/>
<line x1="306.30" y1="523.43" x2="308.00" y2="523.43" stroke="#222" stroke-width="0.8"/>
<line x1="306.30" y1="519.32" x2="308.00" y2="519.32" stroke="#222" stroke-width="0.8"/>
<line x1="306.30" y1="515.20" x2="308.00" y2="515.20" stroke="#222" stroke-width="0.8"/>
<line x1="304.80" y1="597.50" x2="308.00" y2="597.50" stroke="#222" stroke-width="1.1"/>
<text x="302.60" y="600.40" font-size="8.4" text-anchor="end" fill="#333" textLength="4.9" lengthAdjust="spacingAndGlyphs">0</text>
<line x1="304.80" y1="581.04" x2="308.00" y2="581.04" stroke="#222" stroke-width="1.1"/>
<text x="302.60" y="583.94" font-size="8.4" text-anchor="end" fill="#333" textLength="4.9" lengthAdjust="spacingAndGlyphs">2</text>
<line x1="304.80" y1="564.58" x2="308.00" y2="564.58" stroke="#222" stroke-width="1.1"/>
<text x="302.60" y="567.48" font-size="8.4" text-anchor="end" fill="#333" textLength="4.9" lengthAdjust="spacingAndGlyphs">4</text>
<line x1="304.80" y1="548.12" x2="308.00" y2="548.12" stroke="#222" stroke-width="1.1"/>
<text x="302.60" y="551.02" font-size="8.4" text-anchor="end" fill="#333" textLength="4.9" lengthAdjust="spacingAndGlyphs">6</text>
<line x1="304.80" y1="531.66" x2="308.00" y2="531.66" stroke="#222" stroke-width="1.1"/>
<text x="302.60" y="534.56" font-size="8.4" text-anchor="end" fill="#333" textLength="4.9" lengthAdjust="spacingAndGlyphs">8</text>
<line x1="304.80" y1="515.20" x2="308.00" y2="515.20" stroke="#222" stroke-width="1.1"/>
<text x="302.60" y="518.10" font-size="8.4" text-anchor="end" fill="#333" textLength="9.8" lengthAdjust="spacingAndGlyphs">10</text>
<line x1="311.00" y1="597.50" x2="311.00" y2="600.50" stroke="#222" stroke-width="0.85"/>
<line x1="316.80" y1="597.50" x2="316.80" y2="599.60" stroke="#222" stroke-width="0.85"/>
<line x1="320.20" y1="597.50" x2="320.20" y2="599.60" stroke="#222" stroke-width="0.85"/>
<line x1="322.61" y1="597.50" x2="322.61" y2="599.60" stroke="#222" stroke-width="0.85"/>
<line x1="324.48" y1="597.50" x2="324.48" y2="599.60" stroke="#222" stroke-width="0.85"/>
<line x1="326.00" y1="597.50" x2="326.00" y2="599.60" stroke="#222" stroke-width="0.85"/>
<line x1="327.29" y1="597.50" x2="327.29" y2="599.60" stroke="#222" stroke-width="0.85"/>
<line x1="328.41" y1="597.50" x2="328.41" y2="599.60" stroke="#222" stroke-width="0.85"/>
<line x1="329.40" y1="597.50" x2="329.40" y2="599.60" stroke="#222" stroke-width="0.85"/>
<line x1="330.28" y1="597.50" x2="330.28" y2="600.50" stroke="#222" stroke-width="0.85"/>
<line x1="336.08" y1="597.50" x2="336.08" y2="599.60" stroke="#222" stroke-width="0.85"/>
<line x1="339.48" y1="597.50" x2="339.48" y2="599.60" stroke="#222" stroke-width="0.85"/>
<line x1="341.89" y1="597.50" x2="341.89" y2="599.60" stroke="#222" stroke-width="0.85"/>
<line x1="343.75" y1="597.50" x2="343.75" y2="599.60" stroke="#222" stroke-width="0.85"/>
<line x1="345.28" y1="597.50" x2="345.28" y2="599.60" stroke="#222" stroke-width="0.85"/>
<line x1="346.57" y1="597.50" x2="346.57" y2="599.60" stroke="#222" stroke-width="0.85"/>
<line x1="347.69" y1="597.50" x2="347.69" y2="599.60" stroke="#222" stroke-width="0.85"/>
<line x1="348.68" y1="597.50" x2="348.68" y2="599.60" stroke="#222" stroke-width="0.85"/>
<line x1="349.56" y1="597.50" x2="349.56" y2="600.50" stroke="#222" stroke-width="0.85"/>
<line x1="355.36" y1="597.50" x2="355.36" y2="599.60" stroke="#222" stroke-width="0.85"/>
<line x1="358.76" y1="597.50" x2="358.76" y2="599.60" stroke="#222" stroke-width="0.85"/>
<line x1="361.17" y1="597.50" x2="361.17" y2="599.60" stroke="#222" stroke-width="0.85"/>
<line x1="363.03" y1="597.50" x2="363.03" y2="599.60" stroke="#222" stroke-width="0.85"/>
<line x1="364.56" y1="597.50" x2="364.56" y2="599.60" stroke="#222" stroke-width="0.85"/>
<line x1="365.85" y1="597.50" x2="365.85" y2="599.60" stroke="#222" stroke-width="0.85"/>
<line x1="366.97" y1="597.50" x2="366.97" y2="599.60" stroke="#222" stroke-width="0.85"/>
<line x1="367.96" y1="597.50" x2="367.96" y2="599.60" stroke="#222" stroke-width="0.85"/>
<line x1="368.84" y1="597.50" x2="368.84" y2="600.50" stroke="#222" stroke-width="0.85"/>
<line x1="374.64" y1="597.50" x2="374.64" y2="599.60" stroke="#222" stroke-width="0.85"/>
<line x1="378.04" y1="597.50" x2="378.04" y2="599.60" stroke="#222" stroke-width="0.85"/>
<line x1="380.44" y1="597.50" x2="380.44" y2="599.60" stroke="#222" stroke-width="0.85"/>
<line x1="382.31" y1="597.50" x2="382.31" y2="599.60" stroke="#222" stroke-width="0.85"/>
<line x1="383.84" y1="597.50" x2="383.84" y2="599.60" stroke="#222" stroke-width="0.85"/>
<line x1="385.13" y1="597.50" x2="385.13" y2="599.60" stroke="#222" stroke-width="0.85"/>
<line x1="386.25" y1="597.50" x2="386.25" y2="599.60" stroke="#222" stroke-width="0.85"/>
<line x1="387.23" y1="597.50" x2="387.23" y2="599.60" stroke="#222" stroke-width="0.85"/>
<line x1="388.12" y1="597.50" x2="388.12" y2="600.50" stroke="#222" stroke-width="0.85"/>
<line x1="393.92" y1="597.50" x2="393.92" y2="599.60" stroke="#222" stroke-width="0.85"/>
<text x="313.30" y="519.70" font-size="8.3" text-anchor="start" fill="#333" textLength="23.3" lengthAdjust="spacingAndGlyphs">Tcl1-tg</text>
<path d="M433.12,596.08 L433.42,596.06 L433.72,596.05 L434.02,596.03 L434.32,596.00 L434.62,595.95 L434.92,595.90 L435.22,595.83 L435.52,595.74 L435.82,595.64 L436.12,595.50 L436.42,595.34 L436.72,595.16 L437.02,594.94 L437.32,594.70 L437.62,594.44 L437.92,594.15 L438.22,593.86 L438.52,593.55 L438.82,593.25 L439.12,592.97 L439.42,592.71 L439.72,592.49 L440.02,592.31 L440.32,592.18 L440.62,592.11 L440.92,592.10 L441.22,592.16 L441.52,592.28 L441.82,592.45 L442.12,592.66 L442.42,592.91 L442.72,593.20 L443.02,593.49 L443.32,593.80 L443.62,594.09 L443.92,594.38 L444.22,594.65 L444.52,594.90 L444.82,595.12 L445.12,595.31 L445.42,595.47 L445.72,595.61 L446.02,595.72 L446.32,595.82 L446.62,595.89 L446.92,595.95 L447.22,595.99 L447.52,596.02 L447.82,596.04 L448.12,596.06 L448.42,596.07 Z" fill="#e8409c" fill-opacity="0.62" stroke="#c0186a" stroke-width="0.85"/>
<path d="M437.68,596.01 L437.98,595.98 L438.28,595.92 L438.58,595.85 L438.88,595.76 L439.18,595.64 L439.48,595.48 L439.78,595.27 L440.08,595.01 L440.38,594.70 L440.68,594.31 L440.98,593.85 L441.28,593.31 L441.58,592.68 L441.88,591.97 L442.18,591.17 L442.48,590.30 L442.78,589.37 L443.08,588.38 L443.38,587.37 L443.68,586.36 L443.98,585.38 L444.28,584.45 L444.58,583.61 L444.88,582.88 L445.18,582.30 L445.48,581.89 L445.78,581.65 L446.08,581.61 L446.38,581.75 L446.68,582.09 L446.98,582.59 L447.28,583.25 L447.58,584.04 L447.88,584.94 L448.18,585.90 L448.48,586.90 L448.78,587.91 L449.08,588.91 L449.38,589.87 L449.68,590.77 L449.98,591.61 L450.28,592.36 L450.58,593.03 L450.88,593.61 L451.18,594.11 L451.48,594.53 L451.78,594.87 L452.08,595.16 L452.38,595.39 L452.68,595.57 L452.98,595.71 L453.28,595.81 L453.58,595.89 L453.88,595.95 L454.18,596.00 Z" fill="#e8409c" fill-opacity="0.62" stroke="#c0186a" stroke-width="0.85"/>
<path d="M443.58,595.96 L443.88,595.90 L444.18,595.82 L444.48,595.71 L444.78,595.56 L445.08,595.36 L445.38,595.11 L445.68,594.78 L445.98,594.38 L446.28,593.88 L446.58,593.26 L446.88,592.53 L447.18,591.67 L447.48,590.68 L447.78,589.55 L448.08,588.28 L448.38,586.90 L448.68,585.42 L448.98,583.86 L449.28,582.26 L449.58,580.65 L449.88,579.09 L450.18,577.62 L450.48,576.29 L450.78,575.14 L451.08,574.22 L451.38,573.56 L451.68,573.18 L451.98,573.11 L452.28,573.34 L452.58,573.87 L452.88,574.68 L453.18,575.72 L453.48,576.98 L453.78,578.39 L454.08,579.92 L454.38,581.51 L454.68,583.11 L454.98,584.70 L455.28,586.22 L455.58,587.65 L455.88,588.97 L456.18,590.17 L456.48,591.23 L456.78,592.15 L457.08,592.94 L457.38,593.60 L457.68,594.16 L457.98,594.61 L458.28,594.97 L458.58,595.25 L458.88,595.47 L459.18,595.64 L459.48,595.77 L459.78,595.87 L460.08,595.94 Z" fill="#e8409c" fill-opacity="0.62" stroke="#c0186a" stroke-width="0.85"/>
<path d="M448.98,595.83 L449.28,595.70 L449.58,595.54 L449.88,595.32 L450.18,595.02 L450.48,594.63 L450.78,594.12 L451.08,593.47 L451.38,592.66 L451.68,591.65 L451.98,590.43 L452.28,588.97 L452.58,587.25 L452.88,585.26 L453.18,582.99 L453.48,580.47 L453.78,577.70 L454.08,574.74 L454.38,571.62 L454.68,568.41 L454.98,565.21 L455.28,562.08 L455.58,559.14 L455.88,556.47 L456.18,554.18 L456.48,552.33 L456.78,551.01 L457.08,550.26 L457.38,550.12 L457.68,550.59 L457.98,551.65 L458.28,553.25 L458.58,555.35 L458.88,557.86 L459.18,560.68 L459.48,563.73 L459.78,566.91 L460.08,570.13 L460.38,573.29 L460.68,576.34 L460.98,579.21 L461.28,581.85 L461.58,584.23 L461.88,586.35 L462.18,588.20 L462.48,589.78 L462.78,591.11 L463.08,592.21 L463.38,593.11 L463.68,593.83 L463.98,594.40 L464.28,594.85 L464.58,595.19 L464.88,595.44 L465.18,595.63 L465.48,595.77 Z" fill="#e8409c" fill-opacity="0.62" stroke="#c0186a" stroke-width="0.85"/>
<path d="M454.28,595.81 L454.58,595.69 L454.88,595.52 L455.18,595.28 L455.48,594.97 L455.78,594.56 L456.08,594.03 L456.38,593.36 L456.68,592.51 L456.98,591.46 L457.28,590.18 L457.58,588.66 L457.88,586.86 L458.18,584.78 L458.48,582.42 L458.78,579.79 L459.08,576.90 L459.38,573.81 L459.68,570.55 L459.98,567.21 L460.28,563.86 L460.58,560.60 L460.88,557.53 L461.18,554.75 L461.48,552.35 L461.78,550.43 L462.08,549.05 L462.38,548.27 L462.68,548.12 L462.98,548.61 L463.28,549.71 L463.58,551.39 L463.88,553.58 L464.18,556.19 L464.48,559.14 L464.78,562.33 L465.08,565.64 L465.38,569.00 L465.68,572.30 L465.98,575.48 L466.28,578.47 L466.58,581.23 L466.88,583.72 L467.18,585.93 L467.48,587.85 L467.78,589.50 L468.08,590.89 L468.38,592.04 L468.68,592.98 L468.98,593.74 L469.28,594.33 L469.58,594.79 L469.88,595.15 L470.18,595.42 L470.48,595.61 L470.78,595.76 Z" fill="#e8409c" fill-opacity="0.62" stroke="#c0186a" stroke-width="0.85"/>
<path d="M460.28,595.90 L460.58,595.81 L460.88,595.69 L461.18,595.53 L461.48,595.31 L461.78,595.03 L462.08,594.66 L462.38,594.18 L462.68,593.59 L462.98,592.86 L463.28,591.97 L463.58,590.91 L463.88,589.65 L464.18,588.20 L464.48,586.55 L464.78,584.72 L465.08,582.70 L465.38,580.54 L465.68,578.27 L465.98,575.94 L466.28,573.60 L466.58,571.33 L466.88,569.18 L467.18,567.24 L467.48,565.57 L467.78,564.23 L468.08,563.26 L468.38,562.72 L468.68,562.62 L468.98,562.96 L469.28,563.73 L469.58,564.90 L469.88,566.42 L470.18,568.25 L470.48,570.31 L470.78,572.53 L471.08,574.84 L471.38,577.19 L471.68,579.49 L471.98,581.71 L472.28,583.80 L472.58,585.72 L472.88,587.46 L473.18,589.00 L473.48,590.34 L473.78,591.50 L474.08,592.47 L474.38,593.27 L474.68,593.92 L474.98,594.45 L475.28,594.86 L475.58,595.19 L475.88,595.44 L476.18,595.62 L476.48,595.76 L476.78,595.86 Z" fill="#e8409c" fill-opacity="0.62" stroke="#c0186a" stroke-width="0.85"/>
<path d="M465.86,595.94 L466.16,595.87 L466.46,595.78 L466.76,595.66 L467.06,595.50 L467.36,595.28 L467.66,595.01 L467.96,594.67 L468.26,594.24 L468.56,593.71 L468.86,593.06 L469.16,592.29 L469.46,591.39 L469.76,590.34 L470.06,589.14 L470.36,587.80 L470.66,586.32 L470.96,584.71 L471.26,583.01 L471.56,581.23 L471.86,579.42 L472.16,577.62 L472.46,575.88 L472.76,574.24 L473.06,572.77 L473.36,571.49 L473.66,570.47 L473.96,569.73 L474.26,569.31 L474.56,569.21 L474.86,569.44 L475.16,569.99 L475.46,570.85 L475.76,571.98 L476.06,573.34 L476.36,574.88 L476.66,576.57 L476.96,578.34 L477.26,580.15 L477.56,581.95 L477.86,583.70 L478.16,585.37 L478.46,586.92 L478.76,588.35 L479.06,589.64 L479.36,590.78 L479.66,591.77 L479.96,592.62 L480.26,593.34 L480.56,593.93 L480.86,594.42 L481.16,594.82 L481.46,595.13 L481.76,595.38 L482.06,595.57 L482.36,595.71 L482.66,595.82 L482.96,595.90 Z" fill="#e07aa8" fill-opacity="0.62" stroke="#c0186a" stroke-width="0.85"/>
<path d="M442.30,591.90 C442.83,590.65 444.62,587.08 445.50,584.40 C446.38,581.72 446.98,578.13 447.60,575.80 C448.22,573.47 448.57,572.38 449.20,570.40 C449.83,568.42 450.77,566.05 451.40,563.90 C452.03,561.75 452.47,559.82 453.00,557.50 C453.53,555.18 454.15,552.52 454.60,550.00 C455.05,547.48 455.25,544.12 455.70,542.40 C456.15,540.68 456.77,539.70 457.30,539.70 C457.83,539.70 458.37,542.57 458.90,542.40 C459.43,542.23 460.23,539.32 460.50,538.70" fill="none" stroke="#8cbc50" stroke-width="1.1"/>
<path d="M438.50,595.80 C439.22,595.05 441.55,593.30 442.80,591.30 C444.05,589.30 445.12,586.48 446.00,583.80 C446.88,581.12 447.48,577.53 448.10,575.20 C448.72,572.87 449.07,571.78 449.70,569.80 C450.33,567.82 451.27,565.45 451.90,563.30 C452.53,561.15 452.97,559.22 453.50,556.90 C454.03,554.58 454.65,551.92 455.10,549.40 C455.55,546.88 455.75,543.52 456.20,541.80 C456.65,540.08 457.27,539.10 457.80,539.10 C458.33,539.10 458.87,541.97 459.40,541.80 C459.93,541.63 460.47,538.37 461.00,538.10 C461.53,537.83 462.05,540.38 462.60,540.20 C463.15,540.02 463.75,536.02 464.30,537.00 C464.85,537.98 465.37,543.32 465.90,546.10 C466.43,548.88 466.88,551.55 467.50,553.70 C468.12,555.85 468.88,557.40 469.60,559.00 C470.32,560.60 470.98,562.22 471.80,563.30 C472.62,564.38 473.78,564.60 474.50,565.50 C475.22,566.40 475.65,566.55 476.10,568.70 C476.55,570.85 476.75,575.17 477.20,578.40 C477.65,581.63 478.27,585.42 478.80,588.10 C479.33,590.78 479.78,593.20 480.40,594.50 C481.02,595.80 482.15,595.67 482.50,595.90" fill="none" stroke="#2e4a78" stroke-width="1.25" stroke-linejoin="round"/>
<rect x="423.1" y="507.8" width="89.5" height="89.49999999999994" fill="none" stroke="#111" stroke-width="1.3"/>
<line x1="421.40" y1="597.30" x2="423.10" y2="597.30" stroke="#222" stroke-width="0.8"/>
<line x1="421.40" y1="593.82" x2="423.10" y2="593.82" stroke="#222" stroke-width="0.8"/>
<line x1="421.40" y1="590.35" x2="423.10" y2="590.35" stroke="#222" stroke-width="0.8"/>
<line x1="421.40" y1="586.87" x2="423.10" y2="586.87" stroke="#222" stroke-width="0.8"/>
<line x1="421.40" y1="583.40" x2="423.10" y2="583.40" stroke="#222" stroke-width="0.8"/>
<line x1="421.40" y1="579.92" x2="423.10" y2="579.92" stroke="#222" stroke-width="0.8"/>
<line x1="421.40" y1="576.44" x2="423.10" y2="576.44" stroke="#222" stroke-width="0.8"/>
<line x1="421.40" y1="572.97" x2="423.10" y2="572.97" stroke="#222" stroke-width="0.8"/>
<line x1="421.40" y1="569.49" x2="423.10" y2="569.49" stroke="#222" stroke-width="0.8"/>
<line x1="421.40" y1="566.02" x2="423.10" y2="566.02" stroke="#222" stroke-width="0.8"/>
<line x1="421.40" y1="562.54" x2="423.10" y2="562.54" stroke="#222" stroke-width="0.8"/>
<line x1="421.40" y1="559.06" x2="423.10" y2="559.06" stroke="#222" stroke-width="0.8"/>
<line x1="421.40" y1="555.59" x2="423.10" y2="555.59" stroke="#222" stroke-width="0.8"/>
<line x1="421.40" y1="552.11" x2="423.10" y2="552.11" stroke="#222" stroke-width="0.8"/>
<line x1="421.40" y1="548.64" x2="423.10" y2="548.64" stroke="#222" stroke-width="0.8"/>
<line x1="421.40" y1="545.16" x2="423.10" y2="545.16" stroke="#222" stroke-width="0.8"/>
<line x1="421.40" y1="541.68" x2="423.10" y2="541.68" stroke="#222" stroke-width="0.8"/>
<line x1="421.40" y1="538.21" x2="423.10" y2="538.21" stroke="#222" stroke-width="0.8"/>
<line x1="421.40" y1="534.73" x2="423.10" y2="534.73" stroke="#222" stroke-width="0.8"/>
<line x1="421.40" y1="531.26" x2="423.10" y2="531.26" stroke="#222" stroke-width="0.8"/>
<line x1="421.40" y1="527.78" x2="423.10" y2="527.78" stroke="#222" stroke-width="0.8"/>
<line x1="421.40" y1="524.30" x2="423.10" y2="524.30" stroke="#222" stroke-width="0.8"/>
<line x1="421.40" y1="520.83" x2="423.10" y2="520.83" stroke="#222" stroke-width="0.8"/>
<line x1="421.40" y1="517.35" x2="423.10" y2="517.35" stroke="#222" stroke-width="0.8"/>
<line x1="421.40" y1="513.88" x2="423.10" y2="513.88" stroke="#222" stroke-width="0.8"/>
<line x1="421.40" y1="510.40" x2="423.10" y2="510.40" stroke="#222" stroke-width="0.8"/>
<line x1="419.90" y1="597.30" x2="423.10" y2="597.30" stroke="#222" stroke-width="1.1"/>
<text x="417.70" y="600.20" font-size="8.4" text-anchor="end" fill="#333" textLength="4.9" lengthAdjust="spacingAndGlyphs">0</text>
<line x1="419.90" y1="579.92" x2="423.10" y2="579.92" stroke="#222" stroke-width="1.1"/>
<text x="417.70" y="582.82" font-size="8.4" text-anchor="end" fill="#333" textLength="4.9" lengthAdjust="spacingAndGlyphs">5</text>
<line x1="419.90" y1="562.54" x2="423.10" y2="562.54" stroke="#222" stroke-width="1.1"/>
<text x="417.70" y="565.44" font-size="8.4" text-anchor="end" fill="#333" textLength="9.8" lengthAdjust="spacingAndGlyphs">10</text>
<line x1="419.90" y1="545.16" x2="423.10" y2="545.16" stroke="#222" stroke-width="1.1"/>
<text x="417.70" y="548.06" font-size="8.4" text-anchor="end" fill="#333" textLength="9.8" lengthAdjust="spacingAndGlyphs">15</text>
<line x1="419.90" y1="527.78" x2="423.10" y2="527.78" stroke="#222" stroke-width="1.1"/>
<text x="417.70" y="530.68" font-size="8.4" text-anchor="end" fill="#333" textLength="9.8" lengthAdjust="spacingAndGlyphs">20</text>
<line x1="419.90" y1="510.40" x2="423.10" y2="510.40" stroke="#222" stroke-width="1.1"/>
<text x="417.70" y="513.30" font-size="8.4" text-anchor="end" fill="#333" textLength="9.8" lengthAdjust="spacingAndGlyphs">25</text>
<line x1="426.10" y1="597.30" x2="426.10" y2="600.30" stroke="#222" stroke-width="0.85"/>
<line x1="431.95" y1="597.30" x2="431.95" y2="599.40" stroke="#222" stroke-width="0.85"/>
<line x1="435.37" y1="597.30" x2="435.37" y2="599.40" stroke="#222" stroke-width="0.85"/>
<line x1="437.79" y1="597.30" x2="437.79" y2="599.40" stroke="#222" stroke-width="0.85"/>
<line x1="439.67" y1="597.30" x2="439.67" y2="599.40" stroke="#222" stroke-width="0.85"/>
<line x1="441.21" y1="597.30" x2="441.21" y2="599.40" stroke="#222" stroke-width="0.85"/>
<line x1="442.51" y1="597.30" x2="442.51" y2="599.40" stroke="#222" stroke-width="0.85"/>
<line x1="443.64" y1="597.30" x2="443.64" y2="599.40" stroke="#222" stroke-width="0.85"/>
<line x1="444.63" y1="597.30" x2="444.63" y2="599.40" stroke="#222" stroke-width="0.85"/>
<line x1="445.52" y1="597.30" x2="445.52" y2="600.30" stroke="#222" stroke-width="0.85"/>
<line x1="451.36" y1="597.30" x2="451.36" y2="599.40" stroke="#222" stroke-width="0.85"/>
<line x1="454.78" y1="597.30" x2="454.78" y2="599.40" stroke="#222" stroke-width="0.85"/>
<line x1="457.21" y1="597.30" x2="457.21" y2="599.40" stroke="#222" stroke-width="0.85"/>
<line x1="459.09" y1="597.30" x2="459.09" y2="599.40" stroke="#222" stroke-width="0.85"/>
<line x1="460.63" y1="597.30" x2="460.63" y2="599.40" stroke="#222" stroke-width="0.85"/>
<line x1="461.93" y1="597.30" x2="461.93" y2="599.40" stroke="#222" stroke-width="0.85"/>
<line x1="463.06" y1="597.30" x2="463.06" y2="599.40" stroke="#222" stroke-width="0.85"/>
<line x1="464.05" y1="597.30" x2="464.05" y2="599.40" stroke="#222" stroke-width="0.85"/>
<line x1="464.94" y1="597.30" x2="464.94" y2="600.30" stroke="#222" stroke-width="0.85"/>
<line x1="470.78" y1="597.30" x2="470.78" y2="599.40" stroke="#222" stroke-width="0.85"/>
<line x1="474.20" y1="597.30" x2="474.20" y2="599.40" stroke="#222" stroke-width="0.85"/>
<line x1="476.63" y1="597.30" x2="476.63" y2="599.40" stroke="#222" stroke-width="0.85"/>
<line x1="478.51" y1="597.30" x2="478.51" y2="599.40" stroke="#222" stroke-width="0.85"/>
<line x1="480.05" y1="597.30" x2="480.05" y2="599.40" stroke="#222" stroke-width="0.85"/>
<line x1="481.35" y1="597.30" x2="481.35" y2="599.40" stroke="#222" stroke-width="0.85"/>
<line x1="482.47" y1="597.30" x2="482.47" y2="599.40" stroke="#222" stroke-width="0.85"/>
<line x1="483.47" y1="597.30" x2="483.47" y2="599.40" stroke="#222" stroke-width="0.85"/>
<line x1="484.36" y1="597.30" x2="484.36" y2="600.30" stroke="#222" stroke-width="0.85"/>
<line x1="490.20" y1="597.30" x2="490.20" y2="599.40" stroke="#222" stroke-width="0.85"/>
<line x1="493.62" y1="597.30" x2="493.62" y2="599.40" stroke="#222" stroke-width="0.85"/>
<line x1="496.05" y1="597.30" x2="496.05" y2="599.40" stroke="#222" stroke-width="0.85"/>
<line x1="497.93" y1="597.30" x2="497.93" y2="599.40" stroke="#222" stroke-width="0.85"/>
<line x1="499.47" y1="597.30" x2="499.47" y2="599.40" stroke="#222" stroke-width="0.85"/>
<line x1="500.77" y1="597.30" x2="500.77" y2="599.40" stroke="#222" stroke-width="0.85"/>
<line x1="501.89" y1="597.30" x2="501.89" y2="599.40" stroke="#222" stroke-width="0.85"/>
<line x1="502.89" y1="597.30" x2="502.89" y2="599.40" stroke="#222" stroke-width="0.85"/>
<line x1="503.77" y1="597.30" x2="503.77" y2="600.30" stroke="#222" stroke-width="0.85"/>
<line x1="509.62" y1="597.30" x2="509.62" y2="599.40" stroke="#222" stroke-width="0.85"/>
<text x="430.60" y="520.50" font-size="8.3" text-anchor="start" fill="#333" font-style="italic" textLength="53.5" lengthAdjust="spacingAndGlyphs">Cd44<tspan font-style="normal">&#916;</tspan>B<tspan font-style="normal"> Tcl1-tg</tspan></text>
<text x="0" y="0" font-size="10.3" text-anchor="middle" fill="#333" textLength="11.1" lengthAdjust="spacingAndGlyphs" transform="translate(287.81 446.40) rotate(-90)">BM</text>
<text x="0" y="0" font-size="10.8" text-anchor="middle" fill="#333" textLength="12" lengthAdjust="spacingAndGlyphs" transform="translate(287.89 551.00) rotate(-90)">SPL</text>
<text x="352.90" y="612.50" font-size="10.5" text-anchor="middle" fill="#222" textLength="53.2" lengthAdjust="spacingAndGlyphs">Cell trace violet</text>
<text x="467.50" y="612.80" font-size="10.5" text-anchor="middle" fill="#222" textLength="17" lengthAdjust="spacingAndGlyphs">CFSE</text>
<rect x="0" y="0" width="520" height="1.1" fill="#000"/>
<rect x="0" y="0" width="1.2" height="651" fill="#000"/>
<rect x="518.5" y="0" width="1.5" height="651" fill="#000"/>
<rect x="0" y="649.1" width="520" height="1.9" fill="#000"/></svg>
</body></html>
